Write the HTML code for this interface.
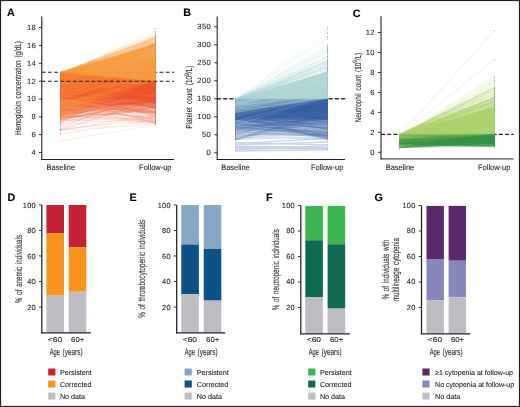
<!DOCTYPE html><html><head><meta charset="utf-8"><style>html,body{margin:0;padding:0;background:#fff;width:520px;height:407px;overflow:hidden}svg{display:block;will-change:transform}text{font-family:"Liberation Sans",sans-serif;stroke:#231f20;stroke-width:0.1px;text-rendering:geometricPrecision}path{vector-effect:non-scaling-stroke;stroke-width:1px;fill:none}.w path{stroke-width:1.3px}</style></head><body><svg width="520" height="407" viewBox="0 0 520 407" font-family="Liberation Sans, sans-serif" fill="#231f20">
<rect x="0" y="0" width="520" height="407" fill="#fff"/>
<g fill="#7a7a7a">
<rect x="59.9" y="71.9" width="0.7" height="52.3"/>
<rect x="59.9" y="124.5" width="0.7" height="0.7"/>
<rect x="59.9" y="125.8" width="0.7" height="0.7"/>
<rect x="59.9" y="127.6" width="0.7" height="0.7"/>
<rect x="59.9" y="128.7" width="0.7" height="2.3"/>
<rect x="59.9" y="132.6" width="0.7" height="1.6"/>
<rect x="59.9" y="140.6" width="0.7" height="0.7"/>
</g>
<g fill="#7a7a7a">
<rect x="155.2" y="28.4" width="0.7" height="0.7"/>
<rect x="155.2" y="31" width="0.7" height="0.7"/>
<rect x="155.2" y="32.6" width="0.7" height="1.2"/>
<rect x="155.2" y="35" width="0.7" height="83.2"/>
<rect x="155.2" y="118.4" width="0.7" height="2.5"/>
<rect x="155.2" y="121.2" width="0.7" height="4.1"/>
</g>
<line x1="41.8" y1="72.2" x2="174" y2="72.2" stroke="#231f20" stroke-width="1.1" stroke-dasharray="3.8 2.4"/>
<g stroke="#f04e2e" stroke-opacity="0.11" transform="translate(60.2 0) scale(95.3 0.1)">
<path d="M0 1306 1 1243"/><path d="M0 1239 1 1066"/><path d="M0 1192 1 1239"/><path d="M0 1176 1 1115"/><path d="M0 1160 1 1076"/><path d="M0 1149 1 997"/><path d="M0 1137 1 1035"/><path d="M0 1120 1 896"/><path d="M0 1110 1 1002"/><path d="M0 1097 1 935"/><path d="M0 1093 1 981"/><path d="M0 1077 1 1008"/><path d="M0 1071 1 969"/><path d="M0 1060 1 1032"/><path d="M0 1050 1 921"/><path d="M0 1036 1 1144"/><path d="M0 1023 1 1126"/><path d="M0 1008 1 1070"/><path d="M0 1001 1 956"/><path d="M0 988 1 980"/><path d="M0 985 1 1230"/><path d="M0 981 1 863"/><path d="M0 979 1 1038"/><path d="M0 975 1 1015"/><path d="M0 970 1 1075"/><path d="M0 965 1 986"/><path d="M0 960 1 1043"/><path d="M0 957 1 853"/><path d="M0 955 1 889"/><path d="M0 951 1 821"/><path d="M0 949 1 939"/><path d="M0 946 1 819"/><path d="M0 942 1 1195"/><path d="M0 939 1 882"/><path d="M0 936 1 835"/><path d="M0 933 1 985"/><path d="M0 930 1 921"/><path d="M0 925 1 954"/><path d="M0 922 1 944"/><path d="M0 918 1 976"/><path d="M0 909 1 1175"/><path d="M0 905 1 1052"/><path d="M0 902 1 1014"/><path d="M0 897 1 892"/><path d="M0 894 1 1090"/><path d="M0 890 1 952"/><path d="M0 886 1 868"/><path d="M0 882 1 951"/><path d="M0 878 1 1122"/><path d="M0 875 1 1053"/><path d="M0 869 1 1031"/><path d="M0 864 1 993"/><path d="M0 861 1 886"/><path d="M0 858 1 943"/><path d="M0 855 1 947"/><path d="M0 851 1 871"/><path d="M0 847 1 930"/><path d="M0 844 1 857"/><path d="M0 841 1 993"/><path d="M0 838 1 980"/><path d="M0 835 1 883"/><path d="M0 830 1 977"/><path d="M0 827 1 863"/><path d="M0 822 1 840"/><path d="M0 818 1 852"/><path d="M0 816 1 862"/><path d="M0 814 1 995"/><path d="M0 811 1 1052"/><path d="M0 809 1 814"/><path d="M0 805 1 843"/><path d="M0 802 1 1084"/><path d="M0 799 1 837"/><path d="M0 795 1 840"/><path d="M0 792 1 831"/><path d="M0 789 1 869"/><path d="M0 787 1 879"/><path d="M0 785 1 1083"/><path d="M0 782 1 1076"/><path d="M0 777 1 900"/><path d="M0 773 1 838"/><path d="M0 769 1 856"/><path d="M0 766 1 831"/><path d="M0 764 1 904"/><path d="M0 762 1 851"/><path d="M0 759 1 1015"/><path d="M0 756 1 837"/><path d="M0 752 1 827"/><path d="M0 749 1 830"/><path d="M0 746 1 845"/><path d="M0 744 1 820"/><path d="M0 739 1 818"/><path d="M0 736 1 814"/><path d="M0 734 1 873"/><path d="M0 732 1 967"/><path d="M0 730 1 858"/><path d="M0 726 1 897"/><path d="M0 1410 1 1249"/>
</g>
<g stroke="#f69c41" stroke-opacity="0.11" transform="translate(60.2 0) scale(95.3 0.1)">
<path d="M0 1233 1 663"/><path d="M0 1202 1 769"/><path d="M0 1175 1 796"/><path d="M0 1151 1 714"/><path d="M0 1145 1 811"/><path d="M0 1135 1 756"/><path d="M0 1128 1 795"/><path d="M0 1118 1 804"/><path d="M0 1112 1 795"/><path d="M0 1106 1 803"/><path d="M0 1096 1 752"/><path d="M0 1089 1 799"/><path d="M0 1082 1 763"/><path d="M0 1073 1 580"/><path d="M0 1068 1 794"/><path d="M0 1061 1 786"/><path d="M0 1056 1 766"/><path d="M0 1048 1 735"/><path d="M0 1043 1 781"/><path d="M0 1038 1 737"/><path d="M0 1030 1 772"/><path d="M0 1020 1 766"/><path d="M0 1013 1 777"/><path d="M0 1000 1 727"/><path d="M0 990 1 675"/><path d="M0 985 1 737"/><path d="M0 979 1 806"/><path d="M0 975 1 712"/><path d="M0 971 1 765"/><path d="M0 969 1 691"/><path d="M0 965 1 670"/><path d="M0 961 1 750"/><path d="M0 958 1 748"/><path d="M0 955 1 668"/><path d="M0 950 1 715"/><path d="M0 947 1 793"/><path d="M0 941 1 720"/><path d="M0 935 1 684"/><path d="M0 932 1 635"/><path d="M0 927 1 641"/><path d="M0 920 1 665"/><path d="M0 916 1 724"/><path d="M0 914 1 497"/><path d="M0 910 1 641"/><path d="M0 906 1 636"/><path d="M0 903 1 787"/><path d="M0 902 1 752"/><path d="M0 899 1 698"/><path d="M0 896 1 656"/><path d="M0 891 1 674"/><path d="M0 887 1 684"/><path d="M0 884 1 617"/><path d="M0 881 1 733"/><path d="M0 877 1 789"/><path d="M0 874 1 652"/><path d="M0 867 1 598"/><path d="M0 864 1 683"/><path d="M0 860 1 619"/><path d="M0 857 1 571"/><path d="M0 854 1 544"/><path d="M0 852 1 590"/><path d="M0 849 1 690"/><path d="M0 846 1 717"/><path d="M0 844 1 715"/><path d="M0 843 1 545"/><path d="M0 841 1 625"/><path d="M0 837 1 733"/><path d="M0 835 1 758"/><path d="M0 832 1 775"/><path d="M0 829 1 602"/><path d="M0 828 1 702"/><path d="M0 827 1 458"/><path d="M0 824 1 755"/><path d="M0 822 1 556"/><path d="M0 819 1 743"/><path d="M0 817 1 472"/><path d="M0 815 1 748"/><path d="M0 812 1 726"/><path d="M0 810 1 464"/><path d="M0 809 1 730"/><path d="M0 806 1 668"/><path d="M0 804 1 597"/><path d="M0 802 1 705"/><path d="M0 798 1 439"/><path d="M0 795 1 563"/><path d="M0 792 1 497"/><path d="M0 789 1 636"/><path d="M0 787 1 578"/><path d="M0 785 1 606"/><path d="M0 782 1 625"/><path d="M0 781 1 474"/><path d="M0 780 1 443"/><path d="M0 777 1 560"/><path d="M0 775 1 599"/><path d="M0 774 1 689"/><path d="M0 772 1 394"/><path d="M0 770 1 600"/><path d="M0 769 1 502"/><path d="M0 767 1 700"/><path d="M0 765 1 545"/><path d="M0 763 1 422"/><path d="M0 761 1 715"/><path d="M0 759 1 519"/><path d="M0 756 1 727"/><path d="M0 755 1 554"/><path d="M0 753 1 642"/><path d="M0 750 1 494"/><path d="M0 747 1 439"/><path d="M0 745 1 536"/><path d="M0 742 1 629"/><path d="M0 741 1 516"/><path d="M0 738 1 384"/><path d="M0 735 1 496"/><path d="M0 734 1 390"/><path d="M0 732 1 557"/><path d="M0 731 1 409"/><path d="M0 729 1 563"/><path d="M0 728 1 403"/><path d="M0 726 1 588"/><path d="M0 725 1 601"/>
</g>
<g stroke="#f04e2e" stroke-opacity="0.11" transform="translate(60.2 0) scale(95.3 0.1)">
<path d="M0 1305 1 1003"/><path d="M0 1219 1 1079"/><path d="M0 1188 1 1095"/><path d="M0 1176 1 963"/><path d="M0 1159 1 1025"/><path d="M0 1149 1 1005"/><path d="M0 1136 1 1227"/><path d="M0 1120 1 1088"/><path d="M0 1110 1 1221"/><path d="M0 1097 1 1090"/><path d="M0 1092 1 881"/><path d="M0 1077 1 931"/><path d="M0 1071 1 1022"/><path d="M0 1058 1 1034"/><path d="M0 1048 1 965"/><path d="M0 1036 1 884"/><path d="M0 1022 1 1024"/><path d="M0 1008 1 971"/><path d="M0 999 1 1048"/><path d="M0 988 1 879"/><path d="M0 984 1 897"/><path d="M0 981 1 979"/><path d="M0 978 1 879"/><path d="M0 975 1 869"/><path d="M0 970 1 947"/><path d="M0 964 1 1139"/><path d="M0 960 1 1007"/><path d="M0 957 1 901"/><path d="M0 954 1 933"/><path d="M0 951 1 1026"/><path d="M0 949 1 865"/><path d="M0 946 1 845"/><path d="M0 942 1 911"/><path d="M0 939 1 885"/><path d="M0 936 1 1085"/><path d="M0 933 1 878"/><path d="M0 929 1 1020"/><path d="M0 924 1 839"/><path d="M0 922 1 927"/><path d="M0 918 1 870"/><path d="M0 909 1 1141"/><path d="M0 905 1 819"/><path d="M0 901 1 862"/><path d="M0 896 1 816"/><path d="M0 894 1 874"/><path d="M0 889 1 1079"/><path d="M0 886 1 912"/><path d="M0 882 1 923"/><path d="M0 878 1 853"/><path d="M0 874 1 1018"/><path d="M0 869 1 957"/><path d="M0 864 1 1014"/><path d="M0 861 1 854"/><path d="M0 858 1 1003"/><path d="M0 855 1 858"/><path d="M0 850 1 937"/><path d="M0 847 1 909"/><path d="M0 844 1 883"/><path d="M0 840 1 1051"/><path d="M0 838 1 824"/><path d="M0 834 1 837"/><path d="M0 830 1 815"/><path d="M0 827 1 832"/><path d="M0 822 1 868"/><path d="M0 818 1 965"/><path d="M0 816 1 828"/><path d="M0 813 1 1015"/><path d="M0 811 1 880"/><path d="M0 808 1 918"/><path d="M0 805 1 872"/><path d="M0 802 1 828"/><path d="M0 799 1 1014"/><path d="M0 794 1 1001"/><path d="M0 792 1 1040"/><path d="M0 789 1 814"/><path d="M0 787 1 852"/><path d="M0 785 1 827"/><path d="M0 782 1 827"/><path d="M0 776 1 888"/><path d="M0 772 1 832"/><path d="M0 769 1 848"/><path d="M0 766 1 847"/><path d="M0 764 1 814"/><path d="M0 762 1 841"/><path d="M0 758 1 817"/><path d="M0 756 1 832"/><path d="M0 752 1 821"/><path d="M0 749 1 942"/><path d="M0 746 1 850"/><path d="M0 744 1 934"/><path d="M0 739 1 812"/><path d="M0 736 1 817"/><path d="M0 734 1 832"/><path d="M0 732 1 864"/><path d="M0 729 1 817"/><path d="M0 726 1 826"/><path d="M0 1338 1 1205"/>
</g>
<g stroke="#f69c41" stroke-opacity="0.11" transform="translate(60.2 0) scale(95.3 0.1)">
<path d="M0 1231 1 778"/><path d="M0 1201 1 746"/><path d="M0 1172 1 795"/><path d="M0 1151 1 802"/><path d="M0 1144 1 784"/><path d="M0 1134 1 738"/><path d="M0 1126 1 796"/><path d="M0 1118 1 722"/><path d="M0 1111 1 778"/><path d="M0 1104 1 637"/><path d="M0 1094 1 778"/><path d="M0 1088 1 725"/><path d="M0 1081 1 779"/><path d="M0 1073 1 807"/><path d="M0 1066 1 571"/><path d="M0 1060 1 645"/><path d="M0 1055 1 628"/><path d="M0 1047 1 803"/><path d="M0 1043 1 744"/><path d="M0 1037 1 660"/><path d="M0 1030 1 803"/><path d="M0 1020 1 799"/><path d="M0 1010 1 585"/><path d="M0 999 1 728"/><path d="M0 988 1 665"/><path d="M0 984 1 705"/><path d="M0 978 1 757"/><path d="M0 975 1 694"/><path d="M0 971 1 773"/><path d="M0 968 1 809"/><path d="M0 965 1 802"/><path d="M0 961 1 685"/><path d="M0 958 1 704"/><path d="M0 954 1 794"/><path d="M0 950 1 626"/><path d="M0 946 1 730"/><path d="M0 941 1 467"/><path d="M0 935 1 704"/><path d="M0 931 1 618"/><path d="M0 926 1 629"/><path d="M0 920 1 747"/><path d="M0 916 1 593"/><path d="M0 914 1 686"/><path d="M0 910 1 719"/><path d="M0 906 1 658"/><path d="M0 903 1 728"/><path d="M0 902 1 718"/><path d="M0 899 1 595"/><path d="M0 896 1 738"/><path d="M0 890 1 524"/><path d="M0 887 1 468"/><path d="M0 883 1 785"/><path d="M0 880 1 629"/><path d="M0 877 1 659"/><path d="M0 872 1 608"/><path d="M0 867 1 633"/><path d="M0 863 1 642"/><path d="M0 860 1 481"/><path d="M0 856 1 641"/><path d="M0 854 1 602"/><path d="M0 852 1 646"/><path d="M0 849 1 543"/><path d="M0 846 1 599"/><path d="M0 844 1 641"/><path d="M0 843 1 740"/><path d="M0 841 1 579"/><path d="M0 836 1 627"/><path d="M0 834 1 462"/><path d="M0 831 1 586"/><path d="M0 829 1 803"/><path d="M0 828 1 675"/><path d="M0 827 1 447"/><path d="M0 823 1 765"/><path d="M0 822 1 658"/><path d="M0 819 1 458"/><path d="M0 817 1 680"/><path d="M0 815 1 669"/><path d="M0 812 1 560"/><path d="M0 810 1 646"/><path d="M0 808 1 608"/><path d="M0 806 1 508"/><path d="M0 804 1 549"/><path d="M0 801 1 465"/><path d="M0 798 1 671"/><path d="M0 795 1 763"/><path d="M0 791 1 624"/><path d="M0 789 1 604"/><path d="M0 787 1 595"/><path d="M0 785 1 485"/><path d="M0 782 1 627"/><path d="M0 781 1 542"/><path d="M0 780 1 750"/><path d="M0 777 1 623"/><path d="M0 775 1 374"/><path d="M0 774 1 580"/><path d="M0 771 1 713"/><path d="M0 770 1 553"/><path d="M0 768 1 648"/><path d="M0 767 1 598"/><path d="M0 764 1 583"/><path d="M0 762 1 534"/><path d="M0 760 1 520"/><path d="M0 759 1 518"/><path d="M0 756 1 545"/><path d="M0 755 1 695"/><path d="M0 753 1 423"/><path d="M0 750 1 454"/><path d="M0 747 1 586"/><path d="M0 745 1 456"/><path d="M0 742 1 615"/><path d="M0 739 1 329"/><path d="M0 737 1 385"/><path d="M0 735 1 478"/><path d="M0 733 1 678"/><path d="M0 732 1 642"/><path d="M0 730 1 461"/><path d="M0 729 1 467"/><path d="M0 728 1 537"/><path d="M0 726 1 383"/><path d="M0 725 1 495"/>
</g>
<g stroke="#f04e2e" stroke-opacity="0.11" transform="translate(60.2 0) scale(95.3 0.1)">
<path d="M0 1302 1 1142"/><path d="M0 1216 1 1068"/><path d="M0 1186 1 1021"/><path d="M0 1175 1 1073"/><path d="M0 1159 1 1193"/><path d="M0 1148 1 942"/><path d="M0 1134 1 994"/><path d="M0 1120 1 988"/><path d="M0 1109 1 1006"/><path d="M0 1096 1 900"/><path d="M0 1091 1 876"/><path d="M0 1077 1 1030"/><path d="M0 1069 1 1042"/><path d="M0 1058 1 1065"/><path d="M0 1048 1 1197"/><path d="M0 1034 1 1012"/><path d="M0 1021 1 887"/><path d="M0 1008 1 871"/><path d="M0 996 1 877"/><path d="M0 988 1 958"/><path d="M0 984 1 892"/><path d="M0 981 1 989"/><path d="M0 978 1 930"/><path d="M0 974 1 990"/><path d="M0 969 1 1030"/><path d="M0 964 1 971"/><path d="M0 959 1 975"/><path d="M0 957 1 965"/><path d="M0 954 1 922"/><path d="M0 951 1 981"/><path d="M0 948 1 973"/><path d="M0 946 1 987"/><path d="M0 941 1 1016"/><path d="M0 939 1 944"/><path d="M0 936 1 1058"/><path d="M0 932 1 868"/><path d="M0 929 1 878"/><path d="M0 924 1 886"/><path d="M0 921 1 892"/><path d="M0 917 1 853"/><path d="M0 908 1 1073"/><path d="M0 905 1 1206"/><path d="M0 901 1 892"/><path d="M0 895 1 1024"/><path d="M0 892 1 972"/><path d="M0 889 1 846"/><path d="M0 885 1 895"/><path d="M0 882 1 978"/><path d="M0 877 1 857"/><path d="M0 874 1 846"/><path d="M0 867 1 895"/><path d="M0 864 1 870"/><path d="M0 861 1 920"/><path d="M0 858 1 1009"/><path d="M0 855 1 880"/><path d="M0 850 1 868"/><path d="M0 847 1 848"/><path d="M0 844 1 876"/><path d="M0 840 1 976"/><path d="M0 838 1 1021"/><path d="M0 834 1 829"/><path d="M0 829 1 988"/><path d="M0 827 1 840"/><path d="M0 821 1 840"/><path d="M0 817 1 879"/><path d="M0 816 1 1006"/><path d="M0 813 1 846"/><path d="M0 811 1 850"/><path d="M0 808 1 825"/><path d="M0 804 1 826"/><path d="M0 801 1 940"/><path d="M0 798 1 870"/><path d="M0 794 1 984"/><path d="M0 792 1 847"/><path d="M0 789 1 830"/><path d="M0 787 1 1025"/><path d="M0 784 1 884"/><path d="M0 781 1 825"/><path d="M0 776 1 1127"/><path d="M0 771 1 914"/><path d="M0 768 1 893"/><path d="M0 766 1 812"/><path d="M0 763 1 940"/><path d="M0 761 1 926"/><path d="M0 758 1 883"/><path d="M0 756 1 817"/><path d="M0 752 1 851"/><path d="M0 749 1 824"/><path d="M0 746 1 824"/><path d="M0 743 1 820"/><path d="M0 739 1 824"/><path d="M0 736 1 876"/><path d="M0 734 1 965"/><path d="M0 732 1 836"/><path d="M0 729 1 822"/><path d="M0 726 1 820"/><path d="M0 1303 1 1169"/>
</g>
<g stroke="#f69c41" stroke-opacity="0.11" transform="translate(60.2 0) scale(95.3 0.1)">
<path d="M0 1229 1 766"/><path d="M0 1201 1 697"/><path d="M0 1171 1 779"/><path d="M0 1150 1 731"/><path d="M0 1143 1 810"/><path d="M0 1132 1 634"/><path d="M0 1125 1 808"/><path d="M0 1117 1 722"/><path d="M0 1111 1 777"/><path d="M0 1103 1 742"/><path d="M0 1094 1 778"/><path d="M0 1088 1 776"/><path d="M0 1081 1 741"/><path d="M0 1072 1 610"/><path d="M0 1066 1 639"/><path d="M0 1060 1 600"/><path d="M0 1053 1 736"/><path d="M0 1047 1 741"/><path d="M0 1042 1 662"/><path d="M0 1037 1 666"/><path d="M0 1029 1 742"/><path d="M0 1020 1 797"/><path d="M0 1010 1 763"/><path d="M0 998 1 779"/><path d="M0 987 1 627"/><path d="M0 984 1 785"/><path d="M0 977 1 790"/><path d="M0 974 1 685"/><path d="M0 971 1 673"/><path d="M0 968 1 701"/><path d="M0 964 1 734"/><path d="M0 961 1 788"/><path d="M0 958 1 722"/><path d="M0 954 1 721"/><path d="M0 950 1 753"/><path d="M0 946 1 629"/><path d="M0 940 1 546"/><path d="M0 934 1 765"/><path d="M0 931 1 655"/><path d="M0 925 1 775"/><path d="M0 919 1 686"/><path d="M0 916 1 738"/><path d="M0 914 1 766"/><path d="M0 909 1 562"/><path d="M0 906 1 581"/><path d="M0 903 1 809"/><path d="M0 902 1 725"/><path d="M0 899 1 735"/><path d="M0 894 1 683"/><path d="M0 890 1 517"/><path d="M0 887 1 770"/><path d="M0 883 1 705"/><path d="M0 879 1 759"/><path d="M0 876 1 805"/><path d="M0 872 1 760"/><path d="M0 866 1 613"/><path d="M0 863 1 694"/><path d="M0 859 1 725"/><path d="M0 856 1 744"/><path d="M0 854 1 574"/><path d="M0 852 1 712"/><path d="M0 849 1 642"/><path d="M0 846 1 643"/><path d="M0 844 1 603"/><path d="M0 843 1 698"/><path d="M0 841 1 737"/><path d="M0 836 1 710"/><path d="M0 834 1 668"/><path d="M0 831 1 693"/><path d="M0 829 1 674"/><path d="M0 828 1 542"/><path d="M0 827 1 699"/><path d="M0 823 1 747"/><path d="M0 822 1 619"/><path d="M0 819 1 514"/><path d="M0 817 1 597"/><path d="M0 815 1 734"/><path d="M0 812 1 465"/><path d="M0 809 1 604"/><path d="M0 808 1 760"/><path d="M0 806 1 728"/><path d="M0 804 1 641"/><path d="M0 801 1 644"/><path d="M0 798 1 455"/><path d="M0 795 1 523"/><path d="M0 791 1 714"/><path d="M0 788 1 637"/><path d="M0 787 1 512"/><path d="M0 784 1 598"/><path d="M0 782 1 489"/><path d="M0 781 1 680"/><path d="M0 779 1 570"/><path d="M0 777 1 525"/><path d="M0 775 1 443"/><path d="M0 773 1 456"/><path d="M0 771 1 673"/><path d="M0 770 1 510"/><path d="M0 768 1 630"/><path d="M0 767 1 724"/><path d="M0 764 1 425"/><path d="M0 762 1 501"/><path d="M0 760 1 616"/><path d="M0 758 1 553"/><path d="M0 756 1 690"/><path d="M0 754 1 509"/><path d="M0 753 1 447"/><path d="M0 750 1 627"/><path d="M0 746 1 478"/><path d="M0 744 1 491"/><path d="M0 742 1 601"/><path d="M0 739 1 388"/><path d="M0 737 1 579"/><path d="M0 735 1 570"/><path d="M0 733 1 523"/><path d="M0 732 1 614"/><path d="M0 730 1 498"/><path d="M0 729 1 460"/><path d="M0 727 1 551"/><path d="M0 726 1 448"/><path d="M0 725 1 695"/>
</g>
<g stroke="#f04e2e" stroke-opacity="0.11" transform="translate(60.2 0) scale(95.3 0.1)">
<path d="M0 1294 1 993"/><path d="M0 1210 1 1164"/><path d="M0 1185 1 913"/><path d="M0 1169 1 1225"/><path d="M0 1159 1 859"/><path d="M0 1148 1 956"/><path d="M0 1131 1 952"/><path d="M0 1118 1 947"/><path d="M0 1109 1 881"/><path d="M0 1096 1 1126"/><path d="M0 1090 1 1049"/><path d="M0 1076 1 1009"/><path d="M0 1068 1 853"/><path d="M0 1057 1 1007"/><path d="M0 1045 1 951"/><path d="M0 1034 1 925"/><path d="M0 1019 1 1070"/><path d="M0 1008 1 1161"/><path d="M0 996 1 1225"/><path d="M0 988 1 937"/><path d="M0 984 1 1071"/><path d="M0 980 1 1024"/><path d="M0 978 1 938"/><path d="M0 973 1 1049"/><path d="M0 969 1 945"/><path d="M0 964 1 929"/><path d="M0 959 1 939"/><path d="M0 957 1 1069"/><path d="M0 954 1 918"/><path d="M0 951 1 924"/><path d="M0 948 1 996"/><path d="M0 945 1 1031"/><path d="M0 941 1 1113"/><path d="M0 939 1 1069"/><path d="M0 935 1 985"/><path d="M0 932 1 1044"/><path d="M0 928 1 1023"/><path d="M0 924 1 872"/><path d="M0 921 1 829"/><path d="M0 916 1 975"/><path d="M0 908 1 982"/><path d="M0 905 1 941"/><path d="M0 900 1 844"/><path d="M0 895 1 854"/><path d="M0 892 1 877"/><path d="M0 888 1 893"/><path d="M0 885 1 856"/><path d="M0 880 1 965"/><path d="M0 877 1 1128"/><path d="M0 874 1 1035"/><path d="M0 867 1 1001"/><path d="M0 862 1 863"/><path d="M0 860 1 973"/><path d="M0 858 1 854"/><path d="M0 855 1 909"/><path d="M0 849 1 836"/><path d="M0 846 1 940"/><path d="M0 843 1 942"/><path d="M0 840 1 856"/><path d="M0 837 1 828"/><path d="M0 833 1 864"/><path d="M0 829 1 977"/><path d="M0 827 1 828"/><path d="M0 821 1 838"/><path d="M0 817 1 1002"/><path d="M0 816 1 849"/><path d="M0 813 1 878"/><path d="M0 811 1 855"/><path d="M0 808 1 816"/><path d="M0 804 1 889"/><path d="M0 801 1 912"/><path d="M0 798 1 986"/><path d="M0 794 1 885"/><path d="M0 792 1 948"/><path d="M0 789 1 819"/><path d="M0 787 1 883"/><path d="M0 784 1 812"/><path d="M0 780 1 901"/><path d="M0 776 1 922"/><path d="M0 770 1 826"/><path d="M0 768 1 874"/><path d="M0 766 1 854"/><path d="M0 763 1 879"/><path d="M0 760 1 1003"/><path d="M0 758 1 881"/><path d="M0 755 1 862"/><path d="M0 750 1 813"/><path d="M0 748 1 922"/><path d="M0 745 1 871"/><path d="M0 742 1 867"/><path d="M0 739 1 841"/><path d="M0 736 1 874"/><path d="M0 734 1 843"/><path d="M0 731 1 816"/><path d="M0 729 1 908"/><path d="M0 725 1 853"/>
</g>
<g stroke="#f69c41" stroke-opacity="0.11" transform="translate(60.2 0) scale(95.3 0.1)">
<path d="M0 1227 1 801"/><path d="M0 1199 1 784"/><path d="M0 1165 1 810"/><path d="M0 1148 1 787"/><path d="M0 1142 1 784"/><path d="M0 1131 1 788"/><path d="M0 1125 1 765"/><path d="M0 1116 1 760"/><path d="M0 1109 1 763"/><path d="M0 1102 1 737"/><path d="M0 1093 1 538"/><path d="M0 1087 1 618"/><path d="M0 1079 1 804"/><path d="M0 1071 1 790"/><path d="M0 1066 1 746"/><path d="M0 1060 1 761"/><path d="M0 1053 1 809"/><path d="M0 1046 1 768"/><path d="M0 1042 1 801"/><path d="M0 1036 1 734"/><path d="M0 1029 1 653"/><path d="M0 1019 1 761"/><path d="M0 1007 1 575"/><path d="M0 997 1 754"/><path d="M0 986 1 691"/><path d="M0 984 1 610"/><path d="M0 976 1 693"/><path d="M0 974 1 577"/><path d="M0 970 1 758"/><path d="M0 968 1 777"/><path d="M0 964 1 761"/><path d="M0 961 1 767"/><path d="M0 957 1 785"/><path d="M0 953 1 727"/><path d="M0 950 1 661"/><path d="M0 945 1 651"/><path d="M0 939 1 634"/><path d="M0 934 1 522"/><path d="M0 931 1 691"/><path d="M0 924 1 703"/><path d="M0 919 1 772"/><path d="M0 916 1 669"/><path d="M0 914 1 462"/><path d="M0 909 1 558"/><path d="M0 905 1 675"/><path d="M0 903 1 728"/><path d="M0 902 1 444"/><path d="M0 899 1 718"/><path d="M0 894 1 698"/><path d="M0 890 1 653"/><path d="M0 886 1 682"/><path d="M0 883 1 687"/><path d="M0 879 1 505"/><path d="M0 876 1 760"/><path d="M0 872 1 596"/><path d="M0 866 1 622"/><path d="M0 863 1 753"/><path d="M0 859 1 646"/><path d="M0 856 1 567"/><path d="M0 854 1 720"/><path d="M0 852 1 615"/><path d="M0 848 1 529"/><path d="M0 846 1 795"/><path d="M0 844 1 572"/><path d="M0 843 1 674"/><path d="M0 840 1 679"/><path d="M0 836 1 494"/><path d="M0 833 1 735"/><path d="M0 830 1 495"/><path d="M0 829 1 610"/><path d="M0 828 1 562"/><path d="M0 827 1 679"/><path d="M0 823 1 763"/><path d="M0 821 1 659"/><path d="M0 819 1 705"/><path d="M0 817 1 508"/><path d="M0 814 1 716"/><path d="M0 812 1 539"/><path d="M0 809 1 587"/><path d="M0 808 1 775"/><path d="M0 805 1 598"/><path d="M0 803 1 641"/><path d="M0 801 1 525"/><path d="M0 798 1 596"/><path d="M0 795 1 697"/><path d="M0 791 1 606"/><path d="M0 788 1 614"/><path d="M0 787 1 606"/><path d="M0 783 1 573"/><path d="M0 782 1 402"/><path d="M0 781 1 432"/><path d="M0 779 1 592"/><path d="M0 777 1 724"/><path d="M0 774 1 625"/><path d="M0 773 1 705"/><path d="M0 771 1 365"/><path d="M0 769 1 441"/><path d="M0 768 1 573"/><path d="M0 766 1 613"/><path d="M0 764 1 719"/><path d="M0 761 1 620"/><path d="M0 760 1 476"/><path d="M0 758 1 670"/><path d="M0 756 1 445"/><path d="M0 754 1 488"/><path d="M0 752 1 545"/><path d="M0 750 1 452"/><path d="M0 746 1 600"/><path d="M0 744 1 522"/><path d="M0 741 1 538"/><path d="M0 739 1 452"/><path d="M0 736 1 418"/><path d="M0 735 1 653"/><path d="M0 733 1 700"/><path d="M0 732 1 688"/><path d="M0 730 1 701"/><path d="M0 729 1 480"/><path d="M0 727 1 516"/><path d="M0 726 1 377"/><path d="M0 724 1 442"/>
</g>
<g stroke="#f04e2e" stroke-opacity="0.11" transform="translate(60.2 0) scale(95.3 0.1)">
<path d="M0 1293 1 999"/><path d="M0 1208 1 979"/><path d="M0 1185 1 1042"/><path d="M0 1169 1 950"/><path d="M0 1158 1 973"/><path d="M0 1146 1 1215"/><path d="M0 1129 1 1014"/><path d="M0 1118 1 1058"/><path d="M0 1108 1 838"/><path d="M0 1096 1 1225"/><path d="M0 1089 1 870"/><path d="M0 1076 1 891"/><path d="M0 1068 1 1012"/><path d="M0 1057 1 841"/><path d="M0 1045 1 1118"/><path d="M0 1028 1 1056"/><path d="M0 1016 1 890"/><path d="M0 1007 1 885"/><path d="M0 996 1 981"/><path d="M0 988 1 1012"/><path d="M0 983 1 1216"/><path d="M0 979 1 843"/><path d="M0 977 1 897"/><path d="M0 973 1 1126"/><path d="M0 967 1 885"/><path d="M0 964 1 989"/><path d="M0 959 1 1158"/><path d="M0 956 1 1054"/><path d="M0 953 1 1012"/><path d="M0 951 1 1075"/><path d="M0 948 1 939"/><path d="M0 945 1 914"/><path d="M0 941 1 1010"/><path d="M0 939 1 886"/><path d="M0 935 1 1009"/><path d="M0 931 1 898"/><path d="M0 928 1 860"/><path d="M0 924 1 825"/><path d="M0 920 1 1157"/><path d="M0 915 1 920"/><path d="M0 907 1 922"/><path d="M0 904 1 833"/><path d="M0 899 1 834"/><path d="M0 894 1 983"/><path d="M0 892 1 1024"/><path d="M0 888 1 846"/><path d="M0 885 1 942"/><path d="M0 880 1 839"/><path d="M0 877 1 850"/><path d="M0 873 1 1021"/><path d="M0 867 1 878"/><path d="M0 862 1 912"/><path d="M0 859 1 947"/><path d="M0 857 1 944"/><path d="M0 854 1 845"/><path d="M0 849 1 843"/><path d="M0 846 1 902"/><path d="M0 843 1 890"/><path d="M0 840 1 863"/><path d="M0 837 1 827"/><path d="M0 833 1 864"/><path d="M0 829 1 867"/><path d="M0 825 1 849"/><path d="M0 820 1 1015"/><path d="M0 817 1 877"/><path d="M0 816 1 939"/><path d="M0 813 1 1033"/><path d="M0 810 1 853"/><path d="M0 808 1 972"/><path d="M0 804 1 896"/><path d="M0 801 1 895"/><path d="M0 797 1 834"/><path d="M0 794 1 927"/><path d="M0 791 1 987"/><path d="M0 788 1 860"/><path d="M0 786 1 817"/><path d="M0 784 1 846"/><path d="M0 780 1 857"/><path d="M0 775 1 823"/><path d="M0 770 1 813"/><path d="M0 768 1 828"/><path d="M0 766 1 836"/><path d="M0 763 1 843"/><path d="M0 760 1 891"/><path d="M0 758 1 939"/><path d="M0 755 1 861"/><path d="M0 750 1 986"/><path d="M0 747 1 963"/><path d="M0 745 1 955"/><path d="M0 742 1 822"/><path d="M0 738 1 912"/><path d="M0 736 1 944"/><path d="M0 734 1 814"/><path d="M0 731 1 889"/><path d="M0 728 1 835"/><path d="M0 724 1 910"/>
</g>
<g stroke="#f69c41" stroke-opacity="0.11" transform="translate(60.2 0) scale(95.3 0.1)">
<path d="M0 1224 1 786"/><path d="M0 1197 1 811"/><path d="M0 1160 1 748"/><path d="M0 1147 1 800"/><path d="M0 1140 1 735"/><path d="M0 1131 1 771"/><path d="M0 1124 1 671"/><path d="M0 1115 1 718"/><path d="M0 1108 1 789"/><path d="M0 1101 1 727"/><path d="M0 1092 1 810"/><path d="M0 1086 1 747"/><path d="M0 1077 1 805"/><path d="M0 1071 1 731"/><path d="M0 1066 1 772"/><path d="M0 1059 1 721"/><path d="M0 1052 1 730"/><path d="M0 1046 1 630"/><path d="M0 1041 1 804"/><path d="M0 1036 1 697"/><path d="M0 1026 1 799"/><path d="M0 1019 1 758"/><path d="M0 1004 1 650"/><path d="M0 996 1 777"/><path d="M0 986 1 680"/><path d="M0 983 1 770"/><path d="M0 976 1 603"/><path d="M0 973 1 681"/><path d="M0 970 1 784"/><path d="M0 968 1 794"/><path d="M0 964 1 737"/><path d="M0 960 1 789"/><path d="M0 957 1 622"/><path d="M0 952 1 705"/><path d="M0 949 1 774"/><path d="M0 944 1 778"/><path d="M0 938 1 787"/><path d="M0 934 1 781"/><path d="M0 930 1 806"/><path d="M0 923 1 781"/><path d="M0 919 1 556"/><path d="M0 915 1 759"/><path d="M0 913 1 600"/><path d="M0 908 1 746"/><path d="M0 905 1 761"/><path d="M0 903 1 761"/><path d="M0 901 1 685"/><path d="M0 899 1 776"/><path d="M0 894 1 730"/><path d="M0 890 1 592"/><path d="M0 886 1 732"/><path d="M0 882 1 804"/><path d="M0 879 1 637"/><path d="M0 876 1 517"/><path d="M0 871 1 799"/><path d="M0 865 1 676"/><path d="M0 863 1 778"/><path d="M0 858 1 528"/><path d="M0 855 1 600"/><path d="M0 854 1 711"/><path d="M0 851 1 463"/><path d="M0 848 1 433"/><path d="M0 845 1 676"/><path d="M0 844 1 648"/><path d="M0 843 1 723"/><path d="M0 840 1 702"/><path d="M0 836 1 648"/><path d="M0 832 1 626"/><path d="M0 830 1 583"/><path d="M0 829 1 676"/><path d="M0 828 1 436"/><path d="M0 826 1 741"/><path d="M0 823 1 642"/><path d="M0 821 1 677"/><path d="M0 818 1 670"/><path d="M0 817 1 551"/><path d="M0 814 1 698"/><path d="M0 811 1 502"/><path d="M0 809 1 482"/><path d="M0 807 1 631"/><path d="M0 805 1 637"/><path d="M0 803 1 720"/><path d="M0 801 1 613"/><path d="M0 797 1 735"/><path d="M0 794 1 448"/><path d="M0 791 1 686"/><path d="M0 788 1 453"/><path d="M0 787 1 602"/><path d="M0 783 1 594"/><path d="M0 782 1 675"/><path d="M0 780 1 472"/><path d="M0 779 1 459"/><path d="M0 777 1 365"/><path d="M0 774 1 447"/><path d="M0 773 1 725"/><path d="M0 771 1 598"/><path d="M0 769 1 530"/><path d="M0 767 1 504"/><path d="M0 766 1 313"/><path d="M0 764 1 489"/><path d="M0 761 1 497"/><path d="M0 760 1 445"/><path d="M0 758 1 536"/><path d="M0 756 1 411"/><path d="M0 754 1 459"/><path d="M0 752 1 603"/><path d="M0 750 1 691"/><path d="M0 746 1 334"/><path d="M0 744 1 668"/><path d="M0 741 1 534"/><path d="M0 739 1 437"/><path d="M0 736 1 514"/><path d="M0 734 1 370"/><path d="M0 733 1 413"/><path d="M0 732 1 355"/><path d="M0 730 1 430"/><path d="M0 729 1 442"/><path d="M0 727 1 464"/><path d="M0 726 1 615"/><path d="M0 724 1 495"/>
</g>
<g stroke="#f04e2e" stroke-opacity="0.11" transform="translate(60.2 0) scale(95.3 0.1)">
<path d="M0 1292 1 1200"/><path d="M0 1206 1 996"/><path d="M0 1185 1 1035"/><path d="M0 1168 1 1110"/><path d="M0 1156 1 875"/><path d="M0 1143 1 893"/><path d="M0 1127 1 1165"/><path d="M0 1118 1 1017"/><path d="M0 1107 1 880"/><path d="M0 1095 1 1127"/><path d="M0 1089 1 965"/><path d="M0 1076 1 864"/><path d="M0 1067 1 1116"/><path d="M0 1055 1 1132"/><path d="M0 1044 1 821"/><path d="M0 1027 1 1033"/><path d="M0 1015 1 1052"/><path d="M0 1007 1 1140"/><path d="M0 994 1 827"/><path d="M0 987 1 942"/><path d="M0 983 1 1114"/><path d="M0 979 1 870"/><path d="M0 977 1 912"/><path d="M0 973 1 905"/><path d="M0 967 1 867"/><path d="M0 963 1 901"/><path d="M0 959 1 1149"/><path d="M0 956 1 1005"/><path d="M0 953 1 1062"/><path d="M0 951 1 939"/><path d="M0 947 1 868"/><path d="M0 945 1 1048"/><path d="M0 941 1 974"/><path d="M0 938 1 900"/><path d="M0 934 1 877"/><path d="M0 931 1 873"/><path d="M0 928 1 892"/><path d="M0 923 1 895"/><path d="M0 920 1 924"/><path d="M0 914 1 1078"/><path d="M0 907 1 933"/><path d="M0 903 1 878"/><path d="M0 899 1 958"/><path d="M0 894 1 907"/><path d="M0 892 1 954"/><path d="M0 888 1 1151"/><path d="M0 884 1 877"/><path d="M0 880 1 935"/><path d="M0 876 1 869"/><path d="M0 873 1 1004"/><path d="M0 866 1 820"/><path d="M0 862 1 893"/><path d="M0 858 1 1092"/><path d="M0 857 1 866"/><path d="M0 853 1 879"/><path d="M0 849 1 932"/><path d="M0 846 1 820"/><path d="M0 842 1 903"/><path d="M0 840 1 948"/><path d="M0 837 1 900"/><path d="M0 832 1 886"/><path d="M0 829 1 1087"/><path d="M0 825 1 925"/><path d="M0 820 1 885"/><path d="M0 817 1 848"/><path d="M0 816 1 865"/><path d="M0 813 1 961"/><path d="M0 809 1 889"/><path d="M0 808 1 858"/><path d="M0 804 1 813"/><path d="M0 801 1 971"/><path d="M0 797 1 882"/><path d="M0 794 1 855"/><path d="M0 791 1 866"/><path d="M0 788 1 1001"/><path d="M0 786 1 812"/><path d="M0 784 1 854"/><path d="M0 779 1 842"/><path d="M0 775 1 846"/><path d="M0 770 1 882"/><path d="M0 768 1 815"/><path d="M0 766 1 1021"/><path d="M0 763 1 967"/><path d="M0 760 1 871"/><path d="M0 758 1 822"/><path d="M0 754 1 827"/><path d="M0 750 1 862"/><path d="M0 747 1 857"/><path d="M0 745 1 954"/><path d="M0 741 1 827"/><path d="M0 738 1 818"/><path d="M0 736 1 955"/><path d="M0 733 1 816"/><path d="M0 730 1 823"/><path d="M0 728 1 939"/><path d="M0 724 1 820"/>
</g>
<g stroke="#f69c41" stroke-opacity="0.11" transform="translate(60.2 0) scale(95.3 0.1)">
<path d="M0 1219 1 769"/><path d="M0 1197 1 779"/><path d="M0 1159 1 784"/><path d="M0 1147 1 779"/><path d="M0 1139 1 807"/><path d="M0 1130 1 801"/><path d="M0 1123 1 811"/><path d="M0 1115 1 767"/><path d="M0 1108 1 727"/><path d="M0 1100 1 687"/><path d="M0 1092 1 761"/><path d="M0 1086 1 748"/><path d="M0 1077 1 730"/><path d="M0 1070 1 772"/><path d="M0 1065 1 736"/><path d="M0 1059 1 636"/><path d="M0 1052 1 759"/><path d="M0 1046 1 511"/><path d="M0 1040 1 808"/><path d="M0 1035 1 726"/><path d="M0 1026 1 649"/><path d="M0 1018 1 699"/><path d="M0 1004 1 783"/><path d="M0 995 1 767"/><path d="M0 985 1 748"/><path d="M0 983 1 710"/><path d="M0 976 1 810"/><path d="M0 973 1 792"/><path d="M0 970 1 774"/><path d="M0 967 1 782"/><path d="M0 963 1 661"/><path d="M0 960 1 717"/><path d="M0 956 1 707"/><path d="M0 952 1 735"/><path d="M0 949 1 742"/><path d="M0 944 1 782"/><path d="M0 937 1 686"/><path d="M0 934 1 713"/><path d="M0 928 1 693"/><path d="M0 923 1 619"/><path d="M0 918 1 753"/><path d="M0 915 1 647"/><path d="M0 913 1 594"/><path d="M0 908 1 743"/><path d="M0 905 1 795"/><path d="M0 903 1 488"/><path d="M0 900 1 799"/><path d="M0 898 1 767"/><path d="M0 894 1 682"/><path d="M0 889 1 674"/><path d="M0 886 1 585"/><path d="M0 882 1 608"/><path d="M0 879 1 801"/><path d="M0 875 1 525"/><path d="M0 871 1 498"/><path d="M0 865 1 792"/><path d="M0 863 1 790"/><path d="M0 858 1 783"/><path d="M0 855 1 717"/><path d="M0 854 1 517"/><path d="M0 851 1 641"/><path d="M0 848 1 676"/><path d="M0 845 1 618"/><path d="M0 844 1 745"/><path d="M0 842 1 783"/><path d="M0 840 1 566"/><path d="M0 836 1 687"/><path d="M0 832 1 704"/><path d="M0 830 1 570"/><path d="M0 829 1 486"/><path d="M0 828 1 656"/><path d="M0 826 1 569"/><path d="M0 823 1 584"/><path d="M0 821 1 620"/><path d="M0 818 1 729"/><path d="M0 817 1 575"/><path d="M0 814 1 486"/><path d="M0 811 1 628"/><path d="M0 809 1 618"/><path d="M0 807 1 652"/><path d="M0 805 1 626"/><path d="M0 803 1 529"/><path d="M0 800 1 509"/><path d="M0 797 1 531"/><path d="M0 794 1 438"/><path d="M0 791 1 428"/><path d="M0 788 1 524"/><path d="M0 786 1 674"/><path d="M0 783 1 660"/><path d="M0 781 1 501"/><path d="M0 780 1 450"/><path d="M0 778 1 579"/><path d="M0 777 1 445"/><path d="M0 774 1 446"/><path d="M0 772 1 490"/><path d="M0 771 1 576"/><path d="M0 769 1 392"/><path d="M0 767 1 585"/><path d="M0 766 1 533"/><path d="M0 764 1 433"/><path d="M0 761 1 442"/><path d="M0 760 1 495"/><path d="M0 758 1 594"/><path d="M0 755 1 524"/><path d="M0 754 1 405"/><path d="M0 752 1 287"/><path d="M0 749 1 470"/><path d="M0 746 1 438"/><path d="M0 744 1 543"/><path d="M0 741 1 428"/><path d="M0 739 1 488"/><path d="M0 736 1 427"/><path d="M0 734 1 538"/><path d="M0 733 1 458"/><path d="M0 732 1 504"/><path d="M0 730 1 581"/><path d="M0 728 1 506"/><path d="M0 727 1 496"/><path d="M0 726 1 358"/><path d="M0 724 1 498"/>
</g>
<g stroke="#f04e2e" stroke-opacity="0.11" transform="translate(60.2 0) scale(95.3 0.1)">
<path d="M0 1290 1 862"/><path d="M0 1205 1 988"/><path d="M0 1182 1 1097"/><path d="M0 1163 1 983"/><path d="M0 1154 1 1038"/><path d="M0 1140 1 1069"/><path d="M0 1125 1 1111"/><path d="M0 1114 1 837"/><path d="M0 1106 1 928"/><path d="M0 1095 1 1215"/><path d="M0 1088 1 998"/><path d="M0 1076 1 911"/><path d="M0 1065 1 941"/><path d="M0 1055 1 851"/><path d="M0 1043 1 1010"/><path d="M0 1025 1 866"/><path d="M0 1013 1 855"/><path d="M0 1007 1 1073"/><path d="M0 991 1 1015"/><path d="M0 987 1 976"/><path d="M0 983 1 880"/><path d="M0 979 1 987"/><path d="M0 977 1 1056"/><path d="M0 973 1 870"/><path d="M0 967 1 1070"/><path d="M0 963 1 996"/><path d="M0 959 1 994"/><path d="M0 956 1 927"/><path d="M0 952 1 900"/><path d="M0 951 1 832"/><path d="M0 947 1 910"/><path d="M0 944 1 877"/><path d="M0 941 1 859"/><path d="M0 937 1 874"/><path d="M0 934 1 978"/><path d="M0 931 1 909"/><path d="M0 928 1 858"/><path d="M0 923 1 839"/><path d="M0 919 1 1005"/><path d="M0 914 1 892"/><path d="M0 907 1 930"/><path d="M0 902 1 1009"/><path d="M0 899 1 1074"/><path d="M0 894 1 904"/><path d="M0 891 1 844"/><path d="M0 887 1 1097"/><path d="M0 883 1 893"/><path d="M0 879 1 1014"/><path d="M0 876 1 992"/><path d="M0 871 1 883"/><path d="M0 865 1 972"/><path d="M0 862 1 832"/><path d="M0 858 1 898"/><path d="M0 856 1 1012"/><path d="M0 852 1 861"/><path d="M0 848 1 1024"/><path d="M0 846 1 824"/><path d="M0 842 1 869"/><path d="M0 839 1 870"/><path d="M0 835 1 889"/><path d="M0 831 1 863"/><path d="M0 829 1 972"/><path d="M0 824 1 830"/><path d="M0 819 1 999"/><path d="M0 817 1 863"/><path d="M0 815 1 855"/><path d="M0 813 1 875"/><path d="M0 809 1 817"/><path d="M0 808 1 897"/><path d="M0 804 1 946"/><path d="M0 800 1 976"/><path d="M0 797 1 867"/><path d="M0 794 1 827"/><path d="M0 791 1 890"/><path d="M0 788 1 973"/><path d="M0 786 1 869"/><path d="M0 784 1 1027"/><path d="M0 779 1 825"/><path d="M0 774 1 923"/><path d="M0 770 1 829"/><path d="M0 768 1 869"/><path d="M0 766 1 890"/><path d="M0 763 1 832"/><path d="M0 760 1 878"/><path d="M0 757 1 876"/><path d="M0 754 1 834"/><path d="M0 750 1 813"/><path d="M0 747 1 876"/><path d="M0 745 1 861"/><path d="M0 740 1 862"/><path d="M0 737 1 989"/><path d="M0 736 1 830"/><path d="M0 733 1 868"/><path d="M0 730 1 858"/><path d="M0 728 1 881"/><path d="M0 724 1 1009"/>
</g>
<g stroke="#f69c41" stroke-opacity="0.11" transform="translate(60.2 0) scale(95.3 0.1)">
<path d="M0 1217 1 776"/><path d="M0 1192 1 810"/><path d="M0 1159 1 633"/><path d="M0 1146 1 745"/><path d="M0 1138 1 804"/><path d="M0 1130 1 760"/><path d="M0 1123 1 811"/><path d="M0 1115 1 733"/><path d="M0 1108 1 766"/><path d="M0 1099 1 720"/><path d="M0 1091 1 672"/><path d="M0 1086 1 733"/><path d="M0 1076 1 743"/><path d="M0 1070 1 777"/><path d="M0 1062 1 751"/><path d="M0 1058 1 769"/><path d="M0 1051 1 591"/><path d="M0 1045 1 797"/><path d="M0 1040 1 660"/><path d="M0 1034 1 777"/><path d="M0 1025 1 538"/><path d="M0 1016 1 795"/><path d="M0 1002 1 768"/><path d="M0 995 1 709"/><path d="M0 985 1 695"/><path d="M0 982 1 736"/><path d="M0 975 1 794"/><path d="M0 973 1 763"/><path d="M0 970 1 728"/><path d="M0 967 1 544"/><path d="M0 962 1 764"/><path d="M0 960 1 766"/><path d="M0 956 1 650"/><path d="M0 952 1 675"/><path d="M0 949 1 734"/><path d="M0 943 1 631"/><path d="M0 936 1 713"/><path d="M0 933 1 709"/><path d="M0 928 1 745"/><path d="M0 923 1 779"/><path d="M0 918 1 606"/><path d="M0 915 1 779"/><path d="M0 912 1 734"/><path d="M0 908 1 680"/><path d="M0 905 1 614"/><path d="M0 903 1 649"/><path d="M0 900 1 609"/><path d="M0 898 1 802"/><path d="M0 894 1 681"/><path d="M0 889 1 562"/><path d="M0 886 1 475"/><path d="M0 881 1 633"/><path d="M0 878 1 484"/><path d="M0 875 1 711"/><path d="M0 870 1 781"/><path d="M0 865 1 802"/><path d="M0 862 1 520"/><path d="M0 858 1 731"/><path d="M0 855 1 710"/><path d="M0 854 1 613"/><path d="M0 850 1 724"/><path d="M0 847 1 732"/><path d="M0 845 1 509"/><path d="M0 843 1 528"/><path d="M0 842 1 552"/><path d="M0 840 1 615"/><path d="M0 835 1 743"/><path d="M0 832 1 700"/><path d="M0 830 1 618"/><path d="M0 829 1 546"/><path d="M0 827 1 779"/><path d="M0 825 1 540"/><path d="M0 823 1 546"/><path d="M0 820 1 730"/><path d="M0 818 1 627"/><path d="M0 816 1 637"/><path d="M0 814 1 411"/><path d="M0 811 1 775"/><path d="M0 809 1 720"/><path d="M0 807 1 533"/><path d="M0 805 1 527"/><path d="M0 803 1 673"/><path d="M0 799 1 601"/><path d="M0 797 1 615"/><path d="M0 793 1 599"/><path d="M0 791 1 665"/><path d="M0 788 1 723"/><path d="M0 786 1 533"/><path d="M0 783 1 676"/><path d="M0 781 1 557"/><path d="M0 780 1 723"/><path d="M0 778 1 704"/><path d="M0 777 1 478"/><path d="M0 774 1 556"/><path d="M0 772 1 781"/><path d="M0 771 1 520"/><path d="M0 769 1 646"/><path d="M0 767 1 706"/><path d="M0 766 1 596"/><path d="M0 763 1 737"/><path d="M0 761 1 558"/><path d="M0 760 1 432"/><path d="M0 758 1 464"/><path d="M0 755 1 475"/><path d="M0 754 1 449"/><path d="M0 751 1 448"/><path d="M0 747 1 461"/><path d="M0 746 1 376"/><path d="M0 744 1 455"/><path d="M0 741 1 633"/><path d="M0 738 1 436"/><path d="M0 736 1 533"/><path d="M0 734 1 700"/><path d="M0 733 1 462"/><path d="M0 732 1 474"/><path d="M0 730 1 534"/><path d="M0 728 1 396"/><path d="M0 726 1 457"/><path d="M0 726 1 472"/><path d="M0 724 1 378"/>
</g>
<g stroke="#f04e2e" stroke-opacity="0.11" transform="translate(60.2 0) scale(95.3 0.1)">
<path d="M0 1280 1 903"/><path d="M0 1202 1 1074"/><path d="M0 1179 1 947"/><path d="M0 1163 1 980"/><path d="M0 1154 1 1229"/><path d="M0 1139 1 1057"/><path d="M0 1123 1 1170"/><path d="M0 1114 1 990"/><path d="M0 1106 1 996"/><path d="M0 1093 1 1178"/><path d="M0 1085 1 951"/><path d="M0 1075 1 872"/><path d="M0 1064 1 841"/><path d="M0 1054 1 1119"/><path d="M0 1041 1 975"/><path d="M0 1025 1 1105"/><path d="M0 1012 1 862"/><path d="M0 1006 1 1204"/><path d="M0 991 1 982"/><path d="M0 987 1 853"/><path d="M0 982 1 1090"/><path d="M0 979 1 1140"/><path d="M0 976 1 1004"/><path d="M0 972 1 852"/><path d="M0 965 1 856"/><path d="M0 962 1 968"/><path d="M0 958 1 904"/><path d="M0 955 1 931"/><path d="M0 952 1 905"/><path d="M0 950 1 868"/><path d="M0 947 1 881"/><path d="M0 944 1 1003"/><path d="M0 940 1 1126"/><path d="M0 937 1 816"/><path d="M0 934 1 829"/><path d="M0 931 1 833"/><path d="M0 927 1 949"/><path d="M0 923 1 1105"/><path d="M0 918 1 844"/><path d="M0 911 1 860"/><path d="M0 907 1 865"/><path d="M0 902 1 916"/><path d="M0 898 1 882"/><path d="M0 894 1 829"/><path d="M0 891 1 932"/><path d="M0 887 1 1164"/><path d="M0 882 1 1173"/><path d="M0 879 1 1239"/><path d="M0 876 1 855"/><path d="M0 871 1 937"/><path d="M0 865 1 894"/><path d="M0 861 1 845"/><path d="M0 858 1 969"/><path d="M0 856 1 886"/><path d="M0 852 1 848"/><path d="M0 848 1 895"/><path d="M0 845 1 855"/><path d="M0 842 1 825"/><path d="M0 839 1 973"/><path d="M0 835 1 947"/><path d="M0 831 1 998"/><path d="M0 829 1 1034"/><path d="M0 824 1 927"/><path d="M0 819 1 871"/><path d="M0 817 1 1077"/><path d="M0 815 1 841"/><path d="M0 813 1 820"/><path d="M0 809 1 820"/><path d="M0 806 1 845"/><path d="M0 803 1 905"/><path d="M0 800 1 862"/><path d="M0 796 1 874"/><path d="M0 794 1 855"/><path d="M0 790 1 839"/><path d="M0 788 1 834"/><path d="M0 785 1 815"/><path d="M0 783 1 817"/><path d="M0 778 1 856"/><path d="M0 773 1 843"/><path d="M0 770 1 1000"/><path d="M0 767 1 1006"/><path d="M0 766 1 900"/><path d="M0 763 1 831"/><path d="M0 760 1 827"/><path d="M0 757 1 841"/><path d="M0 753 1 863"/><path d="M0 749 1 872"/><path d="M0 747 1 928"/><path d="M0 745 1 814"/><path d="M0 740 1 834"/><path d="M0 737 1 890"/><path d="M0 735 1 825"/><path d="M0 733 1 860"/><path d="M0 730 1 812"/><path d="M0 727 1 934"/><path d="M0 723 1 1001"/>
</g>
<g stroke="#f69c41" stroke-opacity="0.11" transform="translate(60.2 0) scale(95.3 0.1)">
<path d="M0 1211 1 797"/><path d="M0 1186 1 808"/><path d="M0 1157 1 804"/><path d="M0 1146 1 753"/><path d="M0 1138 1 766"/><path d="M0 1129 1 703"/><path d="M0 1122 1 666"/><path d="M0 1113 1 618"/><path d="M0 1107 1 743"/><path d="M0 1098 1 750"/><path d="M0 1089 1 697"/><path d="M0 1085 1 775"/><path d="M0 1075 1 795"/><path d="M0 1069 1 690"/><path d="M0 1061 1 661"/><path d="M0 1058 1 792"/><path d="M0 1051 1 754"/><path d="M0 1045 1 791"/><path d="M0 1040 1 635"/><path d="M0 1034 1 571"/><path d="M0 1025 1 722"/><path d="M0 1016 1 565"/><path d="M0 1002 1 561"/><path d="M0 994 1 784"/><path d="M0 985 1 781"/><path d="M0 982 1 656"/><path d="M0 975 1 714"/><path d="M0 972 1 720"/><path d="M0 969 1 507"/><path d="M0 966 1 799"/><path d="M0 962 1 746"/><path d="M0 959 1 652"/><path d="M0 956 1 790"/><path d="M0 952 1 753"/><path d="M0 948 1 600"/><path d="M0 943 1 783"/><path d="M0 936 1 725"/><path d="M0 933 1 807"/><path d="M0 928 1 599"/><path d="M0 922 1 726"/><path d="M0 918 1 472"/><path d="M0 915 1 619"/><path d="M0 912 1 638"/><path d="M0 907 1 633"/><path d="M0 904 1 726"/><path d="M0 903 1 718"/><path d="M0 900 1 440"/><path d="M0 897 1 566"/><path d="M0 893 1 764"/><path d="M0 887 1 673"/><path d="M0 886 1 714"/><path d="M0 881 1 656"/><path d="M0 878 1 663"/><path d="M0 875 1 754"/><path d="M0 869 1 729"/><path d="M0 865 1 802"/><path d="M0 861 1 567"/><path d="M0 858 1 670"/><path d="M0 855 1 775"/><path d="M0 853 1 732"/><path d="M0 850 1 622"/><path d="M0 847 1 606"/><path d="M0 845 1 712"/><path d="M0 843 1 696"/><path d="M0 842 1 554"/><path d="M0 840 1 758"/><path d="M0 835 1 668"/><path d="M0 832 1 704"/><path d="M0 830 1 482"/><path d="M0 829 1 624"/><path d="M0 827 1 551"/><path d="M0 824 1 555"/><path d="M0 823 1 627"/><path d="M0 820 1 495"/><path d="M0 818 1 579"/><path d="M0 816 1 618"/><path d="M0 814 1 462"/><path d="M0 810 1 776"/><path d="M0 809 1 481"/><path d="M0 806 1 451"/><path d="M0 804 1 767"/><path d="M0 803 1 543"/><path d="M0 799 1 458"/><path d="M0 796 1 437"/><path d="M0 793 1 739"/><path d="M0 790 1 661"/><path d="M0 788 1 631"/><path d="M0 786 1 680"/><path d="M0 782 1 653"/><path d="M0 781 1 609"/><path d="M0 780 1 604"/><path d="M0 778 1 599"/><path d="M0 776 1 703"/><path d="M0 774 1 446"/><path d="M0 772 1 404"/><path d="M0 771 1 449"/><path d="M0 769 1 486"/><path d="M0 767 1 632"/><path d="M0 765 1 614"/><path d="M0 763 1 466"/><path d="M0 761 1 549"/><path d="M0 760 1 645"/><path d="M0 758 1 562"/><path d="M0 755 1 690"/><path d="M0 753 1 575"/><path d="M0 751 1 444"/><path d="M0 747 1 692"/><path d="M0 746 1 447"/><path d="M0 744 1 569"/><path d="M0 741 1 726"/><path d="M0 738 1 581"/><path d="M0 736 1 435"/><path d="M0 734 1 734"/><path d="M0 733 1 390"/><path d="M0 731 1 467"/><path d="M0 730 1 463"/><path d="M0 728 1 570"/><path d="M0 726 1 675"/><path d="M0 726 1 706"/><path d="M0 724 1 469"/>
</g>
<g stroke="#f04e2e" stroke-opacity="0.11" transform="translate(60.2 0) scale(95.3 0.1)">
<path d="M0 1261 1 930"/><path d="M0 1195 1 883"/><path d="M0 1178 1 1064"/><path d="M0 1162 1 886"/><path d="M0 1151 1 867"/><path d="M0 1138 1 856"/><path d="M0 1121 1 991"/><path d="M0 1113 1 907"/><path d="M0 1104 1 1069"/><path d="M0 1093 1 882"/><path d="M0 1084 1 1188"/><path d="M0 1074 1 1031"/><path d="M0 1063 1 990"/><path d="M0 1052 1 1013"/><path d="M0 1039 1 1129"/><path d="M0 1025 1 1215"/><path d="M0 1012 1 1026"/><path d="M0 1004 1 830"/><path d="M0 990 1 902"/><path d="M0 985 1 896"/><path d="M0 982 1 1019"/><path d="M0 979 1 1051"/><path d="M0 976 1 822"/><path d="M0 972 1 967"/><path d="M0 965 1 1012"/><path d="M0 961 1 1134"/><path d="M0 958 1 914"/><path d="M0 955 1 957"/><path d="M0 952 1 983"/><path d="M0 950 1 885"/><path d="M0 946 1 1196"/><path d="M0 943 1 863"/><path d="M0 940 1 858"/><path d="M0 937 1 874"/><path d="M0 934 1 837"/><path d="M0 930 1 846"/><path d="M0 925 1 1104"/><path d="M0 923 1 862"/><path d="M0 918 1 979"/><path d="M0 911 1 992"/><path d="M0 906 1 979"/><path d="M0 902 1 857"/><path d="M0 898 1 823"/><path d="M0 894 1 1014"/><path d="M0 890 1 865"/><path d="M0 886 1 1005"/><path d="M0 882 1 951"/><path d="M0 878 1 974"/><path d="M0 876 1 1077"/><path d="M0 871 1 847"/><path d="M0 865 1 830"/><path d="M0 861 1 1041"/><path d="M0 858 1 865"/><path d="M0 855 1 1076"/><path d="M0 852 1 898"/><path d="M0 848 1 902"/><path d="M0 845 1 872"/><path d="M0 842 1 866"/><path d="M0 839 1 1028"/><path d="M0 835 1 885"/><path d="M0 830 1 861"/><path d="M0 828 1 985"/><path d="M0 823 1 939"/><path d="M0 818 1 944"/><path d="M0 817 1 902"/><path d="M0 815 1 928"/><path d="M0 812 1 829"/><path d="M0 809 1 879"/><path d="M0 806 1 856"/><path d="M0 803 1 869"/><path d="M0 799 1 812"/><path d="M0 796 1 912"/><path d="M0 793 1 858"/><path d="M0 790 1 824"/><path d="M0 788 1 827"/><path d="M0 785 1 897"/><path d="M0 783 1 883"/><path d="M0 778 1 816"/><path d="M0 773 1 1048"/><path d="M0 769 1 1034"/><path d="M0 767 1 819"/><path d="M0 765 1 858"/><path d="M0 762 1 870"/><path d="M0 759 1 1078"/><path d="M0 756 1 1030"/><path d="M0 753 1 849"/><path d="M0 749 1 992"/><path d="M0 747 1 868"/><path d="M0 744 1 822"/><path d="M0 740 1 920"/><path d="M0 737 1 833"/><path d="M0 735 1 833"/><path d="M0 733 1 815"/><path d="M0 730 1 828"/><path d="M0 727 1 936"/><path d="M0 723 1 821"/>
</g>
<g stroke="#f69c41" stroke-opacity="0.11" transform="translate(60.2 0) scale(95.3 0.1)">
<path d="M0 1206 1 806"/><path d="M0 1179 1 717"/><path d="M0 1156 1 716"/><path d="M0 1145 1 656"/><path d="M0 1136 1 781"/><path d="M0 1129 1 672"/><path d="M0 1120 1 810"/><path d="M0 1112 1 692"/><path d="M0 1107 1 767"/><path d="M0 1098 1 774"/><path d="M0 1089 1 669"/><path d="M0 1085 1 756"/><path d="M0 1075 1 770"/><path d="M0 1069 1 701"/><path d="M0 1061 1 795"/><path d="M0 1058 1 674"/><path d="M0 1050 1 765"/><path d="M0 1044 1 785"/><path d="M0 1039 1 804"/><path d="M0 1031 1 745"/><path d="M0 1023 1 795"/><path d="M0 1014 1 652"/><path d="M0 1001 1 657"/><path d="M0 992 1 680"/><path d="M0 985 1 755"/><path d="M0 980 1 761"/><path d="M0 975 1 621"/><path d="M0 972 1 777"/><path d="M0 969 1 713"/><path d="M0 966 1 767"/><path d="M0 962 1 592"/><path d="M0 959 1 627"/><path d="M0 955 1 640"/><path d="M0 950 1 701"/><path d="M0 948 1 768"/><path d="M0 943 1 664"/><path d="M0 936 1 584"/><path d="M0 932 1 789"/><path d="M0 927 1 577"/><path d="M0 922 1 765"/><path d="M0 917 1 809"/><path d="M0 915 1 810"/><path d="M0 912 1 650"/><path d="M0 906 1 731"/><path d="M0 904 1 727"/><path d="M0 902 1 676"/><path d="M0 899 1 763"/><path d="M0 897 1 770"/><path d="M0 892 1 777"/><path d="M0 887 1 642"/><path d="M0 885 1 810"/><path d="M0 881 1 762"/><path d="M0 877 1 727"/><path d="M0 875 1 577"/><path d="M0 869 1 731"/><path d="M0 864 1 675"/><path d="M0 860 1 771"/><path d="M0 858 1 730"/><path d="M0 855 1 671"/><path d="M0 852 1 607"/><path d="M0 850 1 760"/><path d="M0 847 1 665"/><path d="M0 845 1 728"/><path d="M0 843 1 702"/><path d="M0 842 1 621"/><path d="M0 840 1 709"/><path d="M0 835 1 541"/><path d="M0 832 1 647"/><path d="M0 829 1 671"/><path d="M0 828 1 675"/><path d="M0 827 1 482"/><path d="M0 824 1 738"/><path d="M0 823 1 696"/><path d="M0 819 1 760"/><path d="M0 818 1 388"/><path d="M0 816 1 603"/><path d="M0 813 1 729"/><path d="M0 810 1 625"/><path d="M0 809 1 557"/><path d="M0 806 1 609"/><path d="M0 804 1 597"/><path d="M0 803 1 735"/><path d="M0 799 1 509"/><path d="M0 796 1 644"/><path d="M0 793 1 573"/><path d="M0 789 1 599"/><path d="M0 788 1 491"/><path d="M0 785 1 428"/><path d="M0 782 1 457"/><path d="M0 781 1 507"/><path d="M0 780 1 629"/><path d="M0 778 1 679"/><path d="M0 776 1 763"/><path d="M0 774 1 517"/><path d="M0 772 1 608"/><path d="M0 771 1 439"/><path d="M0 769 1 407"/><path d="M0 767 1 486"/><path d="M0 765 1 676"/><path d="M0 763 1 717"/><path d="M0 761 1 489"/><path d="M0 760 1 592"/><path d="M0 758 1 439"/><path d="M0 755 1 749"/><path d="M0 753 1 505"/><path d="M0 751 1 380"/><path d="M0 747 1 368"/><path d="M0 746 1 450"/><path d="M0 743 1 469"/><path d="M0 741 1 449"/><path d="M0 738 1 596"/><path d="M0 736 1 505"/><path d="M0 734 1 767"/><path d="M0 732 1 373"/><path d="M0 731 1 353"/><path d="M0 730 1 473"/><path d="M0 728 1 647"/><path d="M0 726 1 375"/><path d="M0 726 1 433"/><path d="M0 724 1 545"/>
</g>
<g stroke="#f04e2e" stroke-opacity="0.11" transform="translate(60.2 0) scale(95.3 0.1)">
<path d="M0 1249 1 1178"/><path d="M0 1194 1 1000"/><path d="M0 1177 1 1082"/><path d="M0 1161 1 900"/><path d="M0 1150 1 1003"/><path d="M0 1138 1 907"/><path d="M0 1121 1 915"/><path d="M0 1113 1 1048"/><path d="M0 1101 1 1016"/><path d="M0 1093 1 1017"/><path d="M0 1078 1 1082"/><path d="M0 1072 1 1023"/><path d="M0 1061 1 873"/><path d="M0 1051 1 900"/><path d="M0 1039 1 1032"/><path d="M0 1023 1 941"/><path d="M0 1009 1 1005"/><path d="M0 1002 1 979"/><path d="M0 989 1 1063"/><path d="M0 985 1 1003"/><path d="M0 981 1 950"/><path d="M0 979 1 904"/><path d="M0 976 1 1117"/><path d="M0 971 1 869"/><path d="M0 965 1 1071"/><path d="M0 960 1 958"/><path d="M0 957 1 873"/><path d="M0 955 1 978"/><path d="M0 951 1 996"/><path d="M0 949 1 888"/><path d="M0 946 1 854"/><path d="M0 943 1 843"/><path d="M0 939 1 823"/><path d="M0 937 1 894"/><path d="M0 933 1 869"/><path d="M0 930 1 1020"/><path d="M0 925 1 828"/><path d="M0 923 1 959"/><path d="M0 918 1 882"/><path d="M0 910 1 845"/><path d="M0 906 1 1055"/><path d="M0 902 1 840"/><path d="M0 897 1 864"/><path d="M0 894 1 978"/><path d="M0 890 1 870"/><path d="M0 886 1 843"/><path d="M0 882 1 832"/><path d="M0 878 1 1134"/><path d="M0 876 1 1025"/><path d="M0 870 1 983"/><path d="M0 865 1 975"/><path d="M0 861 1 897"/><path d="M0 858 1 1005"/><path d="M0 855 1 946"/><path d="M0 851 1 924"/><path d="M0 848 1 835"/><path d="M0 845 1 995"/><path d="M0 842 1 1061"/><path d="M0 839 1 1026"/><path d="M0 835 1 848"/><path d="M0 830 1 871"/><path d="M0 827 1 891"/><path d="M0 823 1 821"/><path d="M0 818 1 822"/><path d="M0 817 1 851"/><path d="M0 814 1 866"/><path d="M0 812 1 838"/><path d="M0 809 1 973"/><path d="M0 806 1 816"/><path d="M0 802 1 976"/><path d="M0 799 1 837"/><path d="M0 796 1 1014"/><path d="M0 793 1 866"/><path d="M0 790 1 1115"/><path d="M0 787 1 924"/><path d="M0 785 1 928"/><path d="M0 782 1 871"/><path d="M0 777 1 875"/><path d="M0 773 1 877"/><path d="M0 769 1 833"/><path d="M0 766 1 833"/><path d="M0 764 1 839"/><path d="M0 762 1 813"/><path d="M0 759 1 943"/><path d="M0 756 1 819"/><path d="M0 752 1 878"/><path d="M0 749 1 816"/><path d="M0 746 1 915"/><path d="M0 744 1 882"/><path d="M0 739 1 850"/><path d="M0 736 1 934"/><path d="M0 735 1 835"/><path d="M0 733 1 812"/><path d="M0 730 1 848"/><path d="M0 727 1 877"/><path d="M0 723 1 822"/>
</g>
<g stroke="#f69c41" stroke-opacity="0.11" transform="translate(60.2 0) scale(95.3 0.1)">
<path d="M0 1206 1 776"/><path d="M0 1178 1 743"/><path d="M0 1155 1 797"/><path d="M0 1145 1 725"/><path d="M0 1136 1 651"/><path d="M0 1129 1 772"/><path d="M0 1119 1 750"/><path d="M0 1112 1 791"/><path d="M0 1107 1 728"/><path d="M0 1097 1 809"/><path d="M0 1089 1 803"/><path d="M0 1084 1 786"/><path d="M0 1075 1 799"/><path d="M0 1068 1 772"/><path d="M0 1061 1 756"/><path d="M0 1058 1 722"/><path d="M0 1048 1 725"/><path d="M0 1044 1 781"/><path d="M0 1039 1 805"/><path d="M0 1030 1 794"/><path d="M0 1023 1 783"/><path d="M0 1013 1 670"/><path d="M0 1001 1 750"/><path d="M0 992 1 731"/><path d="M0 985 1 675"/><path d="M0 979 1 783"/><path d="M0 975 1 714"/><path d="M0 971 1 747"/><path d="M0 969 1 595"/><path d="M0 966 1 619"/><path d="M0 961 1 804"/><path d="M0 958 1 723"/><path d="M0 955 1 496"/><path d="M0 950 1 766"/><path d="M0 948 1 601"/><path d="M0 941 1 753"/><path d="M0 936 1 799"/><path d="M0 932 1 774"/><path d="M0 927 1 467"/><path d="M0 921 1 739"/><path d="M0 916 1 771"/><path d="M0 915 1 800"/><path d="M0 911 1 793"/><path d="M0 906 1 711"/><path d="M0 903 1 723"/><path d="M0 902 1 619"/><path d="M0 899 1 369"/><path d="M0 896 1 650"/><path d="M0 892 1 753"/><path d="M0 887 1 713"/><path d="M0 884 1 618"/><path d="M0 881 1 737"/><path d="M0 877 1 667"/><path d="M0 875 1 678"/><path d="M0 867 1 599"/><path d="M0 864 1 694"/><path d="M0 860 1 696"/><path d="M0 857 1 445"/><path d="M0 855 1 565"/><path d="M0 852 1 566"/><path d="M0 850 1 632"/><path d="M0 847 1 637"/><path d="M0 845 1 511"/><path d="M0 843 1 445"/><path d="M0 842 1 690"/><path d="M0 839 1 452"/><path d="M0 835 1 564"/><path d="M0 832 1 692"/><path d="M0 829 1 730"/><path d="M0 828 1 497"/><path d="M0 827 1 646"/><path d="M0 824 1 709"/><path d="M0 822 1 627"/><path d="M0 819 1 576"/><path d="M0 818 1 741"/><path d="M0 816 1 475"/><path d="M0 812 1 607"/><path d="M0 810 1 539"/><path d="M0 809 1 561"/><path d="M0 806 1 438"/><path d="M0 804 1 687"/><path d="M0 802 1 452"/><path d="M0 798 1 508"/><path d="M0 795 1 596"/><path d="M0 792 1 573"/><path d="M0 789 1 718"/><path d="M0 787 1 654"/><path d="M0 785 1 591"/><path d="M0 782 1 643"/><path d="M0 781 1 711"/><path d="M0 780 1 492"/><path d="M0 778 1 652"/><path d="M0 776 1 661"/><path d="M0 774 1 635"/><path d="M0 772 1 470"/><path d="M0 770 1 534"/><path d="M0 769 1 441"/><path d="M0 767 1 458"/><path d="M0 765 1 733"/><path d="M0 763 1 477"/><path d="M0 761 1 455"/><path d="M0 759 1 644"/><path d="M0 757 1 497"/><path d="M0 755 1 600"/><path d="M0 753 1 461"/><path d="M0 751 1 442"/><path d="M0 747 1 648"/><path d="M0 745 1 493"/><path d="M0 743 1 518"/><path d="M0 741 1 557"/><path d="M0 738 1 553"/><path d="M0 736 1 527"/><path d="M0 734 1 573"/><path d="M0 732 1 426"/><path d="M0 731 1 551"/><path d="M0 730 1 409"/><path d="M0 728 1 486"/><path d="M0 726 1 443"/><path d="M0 726 1 502"/><path d="M0 723 1 595"/>
</g>
<line x1="41.8" y1="81.2" x2="174" y2="81.2" stroke="#231f20" stroke-width="1.1" stroke-dasharray="3.8 2.4"/>
<line x1="41.8" y1="16.5" x2="41.8" y2="160" stroke="#231f20" stroke-width="1.1"/>
<line x1="41.2" y1="159.5" x2="174" y2="159.5" stroke="#231f20" stroke-width="1.0"/>
<line x1="38.8" y1="152.6" x2="41.8" y2="152.6" stroke="#231f20" stroke-width="0.9"/>
<text x="36.1" y="154.9" font-size="7.6" text-anchor="end" letter-spacing="0.35">4</text>
<line x1="38.8" y1="134.7" x2="41.8" y2="134.7" stroke="#231f20" stroke-width="0.9"/>
<text x="36.1" y="137" font-size="7.6" text-anchor="end" letter-spacing="0.35">6</text>
<line x1="38.8" y1="116.9" x2="41.8" y2="116.9" stroke="#231f20" stroke-width="0.9"/>
<text x="36.1" y="119.2" font-size="7.6" text-anchor="end" letter-spacing="0.35">8</text>
<line x1="38.8" y1="99" x2="41.8" y2="99" stroke="#231f20" stroke-width="0.9"/>
<text x="36.1" y="101.3" font-size="7.6" text-anchor="end" letter-spacing="0.35">10</text>
<line x1="38.8" y1="81.2" x2="41.8" y2="81.2" stroke="#231f20" stroke-width="0.9"/>
<text x="36.1" y="83.5" font-size="7.6" text-anchor="end" letter-spacing="0.35">12</text>
<line x1="38.8" y1="63.3" x2="41.8" y2="63.3" stroke="#231f20" stroke-width="0.9"/>
<text x="36.1" y="65.6" font-size="7.6" text-anchor="end" letter-spacing="0.35">14</text>
<line x1="38.8" y1="45.4" x2="41.8" y2="45.4" stroke="#231f20" stroke-width="0.9"/>
<text x="36.1" y="47.7" font-size="7.6" text-anchor="end" letter-spacing="0.35">16</text>
<line x1="38.8" y1="27.6" x2="41.8" y2="27.6" stroke="#231f20" stroke-width="0.9"/>
<text x="36.1" y="29.9" font-size="7.6" text-anchor="end" letter-spacing="0.35">18</text>
<text x="6.9" y="15.9" font-size="10.8" font-weight="bold" fill="#000">A</text>
<text x="21.3" y="135" font-size="9" textLength="93.9" lengthAdjust="spacingAndGlyphs" transform="rotate(-90 21.3 135)" stroke-width="0.5" word-spacing="1.6">Hemoglobin concentration (g/dL)</text>
<text x="60.8" y="169.9" font-size="8" text-anchor="middle" textLength="28.4" lengthAdjust="spacingAndGlyphs">Baseline</text>
<text x="155.3" y="169.9" font-size="8" text-anchor="middle" textLength="32.4" lengthAdjust="spacingAndGlyphs">Follow-up</text>
<g fill="#7a7a7a">
<rect x="235" y="98.5" width="0.7" height="41.9"/>
<rect x="235" y="142.4" width="0.7" height="0.7"/>
<rect x="235" y="143.5" width="0.7" height="0.7"/>
<rect x="235" y="144.5" width="0.7" height="0.7"/>
<rect x="235" y="146" width="0.7" height="0.7"/>
<rect x="235" y="147.1" width="0.7" height="0.7"/>
<rect x="235" y="148.1" width="0.7" height="0.7"/>
<rect x="235" y="149.6" width="0.7" height="0.7"/>
<rect x="235" y="150.7" width="0.7" height="0.7"/>
</g>
<g fill="#7a7a7a">
<rect x="327.1" y="27.3" width="0.7" height="0.7"/>
<rect x="327.1" y="29.1" width="0.7" height="0.7"/>
<rect x="327.1" y="32.4" width="0.7" height="1.4"/>
<rect x="327.1" y="36.6" width="0.7" height="1"/>
<rect x="327.1" y="39.4" width="0.7" height="0.7"/>
<rect x="327.1" y="44.8" width="0.7" height="1.3"/>
<rect x="327.1" y="46.8" width="0.7" height="3.1"/>
<rect x="327.1" y="50.2" width="0.7" height="2.3"/>
<rect x="327.1" y="52.9" width="0.7" height="0.7"/>
<rect x="327.1" y="54" width="0.7" height="0.7"/>
<rect x="327.1" y="55.8" width="0.7" height="2.5"/>
<rect x="327.1" y="58.8" width="0.7" height="6.3"/>
<rect x="327.1" y="65.5" width="0.7" height="74.9"/>
<rect x="327.1" y="141.7" width="0.7" height="0.7"/>
<rect x="327.1" y="144.5" width="0.7" height="1.4"/>
<rect x="327.1" y="147.1" width="0.7" height="0.7"/>
<rect x="327.1" y="148.1" width="0.7" height="2.1"/>
</g>
<g class="w" stroke="#c3d0e6" stroke-opacity="0.9" transform="translate(235.3 0) scale(92.2 0.1)">
<path d="M0 1427 1 1449"/><path d="M0 1449 1 1420"/><path d="M0 1485 1 1485"/><path d="M0 1510 1 1499"/><path d="M0 1463 1 1474"/><path d="M0 1438 1 1384"/><path d="M0 1499 1 1456"/><path d="M0 1474 1 1492"/>
</g>
<line x1="216.9" y1="98.8" x2="345.7" y2="98.8" stroke="#3a3536" stroke-width="1.5" stroke-dasharray="4.3 1.9"/>
<g stroke="#4068aa" stroke-opacity="0.0935" transform="translate(235.3 0) scale(92.2 0.1)">
<path d="M0 1400 1 1147"/><path d="M0 1392 1 1280"/><path d="M0 1375 1 1179"/><path d="M0 1352 1 1071"/><path d="M0 1335 1 1151"/><path d="M0 1316 1 1396"/><path d="M0 1300 1 1112"/><path d="M0 1291 1 1170"/><path d="M0 1283 1 1216"/><path d="M0 1273 1 1341"/><path d="M0 1267 1 1353"/><path d="M0 1258 1 1081"/><path d="M0 1244 1 1108"/><path d="M0 1239 1 1271"/><path d="M0 1231 1 1160"/><path d="M0 1221 1 1244"/><path d="M0 1215 1 1191"/><path d="M0 1203 1 1202"/><path d="M0 1198 1 1166"/><path d="M0 1194 1 1140"/><path d="M0 1192 1 1079"/><path d="M0 1190 1 1160"/><path d="M0 1187 1 1152"/><path d="M0 1185 1 1125"/><path d="M0 1183 1 1155"/><path d="M0 1179 1 1131"/><path d="M0 1176 1 1160"/><path d="M0 1173 1 1089"/><path d="M0 1171 1 1255"/><path d="M0 1168 1 1124"/><path d="M0 1165 1 1374"/><path d="M0 1163 1 1083"/><path d="M0 1160 1 1394"/><path d="M0 1157 1 1112"/><path d="M0 1155 1 1101"/><path d="M0 1153 1 1179"/><path d="M0 1150 1 1291"/><path d="M0 1146 1 1295"/><path d="M0 1144 1 1183"/><path d="M0 1141 1 1116"/><path d="M0 1137 1 1194"/><path d="M0 1135 1 1196"/><path d="M0 1133 1 1213"/><path d="M0 1130 1 1178"/><path d="M0 1127 1 1102"/><path d="M0 1126 1 1154"/><path d="M0 1123 1 1104"/><path d="M0 1121 1 1108"/><path d="M0 1118 1 1040"/><path d="M0 1117 1 1104"/><path d="M0 1114 1 1371"/><path d="M0 1112 1 1007"/><path d="M0 1110 1 1086"/><path d="M0 1108 1 1357"/><path d="M0 1105 1 1187"/><path d="M0 1101 1 1166"/><path d="M0 1098 1 1126"/><path d="M0 1094 1 1236"/><path d="M0 1093 1 1112"/><path d="M0 1091 1 1185"/><path d="M0 1088 1 1118"/><path d="M0 1084 1 1130"/><path d="M0 1081 1 1125"/><path d="M0 1079 1 1172"/><path d="M0 1077 1 1137"/><path d="M0 1073 1 1062"/><path d="M0 1071 1 1010"/><path d="M0 1069 1 1182"/><path d="M0 1067 1 1006"/><path d="M0 1065 1 997"/><path d="M0 1063 1 1133"/><path d="M0 1060 1 1003"/><path d="M0 1058 1 1065"/><path d="M0 1056 1 1117"/><path d="M0 1055 1 1001"/><path d="M0 1053 1 1064"/><path d="M0 1051 1 1077"/><path d="M0 1049 1 1009"/><path d="M0 1046 1 1038"/><path d="M0 1044 1 1082"/><path d="M0 1042 1 990"/><path d="M0 1039 1 1004"/><path d="M0 1038 1 1182"/><path d="M0 1035 1 1165"/><path d="M0 1032 1 1016"/><path d="M0 1029 1 1098"/><path d="M0 1027 1 996"/><path d="M0 1024 1 1016"/><path d="M0 1023 1 1006"/><path d="M0 1019 1 1075"/><path d="M0 1018 1 1188"/><path d="M0 1017 1 1117"/><path d="M0 1013 1 1095"/><path d="M0 1011 1 1014"/><path d="M0 1009 1 1004"/><path d="M0 1007 1 990"/><path d="M0 1005 1 1163"/><path d="M0 1003 1 1049"/><path d="M0 1001 1 999"/><path d="M0 999 1 994"/><path d="M0 997 1 993"/><path d="M0 994 1 1076"/><path d="M0 993 1 997"/><path d="M0 990 1 991"/>
</g>
<g stroke="#b2d7da" stroke-opacity="0.11" transform="translate(235.3 0) scale(92.2 0.1)">
<path d="M0 1276 1 970"/><path d="M0 1253 1 831"/><path d="M0 1207 1 848"/><path d="M0 1162 1 956"/><path d="M0 1137 1 984"/><path d="M0 1129 1 953"/><path d="M0 1127 1 952"/><path d="M0 1124 1 936"/><path d="M0 1120 1 959"/><path d="M0 1116 1 955"/><path d="M0 1112 1 948"/><path d="M0 1109 1 956"/><path d="M0 1107 1 972"/><path d="M0 1106 1 850"/><path d="M0 1103 1 959"/><path d="M0 1098 1 982"/><path d="M0 1096 1 951"/><path d="M0 1094 1 981"/><path d="M0 1091 1 928"/><path d="M0 1089 1 893"/><path d="M0 1087 1 944"/><path d="M0 1083 1 831"/><path d="M0 1081 1 884"/><path d="M0 1079 1 888"/><path d="M0 1076 1 781"/><path d="M0 1075 1 961"/><path d="M0 1072 1 791"/><path d="M0 1071 1 853"/><path d="M0 1069 1 977"/><path d="M0 1068 1 759"/><path d="M0 1065 1 732"/><path d="M0 1062 1 974"/><path d="M0 1061 1 883"/><path d="M0 1059 1 882"/><path d="M0 1058 1 904"/><path d="M0 1057 1 933"/><path d="M0 1056 1 902"/><path d="M0 1055 1 873"/><path d="M0 1054 1 940"/><path d="M0 1054 1 857"/><path d="M0 1052 1 976"/><path d="M0 1052 1 940"/><path d="M0 1051 1 857"/><path d="M0 1050 1 964"/><path d="M0 1050 1 868"/><path d="M0 1048 1 775"/><path d="M0 1048 1 830"/><path d="M0 1047 1 837"/><path d="M0 1046 1 980"/><path d="M0 1045 1 819"/><path d="M0 1044 1 796"/><path d="M0 1043 1 933"/><path d="M0 1042 1 887"/><path d="M0 1041 1 748"/><path d="M0 1040 1 977"/><path d="M0 1039 1 866"/><path d="M0 1039 1 839"/><path d="M0 1037 1 904"/><path d="M0 1037 1 786"/><path d="M0 1035 1 842"/><path d="M0 1034 1 903"/><path d="M0 1033 1 963"/><path d="M0 1032 1 857"/><path d="M0 1031 1 835"/><path d="M0 1030 1 765"/><path d="M0 1030 1 947"/><path d="M0 1028 1 732"/><path d="M0 1028 1 327"/><path d="M0 1026 1 880"/><path d="M0 1025 1 782"/><path d="M0 1024 1 814"/><path d="M0 1023 1 809"/><path d="M0 1022 1 724"/><path d="M0 1021 1 664"/><path d="M0 1020 1 762"/><path d="M0 1019 1 695"/><path d="M0 1018 1 735"/><path d="M0 1017 1 719"/><path d="M0 1016 1 844"/><path d="M0 1015 1 776"/><path d="M0 1014 1 870"/><path d="M0 1013 1 715"/><path d="M0 1012 1 718"/><path d="M0 1011 1 923"/><path d="M0 1010 1 730"/><path d="M0 1009 1 627"/><path d="M0 1007 1 763"/><path d="M0 1006 1 734"/><path d="M0 1005 1 747"/><path d="M0 1004 1 647"/><path d="M0 1003 1 825"/><path d="M0 1001 1 825"/><path d="M0 1000 1 743"/><path d="M0 999 1 579"/><path d="M0 998 1 676"/><path d="M0 998 1 634"/><path d="M0 997 1 802"/><path d="M0 996 1 890"/><path d="M0 994 1 785"/><path d="M0 993 1 867"/><path d="M0 992 1 738"/><path d="M0 991 1 764"/><path d="M0 990 1 735"/><path d="M0 989 1 761"/>
</g>
<g stroke="#4068aa" stroke-opacity="0.0935" transform="translate(235.3 0) scale(92.2 0.1)">
<path d="M0 1399 1 1194"/><path d="M0 1391 1 1294"/><path d="M0 1372 1 1208"/><path d="M0 1349 1 1400"/><path d="M0 1331 1 1337"/><path d="M0 1315 1 1219"/><path d="M0 1299 1 1254"/><path d="M0 1290 1 1260"/><path d="M0 1280 1 1350"/><path d="M0 1272 1 1305"/><path d="M0 1266 1 1076"/><path d="M0 1257 1 1189"/><path d="M0 1244 1 1320"/><path d="M0 1239 1 1337"/><path d="M0 1230 1 1182"/><path d="M0 1221 1 1306"/><path d="M0 1215 1 1240"/><path d="M0 1203 1 1156"/><path d="M0 1197 1 1221"/><path d="M0 1194 1 1124"/><path d="M0 1192 1 1187"/><path d="M0 1189 1 1107"/><path d="M0 1187 1 1189"/><path d="M0 1184 1 1173"/><path d="M0 1183 1 1139"/><path d="M0 1179 1 1038"/><path d="M0 1176 1 1195"/><path d="M0 1173 1 1170"/><path d="M0 1171 1 1135"/><path d="M0 1167 1 1326"/><path d="M0 1165 1 1155"/><path d="M0 1162 1 1194"/><path d="M0 1159 1 1220"/><path d="M0 1157 1 1362"/><path d="M0 1155 1 1165"/><path d="M0 1153 1 1218"/><path d="M0 1150 1 1046"/><path d="M0 1146 1 1126"/><path d="M0 1144 1 1105"/><path d="M0 1140 1 1217"/><path d="M0 1136 1 1148"/><path d="M0 1134 1 1078"/><path d="M0 1132 1 1102"/><path d="M0 1130 1 1083"/><path d="M0 1127 1 1099"/><path d="M0 1125 1 1311"/><path d="M0 1122 1 1137"/><path d="M0 1121 1 1049"/><path d="M0 1118 1 1126"/><path d="M0 1116 1 1223"/><path d="M0 1114 1 1037"/><path d="M0 1112 1 1323"/><path d="M0 1110 1 1041"/><path d="M0 1107 1 1031"/><path d="M0 1105 1 996"/><path d="M0 1101 1 1153"/><path d="M0 1098 1 1016"/><path d="M0 1094 1 1153"/><path d="M0 1093 1 1092"/><path d="M0 1090 1 1049"/><path d="M0 1088 1 1016"/><path d="M0 1084 1 1046"/><path d="M0 1081 1 994"/><path d="M0 1079 1 1010"/><path d="M0 1076 1 1008"/><path d="M0 1072 1 1127"/><path d="M0 1070 1 1082"/><path d="M0 1069 1 1072"/><path d="M0 1066 1 1100"/><path d="M0 1064 1 1156"/><path d="M0 1062 1 1068"/><path d="M0 1060 1 1075"/><path d="M0 1057 1 1126"/><path d="M0 1056 1 1047"/><path d="M0 1055 1 1099"/><path d="M0 1053 1 1095"/><path d="M0 1051 1 1130"/><path d="M0 1049 1 1162"/><path d="M0 1046 1 1098"/><path d="M0 1044 1 1010"/><path d="M0 1042 1 1075"/><path d="M0 1039 1 1025"/><path d="M0 1038 1 1085"/><path d="M0 1035 1 1005"/><path d="M0 1032 1 1006"/><path d="M0 1029 1 1074"/><path d="M0 1026 1 1052"/><path d="M0 1023 1 1042"/><path d="M0 1022 1 1056"/><path d="M0 1019 1 1016"/><path d="M0 1018 1 1051"/><path d="M0 1016 1 1030"/><path d="M0 1013 1 1122"/><path d="M0 1011 1 1017"/><path d="M0 1009 1 1014"/><path d="M0 1007 1 1023"/><path d="M0 1005 1 1038"/><path d="M0 1003 1 1038"/><path d="M0 1000 1 992"/><path d="M0 998 1 1059"/><path d="M0 997 1 1063"/><path d="M0 994 1 1114"/><path d="M0 993 1 1021"/><path d="M0 990 1 1054"/>
</g>
<g stroke="#b2d7da" stroke-opacity="0.11" transform="translate(235.3 0) scale(92.2 0.1)">
<path d="M0 1274 1 822"/><path d="M0 1242 1 895"/><path d="M0 1204 1 871"/><path d="M0 1159 1 972"/><path d="M0 1132 1 976"/><path d="M0 1129 1 954"/><path d="M0 1127 1 985"/><path d="M0 1124 1 948"/><path d="M0 1119 1 933"/><path d="M0 1116 1 985"/><path d="M0 1112 1 960"/><path d="M0 1109 1 896"/><path d="M0 1107 1 975"/><path d="M0 1106 1 975"/><path d="M0 1103 1 901"/><path d="M0 1098 1 966"/><path d="M0 1096 1 926"/><path d="M0 1094 1 986"/><path d="M0 1091 1 945"/><path d="M0 1089 1 899"/><path d="M0 1087 1 959"/><path d="M0 1083 1 967"/><path d="M0 1081 1 831"/><path d="M0 1078 1 956"/><path d="M0 1076 1 940"/><path d="M0 1074 1 986"/><path d="M0 1072 1 905"/><path d="M0 1071 1 960"/><path d="M0 1069 1 965"/><path d="M0 1067 1 972"/><path d="M0 1065 1 954"/><path d="M0 1062 1 972"/><path d="M0 1060 1 868"/><path d="M0 1059 1 846"/><path d="M0 1058 1 781"/><path d="M0 1057 1 893"/><path d="M0 1056 1 925"/><path d="M0 1055 1 905"/><path d="M0 1054 1 913"/><path d="M0 1053 1 924"/><path d="M0 1052 1 961"/><path d="M0 1052 1 908"/><path d="M0 1051 1 729"/><path d="M0 1050 1 929"/><path d="M0 1049 1 954"/><path d="M0 1048 1 945"/><path d="M0 1047 1 742"/><path d="M0 1047 1 847"/><path d="M0 1046 1 932"/><path d="M0 1045 1 773"/><path d="M0 1044 1 862"/><path d="M0 1043 1 887"/><path d="M0 1042 1 912"/><path d="M0 1041 1 962"/><path d="M0 1040 1 851"/><path d="M0 1039 1 858"/><path d="M0 1039 1 889"/><path d="M0 1037 1 795"/><path d="M0 1036 1 859"/><path d="M0 1035 1 777"/><path d="M0 1034 1 766"/><path d="M0 1033 1 796"/><path d="M0 1032 1 594"/><path d="M0 1031 1 748"/><path d="M0 1030 1 825"/><path d="M0 1029 1 844"/><path d="M0 1028 1 791"/><path d="M0 1028 1 658"/><path d="M0 1026 1 852"/><path d="M0 1025 1 738"/><path d="M0 1024 1 741"/><path d="M0 1023 1 925"/><path d="M0 1022 1 822"/><path d="M0 1021 1 830"/><path d="M0 1020 1 752"/><path d="M0 1019 1 844"/><path d="M0 1018 1 840"/><path d="M0 1017 1 678"/><path d="M0 1016 1 835"/><path d="M0 1015 1 850"/><path d="M0 1014 1 750"/><path d="M0 1013 1 743"/><path d="M0 1012 1 732"/><path d="M0 1010 1 734"/><path d="M0 1009 1 825"/><path d="M0 1009 1 521"/><path d="M0 1007 1 633"/><path d="M0 1006 1 743"/><path d="M0 1005 1 881"/><path d="M0 1004 1 768"/><path d="M0 1003 1 726"/><path d="M0 1001 1 777"/><path d="M0 1000 1 825"/><path d="M0 999 1 631"/><path d="M0 998 1 800"/><path d="M0 998 1 739"/><path d="M0 997 1 735"/><path d="M0 995 1 616"/><path d="M0 994 1 720"/><path d="M0 992 1 732"/><path d="M0 992 1 728"/><path d="M0 991 1 571"/><path d="M0 990 1 872"/><path d="M0 989 1 808"/>
</g>
<g stroke="#4068aa" stroke-opacity="0.0935" transform="translate(235.3 0) scale(92.2 0.1)">
<path d="M0 1399 1 1331"/><path d="M0 1388 1 1176"/><path d="M0 1369 1 1161"/><path d="M0 1345 1 1145"/><path d="M0 1330 1 1042"/><path d="M0 1313 1 1326"/><path d="M0 1299 1 1150"/><path d="M0 1289 1 1279"/><path d="M0 1280 1 1270"/><path d="M0 1270 1 1160"/><path d="M0 1266 1 1347"/><path d="M0 1255 1 1264"/><path d="M0 1243 1 1099"/><path d="M0 1239 1 1264"/><path d="M0 1230 1 1028"/><path d="M0 1221 1 1276"/><path d="M0 1210 1 1224"/><path d="M0 1202 1 1060"/><path d="M0 1197 1 1229"/><path d="M0 1194 1 1378"/><path d="M0 1192 1 1291"/><path d="M0 1189 1 1171"/><path d="M0 1187 1 1155"/><path d="M0 1184 1 1187"/><path d="M0 1183 1 1122"/><path d="M0 1179 1 1106"/><path d="M0 1176 1 1287"/><path d="M0 1172 1 1089"/><path d="M0 1170 1 1245"/><path d="M0 1167 1 1180"/><path d="M0 1165 1 1380"/><path d="M0 1162 1 1194"/><path d="M0 1159 1 1135"/><path d="M0 1157 1 1211"/><path d="M0 1155 1 1085"/><path d="M0 1152 1 1240"/><path d="M0 1148 1 1176"/><path d="M0 1146 1 1214"/><path d="M0 1144 1 1160"/><path d="M0 1140 1 1078"/><path d="M0 1136 1 1170"/><path d="M0 1134 1 1075"/><path d="M0 1132 1 1098"/><path d="M0 1130 1 1150"/><path d="M0 1127 1 1289"/><path d="M0 1125 1 1080"/><path d="M0 1122 1 1039"/><path d="M0 1120 1 1182"/><path d="M0 1118 1 1187"/><path d="M0 1116 1 1117"/><path d="M0 1114 1 1099"/><path d="M0 1111 1 1069"/><path d="M0 1110 1 1311"/><path d="M0 1107 1 1011"/><path d="M0 1104 1 1184"/><path d="M0 1101 1 1155"/><path d="M0 1098 1 1012"/><path d="M0 1094 1 1118"/><path d="M0 1093 1 1167"/><path d="M0 1090 1 1147"/><path d="M0 1087 1 1298"/><path d="M0 1084 1 1094"/><path d="M0 1081 1 1189"/><path d="M0 1079 1 1055"/><path d="M0 1076 1 1073"/><path d="M0 1072 1 992"/><path d="M0 1070 1 1024"/><path d="M0 1069 1 1179"/><path d="M0 1066 1 1095"/><path d="M0 1064 1 1007"/><path d="M0 1062 1 1131"/><path d="M0 1060 1 1028"/><path d="M0 1057 1 1104"/><path d="M0 1056 1 1078"/><path d="M0 1054 1 1015"/><path d="M0 1053 1 1148"/><path d="M0 1051 1 1023"/><path d="M0 1049 1 1051"/><path d="M0 1046 1 1061"/><path d="M0 1043 1 1037"/><path d="M0 1041 1 1143"/><path d="M0 1038 1 1068"/><path d="M0 1037 1 1150"/><path d="M0 1035 1 1067"/><path d="M0 1032 1 1093"/><path d="M0 1029 1 1046"/><path d="M0 1026 1 1026"/><path d="M0 1023 1 999"/><path d="M0 1022 1 991"/><path d="M0 1019 1 1047"/><path d="M0 1018 1 988"/><path d="M0 1016 1 1130"/><path d="M0 1013 1 1063"/><path d="M0 1011 1 1034"/><path d="M0 1008 1 1033"/><path d="M0 1007 1 1045"/><path d="M0 1005 1 1016"/><path d="M0 1003 1 1040"/><path d="M0 1000 1 1048"/><path d="M0 998 1 1097"/><path d="M0 996 1 1046"/><path d="M0 994 1 1003"/><path d="M0 992 1 1015"/><path d="M0 990 1 1033"/>
</g>
<g stroke="#b2d7da" stroke-opacity="0.11" transform="translate(235.3 0) scale(92.2 0.1)">
<path d="M0 1274 1 937"/><path d="M0 1232 1 975"/><path d="M0 1203 1 967"/><path d="M0 1156 1 979"/><path d="M0 1132 1 962"/><path d="M0 1129 1 923"/><path d="M0 1126 1 985"/><path d="M0 1123 1 890"/><path d="M0 1119 1 977"/><path d="M0 1115 1 967"/><path d="M0 1111 1 857"/><path d="M0 1108 1 980"/><path d="M0 1107 1 986"/><path d="M0 1105 1 981"/><path d="M0 1103 1 968"/><path d="M0 1098 1 944"/><path d="M0 1096 1 843"/><path d="M0 1094 1 955"/><path d="M0 1091 1 899"/><path d="M0 1088 1 915"/><path d="M0 1086 1 909"/><path d="M0 1082 1 820"/><path d="M0 1080 1 866"/><path d="M0 1078 1 822"/><path d="M0 1076 1 941"/><path d="M0 1074 1 909"/><path d="M0 1072 1 904"/><path d="M0 1071 1 884"/><path d="M0 1069 1 835"/><path d="M0 1067 1 867"/><path d="M0 1065 1 934"/><path d="M0 1062 1 933"/><path d="M0 1060 1 913"/><path d="M0 1059 1 935"/><path d="M0 1058 1 807"/><path d="M0 1057 1 822"/><path d="M0 1056 1 836"/><path d="M0 1055 1 899"/><path d="M0 1054 1 963"/><path d="M0 1053 1 814"/><path d="M0 1052 1 971"/><path d="M0 1052 1 876"/><path d="M0 1051 1 747"/><path d="M0 1050 1 916"/><path d="M0 1049 1 918"/><path d="M0 1048 1 795"/><path d="M0 1047 1 826"/><path d="M0 1047 1 936"/><path d="M0 1046 1 785"/><path d="M0 1045 1 886"/><path d="M0 1044 1 853"/><path d="M0 1043 1 896"/><path d="M0 1042 1 795"/><path d="M0 1041 1 780"/><path d="M0 1040 1 810"/><path d="M0 1039 1 902"/><path d="M0 1039 1 881"/><path d="M0 1037 1 827"/><path d="M0 1036 1 719"/><path d="M0 1035 1 836"/><path d="M0 1034 1 771"/><path d="M0 1033 1 947"/><path d="M0 1032 1 963"/><path d="M0 1031 1 759"/><path d="M0 1030 1 844"/><path d="M0 1029 1 970"/><path d="M0 1028 1 895"/><path d="M0 1028 1 791"/><path d="M0 1026 1 909"/><path d="M0 1025 1 768"/><path d="M0 1024 1 917"/><path d="M0 1023 1 852"/><path d="M0 1022 1 733"/><path d="M0 1021 1 958"/><path d="M0 1019 1 848"/><path d="M0 1019 1 836"/><path d="M0 1018 1 915"/><path d="M0 1017 1 744"/><path d="M0 1016 1 824"/><path d="M0 1015 1 725"/><path d="M0 1014 1 804"/><path d="M0 1013 1 658"/><path d="M0 1012 1 917"/><path d="M0 1010 1 803"/><path d="M0 1009 1 817"/><path d="M0 1008 1 648"/><path d="M0 1007 1 964"/><path d="M0 1006 1 670"/><path d="M0 1005 1 611"/><path d="M0 1004 1 505"/><path d="M0 1003 1 607"/><path d="M0 1001 1 894"/><path d="M0 1000 1 766"/><path d="M0 999 1 761"/><path d="M0 998 1 810"/><path d="M0 997 1 689"/><path d="M0 996 1 774"/><path d="M0 995 1 794"/><path d="M0 994 1 823"/><path d="M0 992 1 814"/><path d="M0 992 1 700"/><path d="M0 991 1 723"/><path d="M0 990 1 723"/><path d="M0 989 1 827"/>
</g>
<g stroke="#4068aa" stroke-opacity="0.0935" transform="translate(235.3 0) scale(92.2 0.1)">
<path d="M0 1397 1 1222"/><path d="M0 1388 1 1213"/><path d="M0 1367 1 1270"/><path d="M0 1344 1 1352"/><path d="M0 1330 1 1295"/><path d="M0 1310 1 1356"/><path d="M0 1299 1 1299"/><path d="M0 1289 1 1174"/><path d="M0 1280 1 1177"/><path d="M0 1269 1 1183"/><path d="M0 1264 1 1368"/><path d="M0 1254 1 1204"/><path d="M0 1243 1 1148"/><path d="M0 1236 1 1079"/><path d="M0 1227 1 1351"/><path d="M0 1220 1 1349"/><path d="M0 1209 1 1387"/><path d="M0 1202 1 1093"/><path d="M0 1197 1 1227"/><path d="M0 1194 1 1159"/><path d="M0 1191 1 1205"/><path d="M0 1189 1 1351"/><path d="M0 1187 1 1299"/><path d="M0 1184 1 1158"/><path d="M0 1182 1 1059"/><path d="M0 1178 1 1169"/><path d="M0 1176 1 1162"/><path d="M0 1172 1 1255"/><path d="M0 1170 1 1230"/><path d="M0 1167 1 1170"/><path d="M0 1165 1 1191"/><path d="M0 1162 1 1291"/><path d="M0 1159 1 1105"/><path d="M0 1157 1 1086"/><path d="M0 1155 1 1298"/><path d="M0 1152 1 1080"/><path d="M0 1148 1 1222"/><path d="M0 1145 1 1180"/><path d="M0 1143 1 1143"/><path d="M0 1140 1 1091"/><path d="M0 1136 1 1088"/><path d="M0 1134 1 1064"/><path d="M0 1132 1 1235"/><path d="M0 1129 1 1160"/><path d="M0 1127 1 1350"/><path d="M0 1125 1 1111"/><path d="M0 1122 1 1041"/><path d="M0 1120 1 1069"/><path d="M0 1118 1 1128"/><path d="M0 1116 1 1119"/><path d="M0 1114 1 1114"/><path d="M0 1111 1 1067"/><path d="M0 1110 1 1003"/><path d="M0 1106 1 1193"/><path d="M0 1104 1 1226"/><path d="M0 1100 1 1116"/><path d="M0 1097 1 1038"/><path d="M0 1094 1 1078"/><path d="M0 1093 1 1293"/><path d="M0 1090 1 1113"/><path d="M0 1086 1 1108"/><path d="M0 1083 1 1007"/><path d="M0 1081 1 1088"/><path d="M0 1079 1 1151"/><path d="M0 1076 1 1016"/><path d="M0 1072 1 1092"/><path d="M0 1070 1 1114"/><path d="M0 1069 1 1136"/><path d="M0 1066 1 1149"/><path d="M0 1064 1 1131"/><path d="M0 1062 1 1098"/><path d="M0 1060 1 1054"/><path d="M0 1057 1 1103"/><path d="M0 1056 1 1073"/><path d="M0 1054 1 1064"/><path d="M0 1053 1 1333"/><path d="M0 1051 1 1110"/><path d="M0 1048 1 1041"/><path d="M0 1046 1 1124"/><path d="M0 1043 1 1069"/><path d="M0 1041 1 1190"/><path d="M0 1038 1 1182"/><path d="M0 1037 1 1068"/><path d="M0 1035 1 1029"/><path d="M0 1031 1 1023"/><path d="M0 1029 1 1017"/><path d="M0 1026 1 998"/><path d="M0 1023 1 1121"/><path d="M0 1021 1 1000"/><path d="M0 1019 1 1159"/><path d="M0 1018 1 1082"/><path d="M0 1016 1 1031"/><path d="M0 1013 1 1019"/><path d="M0 1011 1 991"/><path d="M0 1008 1 1007"/><path d="M0 1007 1 1146"/><path d="M0 1004 1 1137"/><path d="M0 1003 1 1069"/><path d="M0 1000 1 1020"/><path d="M0 998 1 1056"/><path d="M0 996 1 1045"/><path d="M0 994 1 1018"/><path d="M0 992 1 1197"/><path d="M0 990 1 1033"/>
</g>
<g stroke="#b2d7da" stroke-opacity="0.11" transform="translate(235.3 0) scale(92.2 0.1)">
<path d="M0 1264 1 943"/><path d="M0 1232 1 944"/><path d="M0 1198 1 954"/><path d="M0 1156 1 906"/><path d="M0 1132 1 987"/><path d="M0 1129 1 983"/><path d="M0 1126 1 983"/><path d="M0 1123 1 981"/><path d="M0 1119 1 908"/><path d="M0 1114 1 946"/><path d="M0 1111 1 948"/><path d="M0 1108 1 966"/><path d="M0 1107 1 988"/><path d="M0 1105 1 927"/><path d="M0 1103 1 882"/><path d="M0 1097 1 833"/><path d="M0 1095 1 897"/><path d="M0 1093 1 921"/><path d="M0 1090 1 899"/><path d="M0 1088 1 953"/><path d="M0 1086 1 945"/><path d="M0 1082 1 953"/><path d="M0 1080 1 951"/><path d="M0 1078 1 962"/><path d="M0 1076 1 958"/><path d="M0 1074 1 981"/><path d="M0 1072 1 771"/><path d="M0 1071 1 967"/><path d="M0 1069 1 930"/><path d="M0 1067 1 969"/><path d="M0 1064 1 927"/><path d="M0 1062 1 957"/><path d="M0 1060 1 871"/><path d="M0 1059 1 783"/><path d="M0 1058 1 890"/><path d="M0 1056 1 860"/><path d="M0 1056 1 833"/><path d="M0 1055 1 852"/><path d="M0 1054 1 870"/><path d="M0 1053 1 867"/><path d="M0 1052 1 926"/><path d="M0 1052 1 918"/><path d="M0 1051 1 941"/><path d="M0 1050 1 928"/><path d="M0 1049 1 967"/><path d="M0 1048 1 971"/><path d="M0 1047 1 761"/><path d="M0 1047 1 901"/><path d="M0 1046 1 899"/><path d="M0 1045 1 816"/><path d="M0 1044 1 812"/><path d="M0 1043 1 799"/><path d="M0 1042 1 947"/><path d="M0 1041 1 820"/><path d="M0 1040 1 772"/><path d="M0 1039 1 967"/><path d="M0 1039 1 866"/><path d="M0 1037 1 961"/><path d="M0 1036 1 885"/><path d="M0 1035 1 756"/><path d="M0 1034 1 904"/><path d="M0 1033 1 765"/><path d="M0 1032 1 876"/><path d="M0 1031 1 931"/><path d="M0 1030 1 679"/><path d="M0 1029 1 927"/><path d="M0 1028 1 863"/><path d="M0 1028 1 836"/><path d="M0 1026 1 741"/><path d="M0 1025 1 856"/><path d="M0 1024 1 453"/><path d="M0 1023 1 621"/><path d="M0 1022 1 743"/><path d="M0 1021 1 757"/><path d="M0 1019 1 733"/><path d="M0 1018 1 742"/><path d="M0 1018 1 896"/><path d="M0 1016 1 787"/><path d="M0 1016 1 875"/><path d="M0 1015 1 939"/><path d="M0 1014 1 533"/><path d="M0 1013 1 892"/><path d="M0 1011 1 739"/><path d="M0 1010 1 687"/><path d="M0 1009 1 598"/><path d="M0 1008 1 721"/><path d="M0 1006 1 742"/><path d="M0 1005 1 867"/><path d="M0 1004 1 727"/><path d="M0 1004 1 867"/><path d="M0 1003 1 806"/><path d="M0 1001 1 746"/><path d="M0 1000 1 798"/><path d="M0 999 1 886"/><path d="M0 998 1 749"/><path d="M0 997 1 575"/><path d="M0 996 1 544"/><path d="M0 995 1 758"/><path d="M0 993 1 776"/><path d="M0 992 1 660"/><path d="M0 991 1 621"/><path d="M0 991 1 724"/><path d="M0 989 1 728"/><path d="M0 988 1 755"/>
</g>
<g stroke="#4068aa" stroke-opacity="0.0935" transform="translate(235.3 0) scale(92.2 0.1)">
<path d="M0 1396 1 1145"/><path d="M0 1386 1 1129"/><path d="M0 1365 1 1295"/><path d="M0 1343 1 1069"/><path d="M0 1327 1 1098"/><path d="M0 1309 1 1210"/><path d="M0 1298 1 1166"/><path d="M0 1288 1 1155"/><path d="M0 1279 1 1383"/><path d="M0 1268 1 1196"/><path d="M0 1264 1 1184"/><path d="M0 1253 1 1182"/><path d="M0 1243 1 1247"/><path d="M0 1235 1 1383"/><path d="M0 1227 1 1353"/><path d="M0 1219 1 1095"/><path d="M0 1207 1 1242"/><path d="M0 1201 1 1266"/><path d="M0 1197 1 1366"/><path d="M0 1194 1 1328"/><path d="M0 1191 1 1240"/><path d="M0 1189 1 1333"/><path d="M0 1186 1 1331"/><path d="M0 1184 1 1334"/><path d="M0 1182 1 1137"/><path d="M0 1178 1 1034"/><path d="M0 1176 1 1184"/><path d="M0 1172 1 1219"/><path d="M0 1169 1 1391"/><path d="M0 1167 1 1046"/><path d="M0 1165 1 1041"/><path d="M0 1162 1 1173"/><path d="M0 1158 1 1398"/><path d="M0 1156 1 1138"/><path d="M0 1154 1 1097"/><path d="M0 1152 1 1013"/><path d="M0 1148 1 1205"/><path d="M0 1145 1 1036"/><path d="M0 1143 1 1157"/><path d="M0 1139 1 1376"/><path d="M0 1136 1 1071"/><path d="M0 1134 1 1164"/><path d="M0 1132 1 1023"/><path d="M0 1129 1 1072"/><path d="M0 1126 1 1123"/><path d="M0 1124 1 1099"/><path d="M0 1122 1 1094"/><path d="M0 1120 1 999"/><path d="M0 1117 1 1126"/><path d="M0 1116 1 1136"/><path d="M0 1113 1 1194"/><path d="M0 1111 1 1183"/><path d="M0 1109 1 1119"/><path d="M0 1106 1 1022"/><path d="M0 1104 1 1038"/><path d="M0 1100 1 1105"/><path d="M0 1097 1 1013"/><path d="M0 1094 1 1115"/><path d="M0 1092 1 1083"/><path d="M0 1089 1 1116"/><path d="M0 1086 1 1063"/><path d="M0 1083 1 1090"/><path d="M0 1081 1 1076"/><path d="M0 1079 1 1161"/><path d="M0 1075 1 1079"/><path d="M0 1071 1 1147"/><path d="M0 1070 1 1197"/><path d="M0 1069 1 991"/><path d="M0 1066 1 1044"/><path d="M0 1064 1 1152"/><path d="M0 1062 1 1054"/><path d="M0 1059 1 1115"/><path d="M0 1056 1 1175"/><path d="M0 1056 1 1158"/><path d="M0 1054 1 1074"/><path d="M0 1052 1 1078"/><path d="M0 1051 1 1087"/><path d="M0 1048 1 1294"/><path d="M0 1046 1 1001"/><path d="M0 1043 1 1140"/><path d="M0 1041 1 1015"/><path d="M0 1038 1 999"/><path d="M0 1036 1 990"/><path d="M0 1034 1 1016"/><path d="M0 1031 1 1083"/><path d="M0 1029 1 1059"/><path d="M0 1026 1 1083"/><path d="M0 1023 1 1027"/><path d="M0 1021 1 1044"/><path d="M0 1019 1 1078"/><path d="M0 1017 1 1028"/><path d="M0 1015 1 1082"/><path d="M0 1013 1 1045"/><path d="M0 1011 1 1042"/><path d="M0 1008 1 1009"/><path d="M0 1006 1 1039"/><path d="M0 1004 1 998"/><path d="M0 1003 1 1043"/><path d="M0 1000 1 1298"/><path d="M0 998 1 1043"/><path d="M0 995 1 1022"/><path d="M0 994 1 1022"/><path d="M0 991 1 994"/><path d="M0 989 1 999"/>
</g>
<g stroke="#b2d7da" stroke-opacity="0.11" transform="translate(235.3 0) scale(92.2 0.1)">
<path d="M0 1263 1 970"/><path d="M0 1226 1 984"/><path d="M0 1191 1 848"/><path d="M0 1153 1 978"/><path d="M0 1131 1 929"/><path d="M0 1128 1 974"/><path d="M0 1126 1 959"/><path d="M0 1122 1 987"/><path d="M0 1118 1 978"/><path d="M0 1113 1 932"/><path d="M0 1111 1 977"/><path d="M0 1108 1 891"/><path d="M0 1107 1 963"/><path d="M0 1104 1 942"/><path d="M0 1103 1 866"/><path d="M0 1097 1 966"/><path d="M0 1095 1 951"/><path d="M0 1093 1 974"/><path d="M0 1090 1 741"/><path d="M0 1088 1 931"/><path d="M0 1085 1 908"/><path d="M0 1082 1 851"/><path d="M0 1080 1 983"/><path d="M0 1078 1 964"/><path d="M0 1075 1 960"/><path d="M0 1073 1 952"/><path d="M0 1072 1 951"/><path d="M0 1070 1 827"/><path d="M0 1069 1 972"/><path d="M0 1067 1 965"/><path d="M0 1064 1 953"/><path d="M0 1062 1 890"/><path d="M0 1060 1 926"/><path d="M0 1059 1 872"/><path d="M0 1058 1 747"/><path d="M0 1056 1 885"/><path d="M0 1056 1 820"/><path d="M0 1055 1 914"/><path d="M0 1054 1 789"/><path d="M0 1053 1 821"/><path d="M0 1052 1 933"/><path d="M0 1052 1 943"/><path d="M0 1051 1 913"/><path d="M0 1050 1 756"/><path d="M0 1049 1 811"/><path d="M0 1048 1 952"/><path d="M0 1047 1 749"/><path d="M0 1046 1 895"/><path d="M0 1045 1 808"/><path d="M0 1045 1 882"/><path d="M0 1044 1 805"/><path d="M0 1043 1 896"/><path d="M0 1041 1 858"/><path d="M0 1041 1 740"/><path d="M0 1040 1 897"/><path d="M0 1039 1 839"/><path d="M0 1038 1 896"/><path d="M0 1037 1 915"/><path d="M0 1036 1 875"/><path d="M0 1035 1 911"/><path d="M0 1034 1 801"/><path d="M0 1033 1 800"/><path d="M0 1032 1 775"/><path d="M0 1031 1 893"/><path d="M0 1030 1 731"/><path d="M0 1029 1 878"/><path d="M0 1028 1 831"/><path d="M0 1027 1 749"/><path d="M0 1026 1 924"/><path d="M0 1025 1 725"/><path d="M0 1024 1 719"/><path d="M0 1023 1 798"/><path d="M0 1022 1 633"/><path d="M0 1020 1 734"/><path d="M0 1019 1 831"/><path d="M0 1018 1 840"/><path d="M0 1017 1 937"/><path d="M0 1016 1 827"/><path d="M0 1016 1 732"/><path d="M0 1015 1 815"/><path d="M0 1014 1 884"/><path d="M0 1013 1 747"/><path d="M0 1011 1 929"/><path d="M0 1010 1 766"/><path d="M0 1009 1 776"/><path d="M0 1008 1 727"/><path d="M0 1006 1 804"/><path d="M0 1005 1 565"/><path d="M0 1004 1 745"/><path d="M0 1004 1 859"/><path d="M0 1002 1 480"/><path d="M0 1001 1 820"/><path d="M0 1000 1 870"/><path d="M0 999 1 744"/><path d="M0 998 1 725"/><path d="M0 997 1 805"/><path d="M0 996 1 871"/><path d="M0 994 1 452"/><path d="M0 993 1 764"/><path d="M0 992 1 718"/><path d="M0 991 1 370"/><path d="M0 990 1 724"/><path d="M0 989 1 688"/><path d="M0 988 1 746"/>
</g>
<g stroke="#4068aa" stroke-opacity="0.0935" transform="translate(235.3 0) scale(92.2 0.1)">
<path d="M0 1395 1 1126"/><path d="M0 1382 1 1337"/><path d="M0 1356 1 1191"/><path d="M0 1341 1 1354"/><path d="M0 1320 1 1361"/><path d="M0 1309 1 1276"/><path d="M0 1298 1 1173"/><path d="M0 1288 1 1102"/><path d="M0 1278 1 1347"/><path d="M0 1268 1 1238"/><path d="M0 1264 1 1124"/><path d="M0 1252 1 1239"/><path d="M0 1242 1 1050"/><path d="M0 1234 1 1359"/><path d="M0 1227 1 1205"/><path d="M0 1218 1 1160"/><path d="M0 1207 1 1137"/><path d="M0 1201 1 1286"/><path d="M0 1197 1 1059"/><path d="M0 1194 1 1190"/><path d="M0 1191 1 1180"/><path d="M0 1189 1 1370"/><path d="M0 1186 1 1062"/><path d="M0 1184 1 1388"/><path d="M0 1180 1 1080"/><path d="M0 1178 1 1148"/><path d="M0 1175 1 1243"/><path d="M0 1171 1 1129"/><path d="M0 1169 1 1288"/><path d="M0 1167 1 1278"/><path d="M0 1164 1 1130"/><path d="M0 1162 1 1240"/><path d="M0 1158 1 1384"/><path d="M0 1156 1 1254"/><path d="M0 1154 1 1168"/><path d="M0 1152 1 1053"/><path d="M0 1148 1 1135"/><path d="M0 1145 1 1098"/><path d="M0 1142 1 1192"/><path d="M0 1138 1 1192"/><path d="M0 1136 1 1097"/><path d="M0 1134 1 1167"/><path d="M0 1132 1 1226"/><path d="M0 1129 1 1082"/><path d="M0 1126 1 1070"/><path d="M0 1124 1 1054"/><path d="M0 1122 1 1036"/><path d="M0 1119 1 1273"/><path d="M0 1117 1 1102"/><path d="M0 1116 1 1062"/><path d="M0 1113 1 1273"/><path d="M0 1111 1 1152"/><path d="M0 1109 1 1243"/><path d="M0 1106 1 1031"/><path d="M0 1103 1 1067"/><path d="M0 1100 1 1230"/><path d="M0 1095 1 1129"/><path d="M0 1093 1 1170"/><path d="M0 1092 1 1045"/><path d="M0 1089 1 1289"/><path d="M0 1086 1 1092"/><path d="M0 1083 1 1084"/><path d="M0 1081 1 1087"/><path d="M0 1079 1 1110"/><path d="M0 1075 1 997"/><path d="M0 1071 1 1028"/><path d="M0 1070 1 1182"/><path d="M0 1069 1 1014"/><path d="M0 1066 1 1179"/><path d="M0 1064 1 1066"/><path d="M0 1061 1 1107"/><path d="M0 1059 1 1035"/><path d="M0 1056 1 1118"/><path d="M0 1056 1 1039"/><path d="M0 1054 1 1015"/><path d="M0 1052 1 1088"/><path d="M0 1051 1 1001"/><path d="M0 1048 1 997"/><path d="M0 1045 1 1147"/><path d="M0 1043 1 1049"/><path d="M0 1041 1 1027"/><path d="M0 1038 1 1092"/><path d="M0 1036 1 989"/><path d="M0 1034 1 1111"/><path d="M0 1031 1 1140"/><path d="M0 1028 1 1119"/><path d="M0 1025 1 1100"/><path d="M0 1023 1 1022"/><path d="M0 1021 1 1051"/><path d="M0 1019 1 1104"/><path d="M0 1017 1 1071"/><path d="M0 1015 1 1028"/><path d="M0 1012 1 1031"/><path d="M0 1010 1 1061"/><path d="M0 1008 1 1028"/><path d="M0 1006 1 990"/><path d="M0 1004 1 1123"/><path d="M0 1002 1 999"/><path d="M0 1000 1 1048"/><path d="M0 997 1 1096"/><path d="M0 995 1 1008"/><path d="M0 994 1 997"/><path d="M0 991 1 1130"/><path d="M0 989 1 998"/>
</g>
<g stroke="#b2d7da" stroke-opacity="0.11" transform="translate(235.3 0) scale(92.2 0.1)">
<path d="M0 1259 1 934"/><path d="M0 1223 1 931"/><path d="M0 1188 1 967"/><path d="M0 1152 1 974"/><path d="M0 1131 1 966"/><path d="M0 1128 1 939"/><path d="M0 1126 1 768"/><path d="M0 1122 1 981"/><path d="M0 1117 1 866"/><path d="M0 1113 1 965"/><path d="M0 1111 1 757"/><path d="M0 1108 1 813"/><path d="M0 1107 1 890"/><path d="M0 1104 1 906"/><path d="M0 1102 1 882"/><path d="M0 1097 1 884"/><path d="M0 1095 1 978"/><path d="M0 1093 1 960"/><path d="M0 1090 1 921"/><path d="M0 1088 1 976"/><path d="M0 1085 1 865"/><path d="M0 1082 1 955"/><path d="M0 1080 1 918"/><path d="M0 1077 1 955"/><path d="M0 1075 1 893"/><path d="M0 1073 1 915"/><path d="M0 1072 1 896"/><path d="M0 1070 1 832"/><path d="M0 1069 1 984"/><path d="M0 1067 1 928"/><path d="M0 1064 1 868"/><path d="M0 1062 1 841"/><path d="M0 1059 1 966"/><path d="M0 1058 1 823"/><path d="M0 1058 1 974"/><path d="M0 1056 1 817"/><path d="M0 1055 1 860"/><path d="M0 1055 1 802"/><path d="M0 1054 1 969"/><path d="M0 1053 1 869"/><path d="M0 1052 1 874"/><path d="M0 1052 1 962"/><path d="M0 1051 1 976"/><path d="M0 1050 1 976"/><path d="M0 1049 1 603"/><path d="M0 1048 1 866"/><path d="M0 1047 1 942"/><path d="M0 1046 1 774"/><path d="M0 1045 1 738"/><path d="M0 1045 1 722"/><path d="M0 1044 1 890"/><path d="M0 1043 1 890"/><path d="M0 1041 1 800"/><path d="M0 1040 1 932"/><path d="M0 1040 1 933"/><path d="M0 1039 1 782"/><path d="M0 1038 1 876"/><path d="M0 1037 1 754"/><path d="M0 1036 1 845"/><path d="M0 1035 1 756"/><path d="M0 1034 1 897"/><path d="M0 1033 1 894"/><path d="M0 1032 1 741"/><path d="M0 1031 1 964"/><path d="M0 1030 1 924"/><path d="M0 1029 1 725"/><path d="M0 1028 1 758"/><path d="M0 1027 1 783"/><path d="M0 1026 1 748"/><path d="M0 1025 1 703"/><path d="M0 1024 1 871"/><path d="M0 1022 1 829"/><path d="M0 1022 1 728"/><path d="M0 1020 1 875"/><path d="M0 1019 1 779"/><path d="M0 1018 1 779"/><path d="M0 1017 1 612"/><path d="M0 1016 1 795"/><path d="M0 1015 1 708"/><path d="M0 1015 1 933"/><path d="M0 1014 1 841"/><path d="M0 1013 1 787"/><path d="M0 1011 1 730"/><path d="M0 1010 1 294"/><path d="M0 1009 1 863"/><path d="M0 1008 1 738"/><path d="M0 1006 1 592"/><path d="M0 1005 1 726"/><path d="M0 1004 1 638"/><path d="M0 1004 1 719"/><path d="M0 1002 1 521"/><path d="M0 1001 1 807"/><path d="M0 1000 1 801"/><path d="M0 999 1 731"/><path d="M0 998 1 674"/><path d="M0 997 1 672"/><path d="M0 996 1 832"/><path d="M0 994 1 735"/><path d="M0 993 1 663"/><path d="M0 992 1 730"/><path d="M0 991 1 736"/><path d="M0 990 1 737"/><path d="M0 989 1 798"/><path d="M0 988 1 808"/>
</g>
<g stroke="#4068aa" stroke-opacity="0.0935" transform="translate(235.3 0) scale(92.2 0.1)">
<path d="M0 1393 1 1115"/><path d="M0 1381 1 1159"/><path d="M0 1356 1 1184"/><path d="M0 1341 1 1137"/><path d="M0 1318 1 1356"/><path d="M0 1305 1 1307"/><path d="M0 1297 1 1316"/><path d="M0 1288 1 1320"/><path d="M0 1276 1 1334"/><path d="M0 1268 1 1130"/><path d="M0 1262 1 1364"/><path d="M0 1249 1 1358"/><path d="M0 1242 1 1337"/><path d="M0 1233 1 1337"/><path d="M0 1226 1 1181"/><path d="M0 1217 1 1056"/><path d="M0 1207 1 1384"/><path d="M0 1200 1 1110"/><path d="M0 1196 1 1097"/><path d="M0 1194 1 1285"/><path d="M0 1191 1 1119"/><path d="M0 1189 1 1097"/><path d="M0 1186 1 1307"/><path d="M0 1184 1 1042"/><path d="M0 1179 1 1198"/><path d="M0 1178 1 1144"/><path d="M0 1174 1 1367"/><path d="M0 1171 1 1347"/><path d="M0 1169 1 1080"/><path d="M0 1166 1 1131"/><path d="M0 1163 1 1158"/><path d="M0 1162 1 1086"/><path d="M0 1157 1 1145"/><path d="M0 1156 1 1121"/><path d="M0 1154 1 1265"/><path d="M0 1152 1 1114"/><path d="M0 1147 1 1190"/><path d="M0 1145 1 1176"/><path d="M0 1142 1 1136"/><path d="M0 1138 1 1265"/><path d="M0 1135 1 1061"/><path d="M0 1134 1 1118"/><path d="M0 1132 1 1069"/><path d="M0 1129 1 1121"/><path d="M0 1126 1 1117"/><path d="M0 1124 1 1039"/><path d="M0 1122 1 1131"/><path d="M0 1119 1 1143"/><path d="M0 1117 1 1190"/><path d="M0 1116 1 1158"/><path d="M0 1113 1 1327"/><path d="M0 1111 1 1197"/><path d="M0 1109 1 1143"/><path d="M0 1106 1 1043"/><path d="M0 1103 1 1106"/><path d="M0 1099 1 1088"/><path d="M0 1095 1 1019"/><path d="M0 1093 1 1194"/><path d="M0 1092 1 1133"/><path d="M0 1089 1 991"/><path d="M0 1086 1 1072"/><path d="M0 1083 1 1083"/><path d="M0 1081 1 1097"/><path d="M0 1078 1 991"/><path d="M0 1074 1 1061"/><path d="M0 1071 1 1129"/><path d="M0 1070 1 1126"/><path d="M0 1069 1 1111"/><path d="M0 1066 1 1121"/><path d="M0 1064 1 1020"/><path d="M0 1061 1 1015"/><path d="M0 1059 1 1055"/><path d="M0 1056 1 1028"/><path d="M0 1056 1 1138"/><path d="M0 1054 1 1043"/><path d="M0 1052 1 1007"/><path d="M0 1050 1 1035"/><path d="M0 1048 1 1117"/><path d="M0 1045 1 1041"/><path d="M0 1043 1 1031"/><path d="M0 1040 1 1076"/><path d="M0 1038 1 1132"/><path d="M0 1036 1 1059"/><path d="M0 1033 1 995"/><path d="M0 1030 1 1076"/><path d="M0 1028 1 1165"/><path d="M0 1025 1 1176"/><path d="M0 1023 1 1054"/><path d="M0 1020 1 1119"/><path d="M0 1019 1 1134"/><path d="M0 1017 1 1005"/><path d="M0 1015 1 1118"/><path d="M0 1012 1 996"/><path d="M0 1010 1 1011"/><path d="M0 1008 1 991"/><path d="M0 1006 1 1142"/><path d="M0 1004 1 996"/><path d="M0 1001 1 1089"/><path d="M0 999 1 1004"/><path d="M0 997 1 1121"/><path d="M0 995 1 990"/><path d="M0 993 1 1044"/><path d="M0 991 1 1027"/><path d="M0 989 1 1029"/>
</g>
<g stroke="#b2d7da" stroke-opacity="0.11" transform="translate(235.3 0) scale(92.2 0.1)">
<path d="M0 1258 1 773"/><path d="M0 1220 1 980"/><path d="M0 1178 1 972"/><path d="M0 1151 1 986"/><path d="M0 1130 1 983"/><path d="M0 1128 1 952"/><path d="M0 1126 1 898"/><path d="M0 1121 1 861"/><path d="M0 1117 1 965"/><path d="M0 1113 1 872"/><path d="M0 1111 1 945"/><path d="M0 1108 1 949"/><path d="M0 1106 1 906"/><path d="M0 1104 1 943"/><path d="M0 1100 1 980"/><path d="M0 1097 1 933"/><path d="M0 1095 1 936"/><path d="M0 1092 1 847"/><path d="M0 1089 1 966"/><path d="M0 1088 1 885"/><path d="M0 1085 1 830"/><path d="M0 1082 1 941"/><path d="M0 1079 1 987"/><path d="M0 1077 1 908"/><path d="M0 1075 1 824"/><path d="M0 1073 1 942"/><path d="M0 1071 1 909"/><path d="M0 1070 1 931"/><path d="M0 1068 1 941"/><path d="M0 1066 1 956"/><path d="M0 1064 1 810"/><path d="M0 1062 1 897"/><path d="M0 1059 1 888"/><path d="M0 1058 1 943"/><path d="M0 1058 1 908"/><path d="M0 1056 1 741"/><path d="M0 1055 1 881"/><path d="M0 1054 1 806"/><path d="M0 1054 1 859"/><path d="M0 1053 1 908"/><path d="M0 1052 1 909"/><path d="M0 1052 1 872"/><path d="M0 1051 1 976"/><path d="M0 1050 1 910"/><path d="M0 1049 1 789"/><path d="M0 1048 1 957"/><path d="M0 1047 1 713"/><path d="M0 1046 1 823"/><path d="M0 1045 1 792"/><path d="M0 1045 1 847"/><path d="M0 1044 1 903"/><path d="M0 1042 1 719"/><path d="M0 1041 1 787"/><path d="M0 1040 1 750"/><path d="M0 1039 1 786"/><path d="M0 1039 1 752"/><path d="M0 1038 1 811"/><path d="M0 1037 1 891"/><path d="M0 1036 1 817"/><path d="M0 1035 1 967"/><path d="M0 1034 1 916"/><path d="M0 1033 1 941"/><path d="M0 1031 1 728"/><path d="M0 1030 1 887"/><path d="M0 1030 1 722"/><path d="M0 1029 1 809"/><path d="M0 1028 1 716"/><path d="M0 1027 1 881"/><path d="M0 1026 1 768"/><path d="M0 1025 1 712"/><path d="M0 1023 1 850"/><path d="M0 1022 1 667"/><path d="M0 1021 1 793"/><path d="M0 1020 1 738"/><path d="M0 1019 1 676"/><path d="M0 1018 1 904"/><path d="M0 1017 1 939"/><path d="M0 1016 1 720"/><path d="M0 1015 1 603"/><path d="M0 1015 1 733"/><path d="M0 1014 1 734"/><path d="M0 1013 1 740"/><path d="M0 1011 1 905"/><path d="M0 1010 1 748"/><path d="M0 1009 1 730"/><path d="M0 1008 1 757"/><path d="M0 1006 1 606"/><path d="M0 1005 1 963"/><path d="M0 1004 1 775"/><path d="M0 1004 1 763"/><path d="M0 1002 1 803"/><path d="M0 1001 1 902"/><path d="M0 1000 1 770"/><path d="M0 999 1 620"/><path d="M0 998 1 963"/><path d="M0 997 1 693"/><path d="M0 996 1 718"/><path d="M0 994 1 773"/><path d="M0 993 1 757"/><path d="M0 992 1 759"/><path d="M0 991 1 644"/><path d="M0 990 1 737"/><path d="M0 989 1 787"/><path d="M0 988 1 496"/>
</g>
<g stroke="#4068aa" stroke-opacity="0.0935" transform="translate(235.3 0) scale(92.2 0.1)">
<path d="M0 1393 1 1372"/><path d="M0 1379 1 1194"/><path d="M0 1356 1 1169"/><path d="M0 1341 1 1360"/><path d="M0 1317 1 1238"/><path d="M0 1303 1 1153"/><path d="M0 1297 1 1380"/><path d="M0 1288 1 1169"/><path d="M0 1275 1 1218"/><path d="M0 1268 1 1099"/><path d="M0 1262 1 1242"/><path d="M0 1248 1 1358"/><path d="M0 1242 1 1251"/><path d="M0 1233 1 1279"/><path d="M0 1224 1 1242"/><path d="M0 1216 1 1279"/><path d="M0 1206 1 1254"/><path d="M0 1199 1 1171"/><path d="M0 1196 1 1076"/><path d="M0 1193 1 1059"/><path d="M0 1191 1 1192"/><path d="M0 1188 1 1150"/><path d="M0 1186 1 1181"/><path d="M0 1183 1 1210"/><path d="M0 1179 1 1229"/><path d="M0 1177 1 1135"/><path d="M0 1174 1 1183"/><path d="M0 1171 1 1165"/><path d="M0 1168 1 1126"/><path d="M0 1166 1 1090"/><path d="M0 1163 1 1150"/><path d="M0 1161 1 1108"/><path d="M0 1157 1 1282"/><path d="M0 1156 1 1132"/><path d="M0 1154 1 1207"/><path d="M0 1151 1 1096"/><path d="M0 1147 1 1147"/><path d="M0 1145 1 1106"/><path d="M0 1142 1 1074"/><path d="M0 1138 1 1081"/><path d="M0 1135 1 1074"/><path d="M0 1134 1 1047"/><path d="M0 1131 1 1151"/><path d="M0 1128 1 1117"/><path d="M0 1126 1 1171"/><path d="M0 1124 1 1088"/><path d="M0 1121 1 1130"/><path d="M0 1119 1 1124"/><path d="M0 1117 1 1026"/><path d="M0 1115 1 995"/><path d="M0 1113 1 995"/><path d="M0 1111 1 1114"/><path d="M0 1109 1 1165"/><path d="M0 1105 1 1014"/><path d="M0 1102 1 1099"/><path d="M0 1098 1 1226"/><path d="M0 1094 1 1109"/><path d="M0 1093 1 1102"/><path d="M0 1092 1 1130"/><path d="M0 1088 1 1259"/><path d="M0 1085 1 1156"/><path d="M0 1082 1 1273"/><path d="M0 1081 1 1136"/><path d="M0 1078 1 1058"/><path d="M0 1074 1 1073"/><path d="M0 1071 1 1061"/><path d="M0 1070 1 1098"/><path d="M0 1069 1 998"/><path d="M0 1065 1 1049"/><path d="M0 1064 1 1134"/><path d="M0 1061 1 1130"/><path d="M0 1058 1 1008"/><path d="M0 1056 1 1187"/><path d="M0 1055 1 1022"/><path d="M0 1053 1 1074"/><path d="M0 1052 1 1041"/><path d="M0 1050 1 1010"/><path d="M0 1048 1 1077"/><path d="M0 1045 1 1032"/><path d="M0 1043 1 1062"/><path d="M0 1039 1 1062"/><path d="M0 1038 1 1001"/><path d="M0 1036 1 1015"/><path d="M0 1033 1 1048"/><path d="M0 1030 1 1019"/><path d="M0 1028 1 1000"/><path d="M0 1025 1 1032"/><path d="M0 1023 1 993"/><path d="M0 1020 1 1053"/><path d="M0 1019 1 1059"/><path d="M0 1017 1 995"/><path d="M0 1014 1 1028"/><path d="M0 1012 1 1058"/><path d="M0 1009 1 993"/><path d="M0 1008 1 1057"/><path d="M0 1005 1 1139"/><path d="M0 1004 1 1024"/><path d="M0 1001 1 1042"/><path d="M0 999 1 1101"/><path d="M0 997 1 1059"/><path d="M0 994 1 1002"/><path d="M0 993 1 1032"/><path d="M0 990 1 989"/><path d="M0 989 1 995"/>
</g>
<g stroke="#b2d7da" stroke-opacity="0.11" transform="translate(235.3 0) scale(92.2 0.1)">
<path d="M0 1254 1 942"/><path d="M0 1215 1 975"/><path d="M0 1167 1 979"/><path d="M0 1150 1 981"/><path d="M0 1130 1 966"/><path d="M0 1128 1 981"/><path d="M0 1125 1 882"/><path d="M0 1121 1 902"/><path d="M0 1117 1 978"/><path d="M0 1113 1 984"/><path d="M0 1110 1 955"/><path d="M0 1108 1 950"/><path d="M0 1106 1 859"/><path d="M0 1104 1 857"/><path d="M0 1100 1 914"/><path d="M0 1097 1 788"/><path d="M0 1095 1 943"/><path d="M0 1092 1 889"/><path d="M0 1089 1 956"/><path d="M0 1087 1 902"/><path d="M0 1084 1 972"/><path d="M0 1082 1 920"/><path d="M0 1079 1 882"/><path d="M0 1077 1 970"/><path d="M0 1075 1 913"/><path d="M0 1073 1 935"/><path d="M0 1071 1 899"/><path d="M0 1069 1 944"/><path d="M0 1068 1 980"/><path d="M0 1066 1 759"/><path d="M0 1063 1 972"/><path d="M0 1061 1 892"/><path d="M0 1059 1 934"/><path d="M0 1058 1 927"/><path d="M0 1057 1 939"/><path d="M0 1056 1 893"/><path d="M0 1055 1 955"/><path d="M0 1054 1 948"/><path d="M0 1054 1 841"/><path d="M0 1053 1 893"/><path d="M0 1052 1 775"/><path d="M0 1051 1 924"/><path d="M0 1050 1 975"/><path d="M0 1050 1 862"/><path d="M0 1049 1 902"/><path d="M0 1048 1 809"/><path d="M0 1047 1 768"/><path d="M0 1046 1 829"/><path d="M0 1045 1 955"/><path d="M0 1045 1 835"/><path d="M0 1044 1 880"/><path d="M0 1042 1 814"/><path d="M0 1041 1 894"/><path d="M0 1040 1 911"/><path d="M0 1039 1 877"/><path d="M0 1039 1 839"/><path d="M0 1038 1 826"/><path d="M0 1037 1 892"/><path d="M0 1035 1 729"/><path d="M0 1034 1 786"/><path d="M0 1034 1 940"/><path d="M0 1033 1 902"/><path d="M0 1031 1 903"/><path d="M0 1030 1 928"/><path d="M0 1030 1 750"/><path d="M0 1029 1 791"/><path d="M0 1028 1 832"/><path d="M0 1027 1 718"/><path d="M0 1026 1 743"/><path d="M0 1025 1 871"/><path d="M0 1023 1 802"/><path d="M0 1022 1 766"/><path d="M0 1021 1 889"/><path d="M0 1020 1 904"/><path d="M0 1019 1 872"/><path d="M0 1018 1 738"/><path d="M0 1017 1 896"/><path d="M0 1016 1 736"/><path d="M0 1015 1 821"/><path d="M0 1014 1 896"/><path d="M0 1014 1 759"/><path d="M0 1012 1 852"/><path d="M0 1011 1 770"/><path d="M0 1010 1 570"/><path d="M0 1009 1 831"/><path d="M0 1008 1 397"/><path d="M0 1006 1 802"/><path d="M0 1005 1 823"/><path d="M0 1004 1 749"/><path d="M0 1003 1 732"/><path d="M0 1002 1 666"/><path d="M0 1000 1 736"/><path d="M0 1000 1 723"/><path d="M0 999 1 729"/><path d="M0 998 1 611"/><path d="M0 997 1 740"/><path d="M0 996 1 646"/><path d="M0 994 1 719"/><path d="M0 993 1 691"/><path d="M0 992 1 795"/><path d="M0 991 1 854"/><path d="M0 990 1 764"/><path d="M0 989 1 617"/><path d="M0 988 1 723"/>
</g>
<g stroke="#4068aa" stroke-opacity="0.0935" transform="translate(235.3 0) scale(92.2 0.1)">
<path d="M0 1393 1 1161"/><path d="M0 1378 1 1263"/><path d="M0 1355 1 1077"/><path d="M0 1339 1 1367"/><path d="M0 1316 1 1359"/><path d="M0 1301 1 1192"/><path d="M0 1295 1 1371"/><path d="M0 1287 1 1156"/><path d="M0 1274 1 1331"/><path d="M0 1268 1 1280"/><path d="M0 1260 1 1373"/><path d="M0 1248 1 1052"/><path d="M0 1241 1 1333"/><path d="M0 1231 1 1121"/><path d="M0 1224 1 1327"/><path d="M0 1215 1 1187"/><path d="M0 1206 1 1148"/><path d="M0 1198 1 1274"/><path d="M0 1196 1 1199"/><path d="M0 1192 1 1143"/><path d="M0 1191 1 1186"/><path d="M0 1188 1 1247"/><path d="M0 1186 1 1078"/><path d="M0 1183 1 1106"/><path d="M0 1179 1 1168"/><path d="M0 1177 1 1200"/><path d="M0 1173 1 1043"/><path d="M0 1171 1 1144"/><path d="M0 1168 1 1154"/><path d="M0 1165 1 1269"/><path d="M0 1163 1 1017"/><path d="M0 1160 1 1168"/><path d="M0 1157 1 1174"/><path d="M0 1156 1 1260"/><path d="M0 1154 1 1067"/><path d="M0 1151 1 1176"/><path d="M0 1147 1 1136"/><path d="M0 1145 1 1149"/><path d="M0 1142 1 1189"/><path d="M0 1138 1 1075"/><path d="M0 1135 1 1144"/><path d="M0 1134 1 1108"/><path d="M0 1131 1 1123"/><path d="M0 1128 1 1022"/><path d="M0 1126 1 1182"/><path d="M0 1123 1 1139"/><path d="M0 1121 1 1190"/><path d="M0 1119 1 1052"/><path d="M0 1117 1 1177"/><path d="M0 1115 1 1043"/><path d="M0 1113 1 1017"/><path d="M0 1110 1 1030"/><path d="M0 1109 1 1105"/><path d="M0 1105 1 1254"/><path d="M0 1101 1 1067"/><path d="M0 1098 1 1131"/><path d="M0 1094 1 1089"/><path d="M0 1093 1 1195"/><path d="M0 1092 1 1351"/><path d="M0 1088 1 1094"/><path d="M0 1085 1 1265"/><path d="M0 1082 1 1055"/><path d="M0 1081 1 998"/><path d="M0 1077 1 1171"/><path d="M0 1074 1 1168"/><path d="M0 1071 1 1097"/><path d="M0 1070 1 1083"/><path d="M0 1068 1 1007"/><path d="M0 1065 1 1120"/><path d="M0 1064 1 1135"/><path d="M0 1061 1 1136"/><path d="M0 1058 1 1246"/><path d="M0 1056 1 1100"/><path d="M0 1055 1 1059"/><path d="M0 1053 1 1079"/><path d="M0 1052 1 1010"/><path d="M0 1050 1 1168"/><path d="M0 1047 1 996"/><path d="M0 1045 1 1072"/><path d="M0 1043 1 999"/><path d="M0 1039 1 1047"/><path d="M0 1038 1 1029"/><path d="M0 1036 1 1012"/><path d="M0 1033 1 1041"/><path d="M0 1030 1 1024"/><path d="M0 1027 1 1004"/><path d="M0 1025 1 1026"/><path d="M0 1023 1 1024"/><path d="M0 1020 1 1060"/><path d="M0 1019 1 1004"/><path d="M0 1017 1 1048"/><path d="M0 1014 1 1035"/><path d="M0 1011 1 1025"/><path d="M0 1009 1 995"/><path d="M0 1008 1 994"/><path d="M0 1005 1 1001"/><path d="M0 1003 1 1077"/><path d="M0 1001 1 1013"/><path d="M0 999 1 994"/><path d="M0 997 1 998"/><path d="M0 994 1 1019"/><path d="M0 993 1 1011"/><path d="M0 990 1 1042"/><path d="M0 988 1 1078"/>
</g>
<g stroke="#b2d7da" stroke-opacity="0.11" transform="translate(235.3 0) scale(92.2 0.1)">
<path d="M0 1254 1 986"/><path d="M0 1215 1 976"/><path d="M0 1166 1 859"/><path d="M0 1148 1 973"/><path d="M0 1130 1 934"/><path d="M0 1127 1 965"/><path d="M0 1125 1 951"/><path d="M0 1121 1 942"/><path d="M0 1116 1 963"/><path d="M0 1112 1 959"/><path d="M0 1109 1 895"/><path d="M0 1108 1 880"/><path d="M0 1106 1 987"/><path d="M0 1104 1 902"/><path d="M0 1100 1 920"/><path d="M0 1096 1 920"/><path d="M0 1095 1 834"/><path d="M0 1092 1 983"/><path d="M0 1089 1 889"/><path d="M0 1087 1 921"/><path d="M0 1083 1 947"/><path d="M0 1082 1 924"/><path d="M0 1079 1 886"/><path d="M0 1077 1 742"/><path d="M0 1075 1 965"/><path d="M0 1073 1 790"/><path d="M0 1071 1 875"/><path d="M0 1069 1 915"/><path d="M0 1068 1 906"/><path d="M0 1066 1 915"/><path d="M0 1063 1 940"/><path d="M0 1061 1 958"/><path d="M0 1059 1 978"/><path d="M0 1058 1 796"/><path d="M0 1057 1 779"/><path d="M0 1056 1 959"/><path d="M0 1055 1 919"/><path d="M0 1054 1 786"/><path d="M0 1054 1 832"/><path d="M0 1053 1 834"/><path d="M0 1052 1 931"/><path d="M0 1051 1 945"/><path d="M0 1050 1 802"/><path d="M0 1050 1 835"/><path d="M0 1049 1 971"/><path d="M0 1048 1 753"/><path d="M0 1047 1 857"/><path d="M0 1046 1 879"/><path d="M0 1045 1 886"/><path d="M0 1045 1 809"/><path d="M0 1043 1 815"/><path d="M0 1042 1 924"/><path d="M0 1041 1 893"/><path d="M0 1040 1 818"/><path d="M0 1039 1 755"/><path d="M0 1039 1 712"/><path d="M0 1038 1 916"/><path d="M0 1037 1 874"/><path d="M0 1035 1 619"/><path d="M0 1034 1 771"/><path d="M0 1034 1 841"/><path d="M0 1032 1 930"/><path d="M0 1031 1 752"/><path d="M0 1030 1 792"/><path d="M0 1030 1 724"/><path d="M0 1029 1 749"/><path d="M0 1028 1 827"/><path d="M0 1026 1 509"/><path d="M0 1026 1 926"/><path d="M0 1025 1 756"/><path d="M0 1023 1 809"/><path d="M0 1022 1 745"/><path d="M0 1021 1 818"/><path d="M0 1020 1 767"/><path d="M0 1019 1 783"/><path d="M0 1018 1 917"/><path d="M0 1017 1 753"/><path d="M0 1016 1 736"/><path d="M0 1015 1 786"/><path d="M0 1014 1 881"/><path d="M0 1013 1 739"/><path d="M0 1012 1 719"/><path d="M0 1011 1 788"/><path d="M0 1010 1 738"/><path d="M0 1009 1 750"/><path d="M0 1007 1 760"/><path d="M0 1006 1 756"/><path d="M0 1005 1 751"/><path d="M0 1004 1 638"/><path d="M0 1003 1 739"/><path d="M0 1002 1 825"/><path d="M0 1000 1 457"/><path d="M0 1000 1 755"/><path d="M0 998 1 276"/><path d="M0 998 1 513"/><path d="M0 997 1 471"/><path d="M0 996 1 820"/><path d="M0 994 1 373"/><path d="M0 993 1 592"/><path d="M0 992 1 863"/><path d="M0 991 1 747"/><path d="M0 990 1 754"/><path d="M0 989 1 766"/><path d="M0 988 1 779"/>
</g>
<g stroke="#4068aa" stroke-opacity="0.0935" transform="translate(235.3 0) scale(92.2 0.1)">
<path d="M0 1392 1 1381"/><path d="M0 1377 1 1374"/><path d="M0 1355 1 1334"/><path d="M0 1338 1 1158"/><path d="M0 1316 1 1182"/><path d="M0 1300 1 1184"/><path d="M0 1294 1 1353"/><path d="M0 1287 1 1352"/><path d="M0 1273 1 1179"/><path d="M0 1267 1 1328"/><path d="M0 1258 1 1321"/><path d="M0 1248 1 1327"/><path d="M0 1240 1 1324"/><path d="M0 1231 1 1140"/><path d="M0 1223 1 1361"/><path d="M0 1215 1 1240"/><path d="M0 1204 1 1097"/><path d="M0 1198 1 1227"/><path d="M0 1194 1 1177"/><path d="M0 1192 1 1185"/><path d="M0 1190 1 1103"/><path d="M0 1187 1 1317"/><path d="M0 1185 1 1377"/><path d="M0 1183 1 1094"/><path d="M0 1179 1 1142"/><path d="M0 1177 1 1317"/><path d="M0 1173 1 1100"/><path d="M0 1171 1 1045"/><path d="M0 1168 1 1009"/><path d="M0 1165 1 1157"/><path d="M0 1163 1 1119"/><path d="M0 1160 1 1214"/><path d="M0 1157 1 1194"/><path d="M0 1155 1 1100"/><path d="M0 1154 1 1195"/><path d="M0 1150 1 1186"/><path d="M0 1146 1 1050"/><path d="M0 1144 1 1065"/><path d="M0 1141 1 1173"/><path d="M0 1137 1 1278"/><path d="M0 1135 1 1172"/><path d="M0 1133 1 1120"/><path d="M0 1131 1 1195"/><path d="M0 1128 1 1145"/><path d="M0 1126 1 1074"/><path d="M0 1123 1 1354"/><path d="M0 1121 1 1151"/><path d="M0 1119 1 1007"/><path d="M0 1117 1 1075"/><path d="M0 1115 1 1187"/><path d="M0 1113 1 1160"/><path d="M0 1110 1 1046"/><path d="M0 1109 1 1092"/><path d="M0 1105 1 1061"/><path d="M0 1101 1 1009"/><path d="M0 1098 1 1128"/><path d="M0 1094 1 1088"/><path d="M0 1093 1 1195"/><path d="M0 1092 1 1042"/><path d="M0 1088 1 1162"/><path d="M0 1084 1 1210"/><path d="M0 1081 1 1182"/><path d="M0 1080 1 1306"/><path d="M0 1077 1 1077"/><path d="M0 1073 1 1122"/><path d="M0 1071 1 1141"/><path d="M0 1070 1 1048"/><path d="M0 1068 1 1029"/><path d="M0 1065 1 1058"/><path d="M0 1063 1 1114"/><path d="M0 1061 1 995"/><path d="M0 1058 1 1028"/><path d="M0 1056 1 1312"/><path d="M0 1055 1 1098"/><path d="M0 1053 1 1055"/><path d="M0 1051 1 996"/><path d="M0 1049 1 1064"/><path d="M0 1047 1 1211"/><path d="M0 1044 1 1083"/><path d="M0 1043 1 1222"/><path d="M0 1039 1 1089"/><path d="M0 1038 1 1231"/><path d="M0 1036 1 1062"/><path d="M0 1033 1 1084"/><path d="M0 1030 1 1004"/><path d="M0 1027 1 1097"/><path d="M0 1024 1 1007"/><path d="M0 1023 1 997"/><path d="M0 1020 1 1034"/><path d="M0 1018 1 1122"/><path d="M0 1017 1 998"/><path d="M0 1014 1 1077"/><path d="M0 1011 1 1004"/><path d="M0 1009 1 1036"/><path d="M0 1008 1 990"/><path d="M0 1005 1 1007"/><path d="M0 1003 1 1143"/><path d="M0 1001 1 1033"/><path d="M0 999 1 1160"/><path d="M0 997 1 1013"/><path d="M0 994 1 993"/><path d="M0 993 1 1002"/><path d="M0 990 1 1130"/><path d="M0 988 1 1000"/>
</g>
<g stroke="#b2d7da" stroke-opacity="0.11" transform="translate(235.3 0) scale(92.2 0.1)">
<path d="M0 1254 1 951"/><path d="M0 1207 1 977"/><path d="M0 1164 1 950"/><path d="M0 1137 1 972"/><path d="M0 1129 1 955"/><path d="M0 1127 1 976"/><path d="M0 1124 1 842"/><path d="M0 1121 1 961"/><path d="M0 1116 1 977"/><path d="M0 1112 1 967"/><path d="M0 1109 1 970"/><path d="M0 1107 1 982"/><path d="M0 1106 1 950"/><path d="M0 1103 1 931"/><path d="M0 1099 1 888"/><path d="M0 1096 1 982"/><path d="M0 1094 1 876"/><path d="M0 1091 1 913"/><path d="M0 1089 1 780"/><path d="M0 1087 1 967"/><path d="M0 1083 1 975"/><path d="M0 1082 1 936"/><path d="M0 1079 1 975"/><path d="M0 1076 1 943"/><path d="M0 1075 1 907"/><path d="M0 1072 1 840"/><path d="M0 1071 1 909"/><path d="M0 1069 1 876"/><path d="M0 1068 1 917"/><path d="M0 1066 1 952"/><path d="M0 1063 1 933"/><path d="M0 1061 1 943"/><path d="M0 1059 1 834"/><path d="M0 1058 1 906"/><path d="M0 1057 1 768"/><path d="M0 1056 1 907"/><path d="M0 1055 1 948"/><path d="M0 1054 1 916"/><path d="M0 1054 1 833"/><path d="M0 1053 1 797"/><path d="M0 1052 1 933"/><path d="M0 1051 1 904"/><path d="M0 1050 1 895"/><path d="M0 1050 1 978"/><path d="M0 1049 1 798"/><path d="M0 1048 1 872"/><path d="M0 1047 1 796"/><path d="M0 1046 1 757"/><path d="M0 1045 1 942"/><path d="M0 1044 1 767"/><path d="M0 1043 1 893"/><path d="M0 1042 1 751"/><path d="M0 1041 1 858"/><path d="M0 1040 1 883"/><path d="M0 1039 1 736"/><path d="M0 1039 1 888"/><path d="M0 1038 1 791"/><path d="M0 1037 1 823"/><path d="M0 1035 1 862"/><path d="M0 1034 1 608"/><path d="M0 1034 1 909"/><path d="M0 1032 1 857"/><path d="M0 1031 1 979"/><path d="M0 1030 1 887"/><path d="M0 1030 1 777"/><path d="M0 1029 1 893"/><path d="M0 1028 1 660"/><path d="M0 1026 1 885"/><path d="M0 1026 1 789"/><path d="M0 1024 1 886"/><path d="M0 1023 1 902"/><path d="M0 1022 1 843"/><path d="M0 1021 1 854"/><path d="M0 1020 1 801"/><path d="M0 1019 1 636"/><path d="M0 1018 1 772"/><path d="M0 1017 1 778"/><path d="M0 1016 1 918"/><path d="M0 1015 1 766"/><path d="M0 1014 1 773"/><path d="M0 1013 1 795"/><path d="M0 1012 1 889"/><path d="M0 1011 1 906"/><path d="M0 1010 1 754"/><path d="M0 1009 1 661"/><path d="M0 1007 1 570"/><path d="M0 1006 1 679"/><path d="M0 1005 1 335"/><path d="M0 1004 1 723"/><path d="M0 1003 1 748"/><path d="M0 1002 1 745"/><path d="M0 1000 1 759"/><path d="M0 1000 1 724"/><path d="M0 998 1 752"/><path d="M0 998 1 561"/><path d="M0 997 1 782"/><path d="M0 996 1 562"/><path d="M0 994 1 729"/><path d="M0 993 1 491"/><path d="M0 992 1 612"/><path d="M0 991 1 769"/><path d="M0 990 1 747"/><path d="M0 989 1 673"/><path d="M0 988 1 487"/>
</g>
<line x1="217.2" y1="16.5" x2="217.2" y2="160" stroke="#231f20" stroke-width="1.1"/>
<line x1="216.7" y1="159.5" x2="345" y2="159.5" stroke="#231f20" stroke-width="1.0"/>
<line x1="214.2" y1="152.8" x2="217.2" y2="152.8" stroke="#231f20" stroke-width="0.9"/>
<text x="211.1" y="155.1" font-size="7.6" text-anchor="end" letter-spacing="0.35">0</text>
<line x1="214.2" y1="134.8" x2="217.2" y2="134.8" stroke="#231f20" stroke-width="0.9"/>
<text x="211.1" y="137.1" font-size="7.6" text-anchor="end" letter-spacing="0.35">50</text>
<line x1="214.2" y1="116.8" x2="217.2" y2="116.8" stroke="#231f20" stroke-width="0.9"/>
<text x="211.1" y="119.1" font-size="7.6" text-anchor="end" letter-spacing="0.35">100</text>
<line x1="214.2" y1="98.8" x2="217.2" y2="98.8" stroke="#231f20" stroke-width="0.9"/>
<text x="211.1" y="101.1" font-size="7.6" text-anchor="end" letter-spacing="0.35">150</text>
<line x1="214.2" y1="80.8" x2="217.2" y2="80.8" stroke="#231f20" stroke-width="0.9"/>
<text x="211.1" y="83.1" font-size="7.6" text-anchor="end" letter-spacing="0.35">200</text>
<line x1="214.2" y1="62.8" x2="217.2" y2="62.8" stroke="#231f20" stroke-width="0.9"/>
<text x="211.1" y="65.1" font-size="7.6" text-anchor="end" letter-spacing="0.35">250</text>
<line x1="214.2" y1="44.8" x2="217.2" y2="44.8" stroke="#231f20" stroke-width="0.9"/>
<text x="211.1" y="47.1" font-size="7.6" text-anchor="end" letter-spacing="0.35">300</text>
<line x1="214.2" y1="26.8" x2="217.2" y2="26.8" stroke="#231f20" stroke-width="0.9"/>
<text x="211.1" y="29.1" font-size="7.6" text-anchor="end" letter-spacing="0.35">350</text>
<text x="183.2" y="16.1" font-size="10.8" font-weight="bold" fill="#000">B</text>
<text x="191.9" y="128.8" font-size="8.7" textLength="63.2" lengthAdjust="spacingAndGlyphs" transform="rotate(-90 191.9 128.8)" stroke-width="0.5" word-spacing="1.6">Platelet count (10<tspan font-size="6.3" dy="-3.2">9</tspan><tspan dy="3.2">/L)</tspan></text>
<text x="235.5" y="169.9" font-size="8" text-anchor="middle" textLength="28.4" lengthAdjust="spacingAndGlyphs">Baseline</text>
<text x="327.1" y="169.9" font-size="8" text-anchor="middle" textLength="32.4" lengthAdjust="spacingAndGlyphs">Follow-up</text>
<g fill="#7a7a7a">
<rect x="398.9" y="134" width="0.7" height="14.1"/>
</g>
<g fill="#7a7a7a">
<rect x="494.2" y="30.2" width="0.7" height="0.7"/>
<rect x="494.2" y="59.1" width="0.7" height="0.7"/>
<rect x="494.2" y="76.1" width="0.7" height="0.7"/>
<rect x="494.2" y="78.1" width="0.7" height="0.7"/>
<rect x="494.2" y="80.1" width="0.7" height="0.7"/>
<rect x="494.2" y="82.1" width="0.7" height="0.7"/>
<rect x="494.2" y="84.1" width="0.7" height="0.7"/>
<rect x="494.2" y="86.1" width="0.7" height="5.4"/>
<rect x="494.2" y="91.8" width="0.7" height="3.6"/>
<rect x="494.2" y="95.7" width="0.7" height="51.4"/>
</g>
<g class="w" stroke="#eef3da" stroke-opacity="0.7" transform="translate(399.3 0) scale(95.3 0.1)">
<path d="M0 1353 1 305"/><path d="M0 1363 1 595"/><path d="M0 1373 1 765"/><path d="M0 1403 1 804"/><path d="M0 1383 1 784"/><path d="M0 1393 1 824"/><path d="M0 1363 1 844"/><path d="M0 1413 1 864"/>
</g>
<line x1="381" y1="134.3" x2="513.6" y2="134.3" stroke="#231f20" stroke-width="1.2" stroke-dasharray="4 2.2"/>
<g stroke="#aacd6a" stroke-opacity="0.11" transform="translate(399.3 0) scale(95.3 0.1)">
<path d="M0 1472 1 1340"/><path d="M0 1466 1 1336"/><path d="M0 1461 1 1230"/><path d="M0 1457 1 1309"/><path d="M0 1453 1 1239"/><path d="M0 1447 1 1309"/><path d="M0 1445 1 1331"/><path d="M0 1440 1 1304"/><path d="M0 1435 1 1319"/><path d="M0 1433 1 1268"/><path d="M0 1431 1 1338"/><path d="M0 1430 1 1305"/><path d="M0 1429 1 1128"/><path d="M0 1427 1 1324"/><path d="M0 1425 1 1329"/><path d="M0 1423 1 1296"/><path d="M0 1422 1 1270"/><path d="M0 1420 1 1342"/><path d="M0 1418 1 1340"/><path d="M0 1416 1 1219"/><path d="M0 1414 1 1099"/><path d="M0 1413 1 1250"/><path d="M0 1411 1 1186"/><path d="M0 1409 1 1275"/><path d="M0 1407 1 1272"/><path d="M0 1405 1 1266"/><path d="M0 1404 1 1263"/><path d="M0 1402 1 1164"/><path d="M0 1400 1 1335"/><path d="M0 1398 1 1043"/><path d="M0 1395 1 1332"/><path d="M0 1393 1 1300"/><path d="M0 1393 1 1336"/><path d="M0 1392 1 1303"/><path d="M0 1391 1 1293"/><path d="M0 1391 1 1285"/><path d="M0 1390 1 1158"/><path d="M0 1389 1 1288"/><path d="M0 1389 1 1329"/><path d="M0 1388 1 1111"/><path d="M0 1388 1 1217"/><path d="M0 1387 1 1309"/><path d="M0 1386 1 1186"/><path d="M0 1386 1 1217"/><path d="M0 1385 1 1309"/><path d="M0 1384 1 1148"/><path d="M0 1384 1 1311"/><path d="M0 1383 1 1078"/><path d="M0 1383 1 1263"/><path d="M0 1383 1 1321"/><path d="M0 1382 1 1238"/><path d="M0 1381 1 1310"/><path d="M0 1380 1 1178"/><path d="M0 1380 1 1298"/><path d="M0 1379 1 1317"/><path d="M0 1378 1 1263"/><path d="M0 1378 1 1302"/><path d="M0 1377 1 1108"/><path d="M0 1377 1 1287"/><path d="M0 1376 1 1180"/><path d="M0 1375 1 1295"/><path d="M0 1375 1 1095"/><path d="M0 1374 1 1282"/><path d="M0 1374 1 1297"/><path d="M0 1373 1 1149"/><path d="M0 1373 1 1266"/><path d="M0 1372 1 1206"/><path d="M0 1372 1 1167"/><path d="M0 1371 1 1144"/><path d="M0 1371 1 1276"/><path d="M0 1370 1 1050"/><path d="M0 1369 1 1230"/><path d="M0 1369 1 1273"/><path d="M0 1368 1 1131"/><path d="M0 1367 1 1117"/><path d="M0 1367 1 1189"/><path d="M0 1366 1 1170"/><path d="M0 1366 1 1115"/><path d="M0 1365 1 1104"/><path d="M0 1364 1 1011"/><path d="M0 1364 1 1263"/><path d="M0 1363 1 1110"/><path d="M0 1362 1 1102"/><path d="M0 1362 1 1142"/><path d="M0 1361 1 1175"/><path d="M0 1361 1 973"/><path d="M0 1360 1 1209"/><path d="M0 1359 1 1073"/><path d="M0 1358 1 1153"/><path d="M0 1358 1 1093"/><path d="M0 1357 1 1151"/><path d="M0 1356 1 1104"/><path d="M0 1355 1 1147"/><path d="M0 1355 1 1126"/><path d="M0 1354 1 1167"/><path d="M0 1354 1 976"/><path d="M0 1353 1 1075"/><path d="M0 1352 1 1013"/><path d="M0 1352 1 1216"/><path d="M0 1351 1 878"/><path d="M0 1350 1 1007"/><path d="M0 1350 1 1007"/><path d="M0 1349 1 1174"/><path d="M0 1349 1 1070"/><path d="M0 1348 1 873"/><path d="M0 1348 1 1119"/><path d="M0 1347 1 1093"/><path d="M0 1347 1 1107"/><path d="M0 1346 1 1038"/><path d="M0 1345 1 1168"/><path d="M0 1345 1 1055"/><path d="M0 1344 1 873"/>
</g>
<g stroke="#338f46" stroke-opacity="0.11" transform="translate(399.3 0) scale(95.3 0.1)">
<path d="M0 1478 1 1426"/><path d="M0 1476 1 1434"/><path d="M0 1468 1 1396"/><path d="M0 1464 1 1425"/><path d="M0 1454 1 1415"/><path d="M0 1449 1 1464"/><path d="M0 1445 1 1419"/><path d="M0 1442 1 1412"/><path d="M0 1441 1 1433"/><path d="M0 1440 1 1372"/><path d="M0 1439 1 1461"/><path d="M0 1438 1 1401"/><path d="M0 1437 1 1432"/><path d="M0 1436 1 1460"/><path d="M0 1436 1 1417"/><path d="M0 1435 1 1456"/><path d="M0 1434 1 1404"/><path d="M0 1433 1 1367"/><path d="M0 1432 1 1382"/><path d="M0 1431 1 1449"/><path d="M0 1429 1 1385"/><path d="M0 1429 1 1423"/><path d="M0 1428 1 1447"/><path d="M0 1427 1 1447"/><path d="M0 1426 1 1409"/><path d="M0 1426 1 1363"/><path d="M0 1425 1 1436"/><path d="M0 1424 1 1427"/><path d="M0 1423 1 1412"/><path d="M0 1422 1 1394"/><path d="M0 1420 1 1426"/><path d="M0 1419 1 1413"/><path d="M0 1418 1 1397"/><path d="M0 1416 1 1381"/><path d="M0 1415 1 1422"/><path d="M0 1414 1 1388"/><path d="M0 1413 1 1380"/><path d="M0 1412 1 1454"/><path d="M0 1411 1 1424"/><path d="M0 1410 1 1394"/><path d="M0 1408 1 1379"/><path d="M0 1407 1 1427"/><path d="M0 1406 1 1436"/><path d="M0 1406 1 1379"/><path d="M0 1404 1 1406"/><path d="M0 1403 1 1387"/><path d="M0 1402 1 1359"/><path d="M0 1401 1 1345"/><path d="M0 1400 1 1382"/><path d="M0 1398 1 1396"/><path d="M0 1397 1 1369"/><path d="M0 1396 1 1366"/><path d="M0 1394 1 1377"/><path d="M0 1393 1 1348"/><path d="M0 1392 1 1368"/><path d="M0 1390 1 1409"/><path d="M0 1390 1 1352"/><path d="M0 1389 1 1362"/><path d="M0 1386 1 1354"/><path d="M0 1383 1 1369"/><path d="M0 1380 1 1367"/><path d="M0 1376 1 1408"/><path d="M0 1373 1 1380"/><path d="M0 1371 1 1406"/><path d="M0 1368 1 1346"/><path d="M0 1365 1 1360"/><path d="M0 1361 1 1356"/><path d="M0 1357 1 1363"/><path d="M0 1354 1 1393"/><path d="M0 1351 1 1363"/><path d="M0 1348 1 1360"/><path d="M0 1346 1 1388"/>
</g>
<g stroke="#aacd6a" stroke-opacity="0.11" transform="translate(399.3 0) scale(95.3 0.1)">
<path d="M0 1471 1 1319"/><path d="M0 1466 1 1321"/><path d="M0 1460 1 1249"/><path d="M0 1456 1 1171"/><path d="M0 1453 1 1302"/><path d="M0 1447 1 1293"/><path d="M0 1444 1 1200"/><path d="M0 1440 1 1310"/><path d="M0 1435 1 1325"/><path d="M0 1433 1 1231"/><path d="M0 1430 1 1296"/><path d="M0 1429 1 1335"/><path d="M0 1428 1 1330"/><path d="M0 1427 1 1319"/><path d="M0 1425 1 1282"/><path d="M0 1423 1 1294"/><path d="M0 1421 1 1334"/><path d="M0 1420 1 1316"/><path d="M0 1418 1 1225"/><path d="M0 1416 1 1273"/><path d="M0 1414 1 1313"/><path d="M0 1413 1 1288"/><path d="M0 1411 1 1339"/><path d="M0 1409 1 1221"/><path d="M0 1406 1 1246"/><path d="M0 1405 1 1312"/><path d="M0 1404 1 1292"/><path d="M0 1402 1 1217"/><path d="M0 1400 1 1248"/><path d="M0 1398 1 1285"/><path d="M0 1394 1 1271"/><path d="M0 1393 1 1293"/><path d="M0 1393 1 1300"/><path d="M0 1392 1 1292"/><path d="M0 1391 1 1230"/><path d="M0 1390 1 1279"/><path d="M0 1390 1 1332"/><path d="M0 1389 1 1144"/><path d="M0 1389 1 1181"/><path d="M0 1388 1 1324"/><path d="M0 1388 1 1146"/><path d="M0 1387 1 1230"/><path d="M0 1386 1 1343"/><path d="M0 1386 1 1259"/><path d="M0 1385 1 1083"/><path d="M0 1384 1 1251"/><path d="M0 1384 1 1258"/><path d="M0 1383 1 1199"/><path d="M0 1383 1 1188"/><path d="M0 1383 1 1292"/><path d="M0 1382 1 1232"/><path d="M0 1381 1 1306"/><path d="M0 1380 1 1257"/><path d="M0 1380 1 1075"/><path d="M0 1379 1 1208"/><path d="M0 1378 1 1253"/><path d="M0 1377 1 1304"/><path d="M0 1377 1 1154"/><path d="M0 1377 1 1225"/><path d="M0 1376 1 1102"/><path d="M0 1375 1 1040"/><path d="M0 1375 1 1148"/><path d="M0 1374 1 1085"/><path d="M0 1374 1 1095"/><path d="M0 1373 1 1168"/><path d="M0 1373 1 1054"/><path d="M0 1372 1 1161"/><path d="M0 1372 1 1143"/><path d="M0 1371 1 1123"/><path d="M0 1371 1 1198"/><path d="M0 1370 1 1217"/><path d="M0 1369 1 1195"/><path d="M0 1369 1 1188"/><path d="M0 1368 1 1198"/><path d="M0 1367 1 1275"/><path d="M0 1367 1 1142"/><path d="M0 1366 1 1110"/><path d="M0 1366 1 1076"/><path d="M0 1365 1 1134"/><path d="M0 1364 1 1082"/><path d="M0 1364 1 1018"/><path d="M0 1363 1 1016"/><path d="M0 1362 1 1213"/><path d="M0 1362 1 1104"/><path d="M0 1361 1 1150"/><path d="M0 1361 1 1046"/><path d="M0 1360 1 1238"/><path d="M0 1359 1 1139"/><path d="M0 1358 1 1234"/><path d="M0 1358 1 1076"/><path d="M0 1356 1 965"/><path d="M0 1356 1 1209"/><path d="M0 1355 1 966"/><path d="M0 1355 1 1112"/><path d="M0 1354 1 894"/><path d="M0 1354 1 1038"/><path d="M0 1353 1 1278"/><path d="M0 1352 1 1097"/><path d="M0 1351 1 1098"/><path d="M0 1351 1 1037"/><path d="M0 1350 1 1113"/><path d="M0 1350 1 1245"/><path d="M0 1349 1 1151"/><path d="M0 1349 1 1083"/><path d="M0 1348 1 1102"/><path d="M0 1348 1 1075"/><path d="M0 1347 1 1009"/><path d="M0 1347 1 976"/><path d="M0 1346 1 988"/><path d="M0 1345 1 997"/><path d="M0 1345 1 922"/><path d="M0 1344 1 931"/>
</g>
<g stroke="#338f46" stroke-opacity="0.11" transform="translate(399.3 0) scale(95.3 0.1)">
<path d="M0 1478 1 1408"/><path d="M0 1475 1 1465"/><path d="M0 1468 1 1386"/><path d="M0 1463 1 1407"/><path d="M0 1453 1 1436"/><path d="M0 1448 1 1401"/><path d="M0 1445 1 1468"/><path d="M0 1442 1 1457"/><path d="M0 1441 1 1467"/><path d="M0 1440 1 1423"/><path d="M0 1439 1 1412"/><path d="M0 1438 1 1407"/><path d="M0 1437 1 1414"/><path d="M0 1436 1 1402"/><path d="M0 1436 1 1421"/><path d="M0 1435 1 1419"/><path d="M0 1434 1 1442"/><path d="M0 1433 1 1377"/><path d="M0 1432 1 1392"/><path d="M0 1430 1 1372"/><path d="M0 1429 1 1417"/><path d="M0 1429 1 1397"/><path d="M0 1428 1 1430"/><path d="M0 1427 1 1433"/><path d="M0 1426 1 1376"/><path d="M0 1426 1 1418"/><path d="M0 1425 1 1387"/><path d="M0 1424 1 1427"/><path d="M0 1423 1 1398"/><path d="M0 1421 1 1385"/><path d="M0 1420 1 1366"/><path d="M0 1419 1 1430"/><path d="M0 1417 1 1421"/><path d="M0 1416 1 1360"/><path d="M0 1415 1 1395"/><path d="M0 1414 1 1422"/><path d="M0 1413 1 1394"/><path d="M0 1411 1 1376"/><path d="M0 1411 1 1369"/><path d="M0 1409 1 1407"/><path d="M0 1408 1 1415"/><path d="M0 1407 1 1391"/><path d="M0 1406 1 1430"/><path d="M0 1406 1 1419"/><path d="M0 1404 1 1370"/><path d="M0 1403 1 1403"/><path d="M0 1402 1 1364"/><path d="M0 1401 1 1369"/><path d="M0 1400 1 1386"/><path d="M0 1398 1 1395"/><path d="M0 1397 1 1345"/><path d="M0 1396 1 1383"/><path d="M0 1394 1 1347"/><path d="M0 1393 1 1385"/><path d="M0 1391 1 1353"/><path d="M0 1390 1 1408"/><path d="M0 1390 1 1416"/><path d="M0 1389 1 1373"/><path d="M0 1385 1 1392"/><path d="M0 1382 1 1370"/><path d="M0 1380 1 1379"/><path d="M0 1376 1 1345"/><path d="M0 1373 1 1386"/><path d="M0 1371 1 1350"/><path d="M0 1368 1 1361"/><path d="M0 1365 1 1352"/><path d="M0 1361 1 1344"/><path d="M0 1356 1 1351"/><path d="M0 1354 1 1345"/><path d="M0 1351 1 1353"/><path d="M0 1347 1 1352"/><path d="M0 1346 1 1350"/>
</g>
<g stroke="#aacd6a" stroke-opacity="0.11" transform="translate(399.3 0) scale(95.3 0.1)">
<path d="M0 1471 1 1268"/><path d="M0 1465 1 1284"/><path d="M0 1460 1 1278"/><path d="M0 1456 1 1335"/><path d="M0 1452 1 1265"/><path d="M0 1447 1 1324"/><path d="M0 1443 1 1197"/><path d="M0 1439 1 1322"/><path d="M0 1435 1 1302"/><path d="M0 1432 1 1272"/><path d="M0 1430 1 1334"/><path d="M0 1429 1 1245"/><path d="M0 1428 1 1227"/><path d="M0 1427 1 1317"/><path d="M0 1425 1 1282"/><path d="M0 1423 1 1323"/><path d="M0 1421 1 1293"/><path d="M0 1419 1 1201"/><path d="M0 1418 1 1313"/><path d="M0 1416 1 1296"/><path d="M0 1414 1 1328"/><path d="M0 1413 1 1313"/><path d="M0 1411 1 1249"/><path d="M0 1409 1 1302"/><path d="M0 1406 1 1207"/><path d="M0 1405 1 1194"/><path d="M0 1404 1 1253"/><path d="M0 1402 1 1300"/><path d="M0 1400 1 1195"/><path d="M0 1398 1 1331"/><path d="M0 1394 1 1325"/><path d="M0 1393 1 1104"/><path d="M0 1392 1 1254"/><path d="M0 1392 1 1220"/><path d="M0 1391 1 1276"/><path d="M0 1390 1 1012"/><path d="M0 1390 1 1270"/><path d="M0 1389 1 1075"/><path d="M0 1389 1 1267"/><path d="M0 1388 1 1214"/><path d="M0 1388 1 1254"/><path d="M0 1387 1 1076"/><path d="M0 1386 1 1235"/><path d="M0 1386 1 1294"/><path d="M0 1385 1 1237"/><path d="M0 1384 1 1268"/><path d="M0 1384 1 1142"/><path d="M0 1383 1 1081"/><path d="M0 1383 1 1295"/><path d="M0 1382 1 1280"/><path d="M0 1382 1 1120"/><path d="M0 1381 1 1302"/><path d="M0 1380 1 1151"/><path d="M0 1380 1 1071"/><path d="M0 1379 1 1187"/><path d="M0 1378 1 1234"/><path d="M0 1377 1 1199"/><path d="M0 1377 1 1263"/><path d="M0 1376 1 1253"/><path d="M0 1376 1 1180"/><path d="M0 1375 1 1150"/><path d="M0 1375 1 1108"/><path d="M0 1374 1 1307"/><path d="M0 1374 1 1204"/><path d="M0 1373 1 1277"/><path d="M0 1373 1 1161"/><path d="M0 1372 1 1173"/><path d="M0 1372 1 985"/><path d="M0 1371 1 1187"/><path d="M0 1371 1 1241"/><path d="M0 1370 1 1182"/><path d="M0 1369 1 1250"/><path d="M0 1368 1 1079"/><path d="M0 1368 1 1250"/><path d="M0 1367 1 1145"/><path d="M0 1367 1 1152"/><path d="M0 1366 1 1313"/><path d="M0 1366 1 1107"/><path d="M0 1365 1 1220"/><path d="M0 1364 1 1086"/><path d="M0 1364 1 1250"/><path d="M0 1363 1 1192"/><path d="M0 1362 1 1320"/><path d="M0 1362 1 1282"/><path d="M0 1361 1 1042"/><path d="M0 1361 1 1252"/><path d="M0 1360 1 1237"/><path d="M0 1359 1 1091"/><path d="M0 1358 1 1075"/><path d="M0 1357 1 1198"/><path d="M0 1356 1 1089"/><path d="M0 1356 1 1227"/><path d="M0 1355 1 1183"/><path d="M0 1355 1 1229"/><path d="M0 1354 1 1075"/><path d="M0 1354 1 1254"/><path d="M0 1353 1 1024"/><path d="M0 1352 1 1098"/><path d="M0 1351 1 1195"/><path d="M0 1351 1 1142"/><path d="M0 1350 1 1094"/><path d="M0 1350 1 871"/><path d="M0 1349 1 910"/><path d="M0 1349 1 1131"/><path d="M0 1348 1 1008"/><path d="M0 1348 1 1030"/><path d="M0 1347 1 1085"/><path d="M0 1347 1 1051"/><path d="M0 1346 1 881"/><path d="M0 1345 1 1077"/><path d="M0 1345 1 1062"/><path d="M0 1344 1 1022"/>
</g>
<g stroke="#338f46" stroke-opacity="0.11" transform="translate(399.3 0) scale(95.3 0.1)">
<path d="M0 1477 1 1385"/><path d="M0 1475 1 1434"/><path d="M0 1468 1 1423"/><path d="M0 1460 1 1426"/><path d="M0 1453 1 1429"/><path d="M0 1447 1 1432"/><path d="M0 1445 1 1394"/><path d="M0 1442 1 1461"/><path d="M0 1441 1 1406"/><path d="M0 1440 1 1461"/><path d="M0 1439 1 1397"/><path d="M0 1438 1 1462"/><path d="M0 1437 1 1410"/><path d="M0 1436 1 1438"/><path d="M0 1436 1 1396"/><path d="M0 1435 1 1408"/><path d="M0 1434 1 1423"/><path d="M0 1433 1 1422"/><path d="M0 1431 1 1397"/><path d="M0 1430 1 1433"/><path d="M0 1429 1 1364"/><path d="M0 1429 1 1413"/><path d="M0 1428 1 1435"/><path d="M0 1427 1 1429"/><path d="M0 1426 1 1424"/><path d="M0 1425 1 1358"/><path d="M0 1425 1 1418"/><path d="M0 1424 1 1395"/><path d="M0 1423 1 1406"/><path d="M0 1421 1 1373"/><path d="M0 1420 1 1394"/><path d="M0 1419 1 1384"/><path d="M0 1417 1 1405"/><path d="M0 1416 1 1408"/><path d="M0 1415 1 1399"/><path d="M0 1414 1 1413"/><path d="M0 1413 1 1422"/><path d="M0 1411 1 1423"/><path d="M0 1410 1 1434"/><path d="M0 1409 1 1384"/><path d="M0 1408 1 1372"/><path d="M0 1407 1 1374"/><path d="M0 1406 1 1386"/><path d="M0 1406 1 1409"/><path d="M0 1404 1 1370"/><path d="M0 1403 1 1360"/><path d="M0 1402 1 1375"/><path d="M0 1401 1 1366"/><path d="M0 1400 1 1346"/><path d="M0 1398 1 1392"/><path d="M0 1397 1 1427"/><path d="M0 1395 1 1393"/><path d="M0 1394 1 1364"/><path d="M0 1393 1 1393"/><path d="M0 1391 1 1359"/><path d="M0 1390 1 1365"/><path d="M0 1390 1 1375"/><path d="M0 1389 1 1352"/><path d="M0 1385 1 1402"/><path d="M0 1382 1 1360"/><path d="M0 1379 1 1362"/><path d="M0 1375 1 1416"/><path d="M0 1373 1 1382"/><path d="M0 1370 1 1389"/><path d="M0 1368 1 1411"/><path d="M0 1364 1 1351"/><path d="M0 1360 1 1384"/><path d="M0 1356 1 1364"/><path d="M0 1354 1 1359"/><path d="M0 1351 1 1346"/><path d="M0 1347 1 1347"/><path d="M0 1346 1 1378"/>
</g>
<g stroke="#aacd6a" stroke-opacity="0.11" transform="translate(399.3 0) scale(95.3 0.1)">
<path d="M0 1471 1 1339"/><path d="M0 1465 1 1330"/><path d="M0 1459 1 1328"/><path d="M0 1456 1 1241"/><path d="M0 1452 1 1312"/><path d="M0 1447 1 1229"/><path d="M0 1443 1 1318"/><path d="M0 1439 1 1316"/><path d="M0 1435 1 1179"/><path d="M0 1432 1 1277"/><path d="M0 1430 1 1298"/><path d="M0 1429 1 1333"/><path d="M0 1428 1 1339"/><path d="M0 1427 1 1321"/><path d="M0 1425 1 1328"/><path d="M0 1423 1 1299"/><path d="M0 1421 1 1261"/><path d="M0 1419 1 1330"/><path d="M0 1417 1 1295"/><path d="M0 1416 1 1022"/><path d="M0 1414 1 1290"/><path d="M0 1413 1 1335"/><path d="M0 1410 1 1274"/><path d="M0 1408 1 1309"/><path d="M0 1406 1 1324"/><path d="M0 1405 1 1276"/><path d="M0 1403 1 1267"/><path d="M0 1401 1 1311"/><path d="M0 1400 1 1231"/><path d="M0 1398 1 1279"/><path d="M0 1394 1 1313"/><path d="M0 1393 1 1192"/><path d="M0 1392 1 1144"/><path d="M0 1392 1 1161"/><path d="M0 1391 1 1158"/><path d="M0 1390 1 1314"/><path d="M0 1390 1 1282"/><path d="M0 1389 1 1342"/><path d="M0 1389 1 1242"/><path d="M0 1388 1 1273"/><path d="M0 1388 1 1240"/><path d="M0 1387 1 1288"/><path d="M0 1386 1 1172"/><path d="M0 1385 1 1109"/><path d="M0 1385 1 1242"/><path d="M0 1384 1 1143"/><path d="M0 1384 1 1256"/><path d="M0 1383 1 1227"/><path d="M0 1383 1 1090"/><path d="M0 1382 1 1282"/><path d="M0 1382 1 1140"/><path d="M0 1381 1 1215"/><path d="M0 1380 1 1261"/><path d="M0 1379 1 1075"/><path d="M0 1379 1 1259"/><path d="M0 1378 1 1189"/><path d="M0 1377 1 1103"/><path d="M0 1377 1 1152"/><path d="M0 1376 1 1251"/><path d="M0 1376 1 1220"/><path d="M0 1375 1 996"/><path d="M0 1375 1 1185"/><path d="M0 1374 1 1263"/><path d="M0 1374 1 1313"/><path d="M0 1373 1 1117"/><path d="M0 1373 1 1121"/><path d="M0 1372 1 1182"/><path d="M0 1372 1 1173"/><path d="M0 1371 1 1228"/><path d="M0 1371 1 1145"/><path d="M0 1370 1 1252"/><path d="M0 1369 1 1100"/><path d="M0 1368 1 1152"/><path d="M0 1368 1 977"/><path d="M0 1367 1 1125"/><path d="M0 1367 1 1159"/><path d="M0 1366 1 1231"/><path d="M0 1365 1 1012"/><path d="M0 1365 1 1188"/><path d="M0 1364 1 1280"/><path d="M0 1364 1 1082"/><path d="M0 1363 1 1053"/><path d="M0 1362 1 1083"/><path d="M0 1362 1 1015"/><path d="M0 1361 1 1298"/><path d="M0 1361 1 1074"/><path d="M0 1360 1 1053"/><path d="M0 1359 1 1110"/><path d="M0 1358 1 1075"/><path d="M0 1357 1 1009"/><path d="M0 1356 1 1162"/><path d="M0 1356 1 1126"/><path d="M0 1355 1 1220"/><path d="M0 1354 1 1081"/><path d="M0 1354 1 1015"/><path d="M0 1353 1 1081"/><path d="M0 1353 1 1100"/><path d="M0 1352 1 1107"/><path d="M0 1351 1 976"/><path d="M0 1351 1 1060"/><path d="M0 1350 1 1132"/><path d="M0 1350 1 975"/><path d="M0 1349 1 1191"/><path d="M0 1348 1 1195"/><path d="M0 1348 1 1265"/><path d="M0 1348 1 1168"/><path d="M0 1347 1 1182"/><path d="M0 1347 1 1261"/><path d="M0 1346 1 1063"/><path d="M0 1345 1 906"/><path d="M0 1345 1 1016"/><path d="M0 1344 1 1107"/>
</g>
<g stroke="#338f46" stroke-opacity="0.11" transform="translate(399.3 0) scale(95.3 0.1)">
<path d="M0 1477 1 1458"/><path d="M0 1474 1 1385"/><path d="M0 1467 1 1455"/><path d="M0 1458 1 1452"/><path d="M0 1453 1 1427"/><path d="M0 1447 1 1456"/><path d="M0 1443 1 1457"/><path d="M0 1442 1 1394"/><path d="M0 1441 1 1438"/><path d="M0 1440 1 1397"/><path d="M0 1439 1 1438"/><path d="M0 1438 1 1418"/><path d="M0 1437 1 1358"/><path d="M0 1436 1 1400"/><path d="M0 1436 1 1437"/><path d="M0 1435 1 1417"/><path d="M0 1434 1 1406"/><path d="M0 1433 1 1417"/><path d="M0 1431 1 1421"/><path d="M0 1430 1 1392"/><path d="M0 1429 1 1416"/><path d="M0 1429 1 1413"/><path d="M0 1428 1 1412"/><path d="M0 1426 1 1395"/><path d="M0 1426 1 1425"/><path d="M0 1425 1 1389"/><path d="M0 1425 1 1425"/><path d="M0 1424 1 1411"/><path d="M0 1422 1 1380"/><path d="M0 1421 1 1381"/><path d="M0 1420 1 1375"/><path d="M0 1418 1 1379"/><path d="M0 1417 1 1398"/><path d="M0 1416 1 1427"/><path d="M0 1415 1 1376"/><path d="M0 1414 1 1387"/><path d="M0 1413 1 1363"/><path d="M0 1411 1 1361"/><path d="M0 1410 1 1394"/><path d="M0 1409 1 1349"/><path d="M0 1408 1 1395"/><path d="M0 1407 1 1367"/><path d="M0 1406 1 1426"/><path d="M0 1405 1 1357"/><path d="M0 1404 1 1386"/><path d="M0 1403 1 1379"/><path d="M0 1402 1 1372"/><path d="M0 1401 1 1369"/><path d="M0 1399 1 1381"/><path d="M0 1398 1 1382"/><path d="M0 1397 1 1359"/><path d="M0 1395 1 1357"/><path d="M0 1394 1 1355"/><path d="M0 1392 1 1399"/><path d="M0 1391 1 1384"/><path d="M0 1390 1 1395"/><path d="M0 1390 1 1369"/><path d="M0 1388 1 1385"/><path d="M0 1384 1 1357"/><path d="M0 1382 1 1353"/><path d="M0 1378 1 1382"/><path d="M0 1375 1 1368"/><path d="M0 1372 1 1381"/><path d="M0 1370 1 1364"/><path d="M0 1367 1 1388"/><path d="M0 1364 1 1366"/><path d="M0 1360 1 1356"/><path d="M0 1356 1 1376"/><path d="M0 1354 1 1356"/><path d="M0 1351 1 1380"/><path d="M0 1347 1 1358"/><path d="M0 1346 1 1387"/>
</g>
<g stroke="#aacd6a" stroke-opacity="0.11" transform="translate(399.3 0) scale(95.3 0.1)">
<path d="M0 1470 1 1320"/><path d="M0 1464 1 1338"/><path d="M0 1459 1 1309"/><path d="M0 1455 1 1325"/><path d="M0 1451 1 1316"/><path d="M0 1447 1 1325"/><path d="M0 1443 1 1249"/><path d="M0 1438 1 1338"/><path d="M0 1434 1 1291"/><path d="M0 1432 1 1265"/><path d="M0 1430 1 1238"/><path d="M0 1429 1 1248"/><path d="M0 1428 1 1310"/><path d="M0 1427 1 1328"/><path d="M0 1425 1 1303"/><path d="M0 1423 1 1239"/><path d="M0 1421 1 1270"/><path d="M0 1419 1 1289"/><path d="M0 1417 1 1290"/><path d="M0 1415 1 1339"/><path d="M0 1414 1 1307"/><path d="M0 1413 1 1294"/><path d="M0 1410 1 1274"/><path d="M0 1408 1 1232"/><path d="M0 1406 1 1239"/><path d="M0 1405 1 1325"/><path d="M0 1403 1 1341"/><path d="M0 1401 1 1169"/><path d="M0 1399 1 1278"/><path d="M0 1397 1 1293"/><path d="M0 1394 1 1304"/><path d="M0 1393 1 1300"/><path d="M0 1392 1 1274"/><path d="M0 1392 1 1256"/><path d="M0 1391 1 1310"/><path d="M0 1390 1 1210"/><path d="M0 1390 1 1329"/><path d="M0 1389 1 1273"/><path d="M0 1389 1 1316"/><path d="M0 1388 1 1286"/><path d="M0 1388 1 1234"/><path d="M0 1387 1 1325"/><path d="M0 1386 1 1298"/><path d="M0 1385 1 1316"/><path d="M0 1385 1 1263"/><path d="M0 1384 1 1247"/><path d="M0 1384 1 1266"/><path d="M0 1383 1 1077"/><path d="M0 1383 1 1244"/><path d="M0 1382 1 1181"/><path d="M0 1382 1 1258"/><path d="M0 1381 1 1213"/><path d="M0 1380 1 1231"/><path d="M0 1379 1 1104"/><path d="M0 1379 1 1259"/><path d="M0 1378 1 1157"/><path d="M0 1377 1 1170"/><path d="M0 1377 1 1110"/><path d="M0 1376 1 1277"/><path d="M0 1375 1 1283"/><path d="M0 1375 1 1265"/><path d="M0 1374 1 1129"/><path d="M0 1374 1 1160"/><path d="M0 1374 1 1333"/><path d="M0 1373 1 1169"/><path d="M0 1372 1 1014"/><path d="M0 1372 1 1151"/><path d="M0 1372 1 1292"/><path d="M0 1371 1 1023"/><path d="M0 1371 1 1228"/><path d="M0 1370 1 972"/><path d="M0 1369 1 1092"/><path d="M0 1368 1 1173"/><path d="M0 1368 1 1102"/><path d="M0 1367 1 1229"/><path d="M0 1367 1 1305"/><path d="M0 1366 1 1218"/><path d="M0 1365 1 1000"/><path d="M0 1365 1 1168"/><path d="M0 1364 1 1082"/><path d="M0 1364 1 1112"/><path d="M0 1363 1 1090"/><path d="M0 1362 1 1203"/><path d="M0 1362 1 1041"/><path d="M0 1361 1 1167"/><path d="M0 1360 1 1098"/><path d="M0 1359 1 1276"/><path d="M0 1359 1 1121"/><path d="M0 1358 1 1110"/><path d="M0 1357 1 1173"/><path d="M0 1356 1 1082"/><path d="M0 1355 1 1194"/><path d="M0 1355 1 1092"/><path d="M0 1354 1 1234"/><path d="M0 1354 1 1009"/><path d="M0 1353 1 1115"/><path d="M0 1353 1 1167"/><path d="M0 1352 1 981"/><path d="M0 1351 1 1192"/><path d="M0 1351 1 1118"/><path d="M0 1350 1 951"/><path d="M0 1349 1 901"/><path d="M0 1349 1 1137"/><path d="M0 1348 1 981"/><path d="M0 1348 1 1133"/><path d="M0 1347 1 1089"/><path d="M0 1347 1 937"/><path d="M0 1347 1 1097"/><path d="M0 1346 1 942"/><path d="M0 1345 1 971"/><path d="M0 1345 1 911"/><path d="M0 1344 1 949"/>
</g>
<g stroke="#338f46" stroke-opacity="0.11" transform="translate(399.3 0) scale(95.3 0.1)">
<path d="M0 1477 1 1428"/><path d="M0 1474 1 1432"/><path d="M0 1467 1 1395"/><path d="M0 1456 1 1410"/><path d="M0 1452 1 1436"/><path d="M0 1447 1 1456"/><path d="M0 1443 1 1389"/><path d="M0 1442 1 1414"/><path d="M0 1441 1 1376"/><path d="M0 1440 1 1394"/><path d="M0 1439 1 1404"/><path d="M0 1438 1 1435"/><path d="M0 1437 1 1438"/><path d="M0 1436 1 1429"/><path d="M0 1435 1 1418"/><path d="M0 1434 1 1386"/><path d="M0 1434 1 1395"/><path d="M0 1432 1 1425"/><path d="M0 1431 1 1420"/><path d="M0 1430 1 1410"/><path d="M0 1429 1 1426"/><path d="M0 1428 1 1412"/><path d="M0 1428 1 1453"/><path d="M0 1426 1 1427"/><path d="M0 1426 1 1391"/><path d="M0 1425 1 1399"/><path d="M0 1425 1 1357"/><path d="M0 1424 1 1363"/><path d="M0 1422 1 1409"/><path d="M0 1421 1 1401"/><path d="M0 1420 1 1404"/><path d="M0 1418 1 1385"/><path d="M0 1417 1 1436"/><path d="M0 1416 1 1374"/><path d="M0 1415 1 1356"/><path d="M0 1414 1 1372"/><path d="M0 1413 1 1369"/><path d="M0 1411 1 1366"/><path d="M0 1410 1 1379"/><path d="M0 1409 1 1372"/><path d="M0 1408 1 1403"/><path d="M0 1407 1 1375"/><path d="M0 1406 1 1422"/><path d="M0 1405 1 1355"/><path d="M0 1404 1 1398"/><path d="M0 1403 1 1369"/><path d="M0 1402 1 1369"/><path d="M0 1401 1 1377"/><path d="M0 1399 1 1392"/><path d="M0 1397 1 1430"/><path d="M0 1397 1 1357"/><path d="M0 1395 1 1375"/><path d="M0 1394 1 1346"/><path d="M0 1392 1 1404"/><path d="M0 1391 1 1350"/><path d="M0 1390 1 1347"/><path d="M0 1389 1 1362"/><path d="M0 1388 1 1411"/><path d="M0 1384 1 1395"/><path d="M0 1382 1 1361"/><path d="M0 1378 1 1368"/><path d="M0 1375 1 1403"/><path d="M0 1372 1 1345"/><path d="M0 1370 1 1360"/><path d="M0 1367 1 1373"/><path d="M0 1364 1 1421"/><path d="M0 1360 1 1353"/><path d="M0 1356 1 1356"/><path d="M0 1354 1 1349"/><path d="M0 1351 1 1349"/><path d="M0 1347 1 1359"/><path d="M0 1345 1 1345"/>
</g>
<g stroke="#aacd6a" stroke-opacity="0.11" transform="translate(399.3 0) scale(95.3 0.1)">
<path d="M0 1470 1 1307"/><path d="M0 1464 1 1280"/><path d="M0 1459 1 1333"/><path d="M0 1455 1 1265"/><path d="M0 1451 1 1339"/><path d="M0 1447 1 1279"/><path d="M0 1443 1 1252"/><path d="M0 1438 1 1276"/><path d="M0 1434 1 1320"/><path d="M0 1431 1 1261"/><path d="M0 1430 1 1320"/><path d="M0 1429 1 1281"/><path d="M0 1428 1 1239"/><path d="M0 1427 1 1343"/><path d="M0 1424 1 1252"/><path d="M0 1423 1 1230"/><path d="M0 1420 1 1322"/><path d="M0 1419 1 1182"/><path d="M0 1417 1 1198"/><path d="M0 1415 1 1329"/><path d="M0 1414 1 1310"/><path d="M0 1412 1 1329"/><path d="M0 1410 1 1307"/><path d="M0 1408 1 1276"/><path d="M0 1406 1 1286"/><path d="M0 1405 1 1251"/><path d="M0 1403 1 1276"/><path d="M0 1401 1 1230"/><path d="M0 1399 1 1288"/><path d="M0 1397 1 1290"/><path d="M0 1394 1 1299"/><path d="M0 1393 1 1328"/><path d="M0 1392 1 1262"/><path d="M0 1391 1 1282"/><path d="M0 1391 1 1240"/><path d="M0 1390 1 1293"/><path d="M0 1390 1 1249"/><path d="M0 1389 1 1135"/><path d="M0 1388 1 1211"/><path d="M0 1388 1 1236"/><path d="M0 1387 1 1188"/><path d="M0 1387 1 1211"/><path d="M0 1386 1 1334"/><path d="M0 1385 1 1282"/><path d="M0 1385 1 1218"/><path d="M0 1384 1 1293"/><path d="M0 1384 1 1248"/><path d="M0 1383 1 1243"/><path d="M0 1383 1 1175"/><path d="M0 1382 1 1309"/><path d="M0 1381 1 1136"/><path d="M0 1381 1 1072"/><path d="M0 1380 1 1237"/><path d="M0 1379 1 1230"/><path d="M0 1379 1 1228"/><path d="M0 1378 1 1243"/><path d="M0 1377 1 1225"/><path d="M0 1377 1 1319"/><path d="M0 1376 1 1162"/><path d="M0 1375 1 1100"/><path d="M0 1375 1 1244"/><path d="M0 1374 1 1214"/><path d="M0 1374 1 1138"/><path d="M0 1374 1 1212"/><path d="M0 1373 1 1209"/><path d="M0 1372 1 1062"/><path d="M0 1372 1 1036"/><path d="M0 1372 1 1138"/><path d="M0 1371 1 1025"/><path d="M0 1370 1 1253"/><path d="M0 1370 1 1143"/><path d="M0 1369 1 1073"/><path d="M0 1368 1 1262"/><path d="M0 1368 1 1257"/><path d="M0 1367 1 1131"/><path d="M0 1367 1 1077"/><path d="M0 1366 1 1183"/><path d="M0 1365 1 1197"/><path d="M0 1365 1 1133"/><path d="M0 1364 1 1135"/><path d="M0 1363 1 879"/><path d="M0 1363 1 1139"/><path d="M0 1362 1 1088"/><path d="M0 1362 1 1106"/><path d="M0 1361 1 1148"/><path d="M0 1360 1 1120"/><path d="M0 1359 1 1012"/><path d="M0 1359 1 1114"/><path d="M0 1358 1 1256"/><path d="M0 1357 1 1113"/><path d="M0 1356 1 1164"/><path d="M0 1355 1 1112"/><path d="M0 1355 1 1123"/><path d="M0 1354 1 1261"/><path d="M0 1354 1 898"/><path d="M0 1353 1 979"/><path d="M0 1353 1 991"/><path d="M0 1352 1 1164"/><path d="M0 1351 1 931"/><path d="M0 1351 1 1095"/><path d="M0 1350 1 907"/><path d="M0 1349 1 1090"/><path d="M0 1349 1 938"/><path d="M0 1348 1 1124"/><path d="M0 1348 1 1080"/><path d="M0 1347 1 1143"/><path d="M0 1347 1 876"/><path d="M0 1346 1 988"/><path d="M0 1346 1 1002"/><path d="M0 1345 1 966"/><path d="M0 1344 1 987"/><path d="M0 1344 1 1018"/>
</g>
<g stroke="#338f46" stroke-opacity="0.11" transform="translate(399.3 0) scale(95.3 0.1)">
<path d="M0 1477 1 1423"/><path d="M0 1474 1 1381"/><path d="M0 1466 1 1462"/><path d="M0 1456 1 1424"/><path d="M0 1452 1 1409"/><path d="M0 1447 1 1407"/><path d="M0 1442 1 1422"/><path d="M0 1442 1 1456"/><path d="M0 1441 1 1431"/><path d="M0 1439 1 1437"/><path d="M0 1439 1 1402"/><path d="M0 1438 1 1428"/><path d="M0 1437 1 1430"/><path d="M0 1436 1 1411"/><path d="M0 1435 1 1449"/><path d="M0 1434 1 1433"/><path d="M0 1433 1 1388"/><path d="M0 1432 1 1416"/><path d="M0 1431 1 1372"/><path d="M0 1430 1 1426"/><path d="M0 1429 1 1411"/><path d="M0 1428 1 1415"/><path d="M0 1427 1 1415"/><path d="M0 1426 1 1413"/><path d="M0 1426 1 1406"/><path d="M0 1425 1 1372"/><path d="M0 1424 1 1377"/><path d="M0 1424 1 1412"/><path d="M0 1422 1 1395"/><path d="M0 1421 1 1404"/><path d="M0 1419 1 1392"/><path d="M0 1418 1 1373"/><path d="M0 1417 1 1363"/><path d="M0 1416 1 1402"/><path d="M0 1415 1 1388"/><path d="M0 1414 1 1380"/><path d="M0 1413 1 1362"/><path d="M0 1411 1 1435"/><path d="M0 1410 1 1373"/><path d="M0 1409 1 1392"/><path d="M0 1408 1 1380"/><path d="M0 1407 1 1360"/><path d="M0 1406 1 1370"/><path d="M0 1405 1 1396"/><path d="M0 1404 1 1354"/><path d="M0 1403 1 1416"/><path d="M0 1402 1 1391"/><path d="M0 1401 1 1386"/><path d="M0 1399 1 1359"/><path d="M0 1397 1 1360"/><path d="M0 1396 1 1446"/><path d="M0 1395 1 1359"/><path d="M0 1394 1 1423"/><path d="M0 1392 1 1374"/><path d="M0 1391 1 1385"/><path d="M0 1390 1 1349"/><path d="M0 1389 1 1358"/><path d="M0 1388 1 1360"/><path d="M0 1384 1 1349"/><path d="M0 1382 1 1382"/><path d="M0 1378 1 1365"/><path d="M0 1375 1 1364"/><path d="M0 1372 1 1351"/><path d="M0 1370 1 1366"/><path d="M0 1367 1 1353"/><path d="M0 1362 1 1371"/><path d="M0 1359 1 1376"/><path d="M0 1356 1 1363"/><path d="M0 1354 1 1345"/><path d="M0 1351 1 1353"/><path d="M0 1347 1 1345"/><path d="M0 1345 1 1393"/>
</g>
<g stroke="#aacd6a" stroke-opacity="0.11" transform="translate(399.3 0) scale(95.3 0.1)">
<path d="M0 1467 1 1316"/><path d="M0 1463 1 1285"/><path d="M0 1458 1 1336"/><path d="M0 1454 1 1333"/><path d="M0 1448 1 1325"/><path d="M0 1446 1 1234"/><path d="M0 1442 1 1307"/><path d="M0 1437 1 1338"/><path d="M0 1433 1 1176"/><path d="M0 1431 1 1133"/><path d="M0 1430 1 1325"/><path d="M0 1429 1 1332"/><path d="M0 1427 1 1341"/><path d="M0 1426 1 1201"/><path d="M0 1424 1 1281"/><path d="M0 1422 1 1342"/><path d="M0 1420 1 1316"/><path d="M0 1419 1 1328"/><path d="M0 1417 1 1302"/><path d="M0 1415 1 1327"/><path d="M0 1414 1 1229"/><path d="M0 1412 1 1239"/><path d="M0 1410 1 1226"/><path d="M0 1408 1 1337"/><path d="M0 1406 1 1296"/><path d="M0 1405 1 1248"/><path d="M0 1403 1 1242"/><path d="M0 1401 1 1336"/><path d="M0 1399 1 1301"/><path d="M0 1396 1 1333"/><path d="M0 1394 1 1299"/><path d="M0 1393 1 1169"/><path d="M0 1392 1 1270"/><path d="M0 1391 1 1154"/><path d="M0 1391 1 1262"/><path d="M0 1390 1 1238"/><path d="M0 1390 1 1225"/><path d="M0 1389 1 1233"/><path d="M0 1388 1 1243"/><path d="M0 1388 1 1111"/><path d="M0 1387 1 1332"/><path d="M0 1386 1 1246"/><path d="M0 1386 1 1239"/><path d="M0 1385 1 1272"/><path d="M0 1385 1 1291"/><path d="M0 1384 1 1086"/><path d="M0 1384 1 1256"/><path d="M0 1383 1 1115"/><path d="M0 1383 1 1132"/><path d="M0 1382 1 1318"/><path d="M0 1381 1 1220"/><path d="M0 1381 1 1086"/><path d="M0 1380 1 1264"/><path d="M0 1379 1 1286"/><path d="M0 1378 1 1157"/><path d="M0 1378 1 1076"/><path d="M0 1377 1 1240"/><path d="M0 1377 1 1175"/><path d="M0 1376 1 1106"/><path d="M0 1375 1 1059"/><path d="M0 1375 1 1302"/><path d="M0 1374 1 1294"/><path d="M0 1374 1 1171"/><path d="M0 1374 1 1250"/><path d="M0 1373 1 1153"/><path d="M0 1372 1 976"/><path d="M0 1372 1 1321"/><path d="M0 1372 1 1000"/><path d="M0 1371 1 1170"/><path d="M0 1370 1 1212"/><path d="M0 1370 1 1073"/><path d="M0 1369 1 1251"/><path d="M0 1368 1 1195"/><path d="M0 1368 1 1253"/><path d="M0 1367 1 1101"/><path d="M0 1367 1 1116"/><path d="M0 1366 1 1209"/><path d="M0 1365 1 1234"/><path d="M0 1365 1 1332"/><path d="M0 1364 1 1132"/><path d="M0 1363 1 1139"/><path d="M0 1363 1 1124"/><path d="M0 1362 1 1227"/><path d="M0 1362 1 1277"/><path d="M0 1361 1 1306"/><path d="M0 1360 1 1239"/><path d="M0 1359 1 1142"/><path d="M0 1358 1 1221"/><path d="M0 1358 1 1243"/><path d="M0 1357 1 1191"/><path d="M0 1356 1 998"/><path d="M0 1355 1 1022"/><path d="M0 1355 1 1244"/><path d="M0 1354 1 962"/><path d="M0 1354 1 1290"/><path d="M0 1353 1 1278"/><path d="M0 1352 1 1099"/><path d="M0 1352 1 1062"/><path d="M0 1351 1 1006"/><path d="M0 1351 1 1142"/><path d="M0 1350 1 1094"/><path d="M0 1349 1 1209"/><path d="M0 1349 1 874"/><path d="M0 1348 1 1136"/><path d="M0 1348 1 1136"/><path d="M0 1347 1 973"/><path d="M0 1347 1 987"/><path d="M0 1346 1 1018"/><path d="M0 1346 1 865"/><path d="M0 1345 1 1127"/><path d="M0 1344 1 1186"/><path d="M0 1344 1 905"/>
</g>
<g stroke="#338f46" stroke-opacity="0.11" transform="translate(399.3 0) scale(95.3 0.1)">
<path d="M0 1477 1 1435"/><path d="M0 1473 1 1378"/><path d="M0 1466 1 1432"/><path d="M0 1455 1 1456"/><path d="M0 1452 1 1402"/><path d="M0 1447 1 1432"/><path d="M0 1442 1 1439"/><path d="M0 1442 1 1400"/><path d="M0 1441 1 1409"/><path d="M0 1439 1 1419"/><path d="M0 1438 1 1406"/><path d="M0 1437 1 1418"/><path d="M0 1437 1 1396"/><path d="M0 1436 1 1388"/><path d="M0 1435 1 1452"/><path d="M0 1434 1 1408"/><path d="M0 1433 1 1410"/><path d="M0 1432 1 1404"/><path d="M0 1431 1 1411"/><path d="M0 1430 1 1432"/><path d="M0 1429 1 1370"/><path d="M0 1428 1 1392"/><path d="M0 1427 1 1423"/><path d="M0 1426 1 1412"/><path d="M0 1426 1 1408"/><path d="M0 1425 1 1400"/><path d="M0 1424 1 1368"/><path d="M0 1424 1 1386"/><path d="M0 1422 1 1363"/><path d="M0 1421 1 1410"/><path d="M0 1419 1 1419"/><path d="M0 1418 1 1418"/><path d="M0 1417 1 1374"/><path d="M0 1416 1 1372"/><path d="M0 1415 1 1401"/><path d="M0 1414 1 1400"/><path d="M0 1413 1 1405"/><path d="M0 1411 1 1382"/><path d="M0 1410 1 1381"/><path d="M0 1409 1 1418"/><path d="M0 1408 1 1400"/><path d="M0 1407 1 1380"/><path d="M0 1406 1 1428"/><path d="M0 1404 1 1365"/><path d="M0 1404 1 1403"/><path d="M0 1403 1 1391"/><path d="M0 1402 1 1349"/><path d="M0 1400 1 1361"/><path d="M0 1399 1 1404"/><path d="M0 1397 1 1383"/><path d="M0 1396 1 1363"/><path d="M0 1395 1 1344"/><path d="M0 1393 1 1381"/><path d="M0 1392 1 1386"/><path d="M0 1391 1 1395"/><path d="M0 1390 1 1363"/><path d="M0 1389 1 1378"/><path d="M0 1386 1 1368"/><path d="M0 1384 1 1347"/><path d="M0 1381 1 1375"/><path d="M0 1377 1 1350"/><path d="M0 1375 1 1361"/><path d="M0 1371 1 1355"/><path d="M0 1370 1 1364"/><path d="M0 1367 1 1347"/><path d="M0 1362 1 1430"/><path d="M0 1358 1 1373"/><path d="M0 1355 1 1359"/><path d="M0 1353 1 1347"/><path d="M0 1349 1 1379"/><path d="M0 1347 1 1346"/><path d="M0 1345 1 1394"/>
</g>
<g stroke="#aacd6a" stroke-opacity="0.11" transform="translate(399.3 0) scale(95.3 0.1)">
<path d="M0 1467 1 1329"/><path d="M0 1462 1 1268"/><path d="M0 1458 1 1310"/><path d="M0 1454 1 1152"/><path d="M0 1448 1 1312"/><path d="M0 1446 1 1330"/><path d="M0 1442 1 1144"/><path d="M0 1437 1 1242"/><path d="M0 1433 1 1317"/><path d="M0 1431 1 1333"/><path d="M0 1430 1 1255"/><path d="M0 1429 1 1313"/><path d="M0 1427 1 1285"/><path d="M0 1426 1 1133"/><path d="M0 1424 1 1296"/><path d="M0 1422 1 1336"/><path d="M0 1420 1 1278"/><path d="M0 1419 1 1275"/><path d="M0 1417 1 1229"/><path d="M0 1415 1 1307"/><path d="M0 1414 1 1269"/><path d="M0 1412 1 1257"/><path d="M0 1410 1 1342"/><path d="M0 1407 1 1218"/><path d="M0 1405 1 1281"/><path d="M0 1404 1 1332"/><path d="M0 1403 1 1230"/><path d="M0 1401 1 1322"/><path d="M0 1399 1 1300"/><path d="M0 1396 1 1278"/><path d="M0 1393 1 1300"/><path d="M0 1393 1 1272"/><path d="M0 1392 1 1271"/><path d="M0 1391 1 1228"/><path d="M0 1391 1 1313"/><path d="M0 1390 1 1282"/><path d="M0 1390 1 1254"/><path d="M0 1389 1 1294"/><path d="M0 1388 1 1305"/><path d="M0 1388 1 1204"/><path d="M0 1387 1 1120"/><path d="M0 1386 1 1251"/><path d="M0 1386 1 1047"/><path d="M0 1385 1 1219"/><path d="M0 1384 1 1135"/><path d="M0 1384 1 1251"/><path d="M0 1384 1 1256"/><path d="M0 1383 1 1219"/><path d="M0 1383 1 1166"/><path d="M0 1382 1 1211"/><path d="M0 1381 1 1144"/><path d="M0 1381 1 1189"/><path d="M0 1380 1 1269"/><path d="M0 1379 1 1292"/><path d="M0 1378 1 1245"/><path d="M0 1378 1 1321"/><path d="M0 1377 1 1252"/><path d="M0 1377 1 1253"/><path d="M0 1376 1 1279"/><path d="M0 1375 1 1320"/><path d="M0 1375 1 1192"/><path d="M0 1374 1 1151"/><path d="M0 1374 1 1300"/><path d="M0 1374 1 1162"/><path d="M0 1373 1 1258"/><path d="M0 1372 1 1260"/><path d="M0 1372 1 1294"/><path d="M0 1372 1 978"/><path d="M0 1371 1 1232"/><path d="M0 1370 1 1327"/><path d="M0 1369 1 1199"/><path d="M0 1369 1 1229"/><path d="M0 1368 1 1101"/><path d="M0 1368 1 1146"/><path d="M0 1367 1 1124"/><path d="M0 1367 1 1146"/><path d="M0 1366 1 1233"/><path d="M0 1365 1 1215"/><path d="M0 1365 1 1132"/><path d="M0 1364 1 1313"/><path d="M0 1363 1 993"/><path d="M0 1363 1 1132"/><path d="M0 1362 1 1103"/><path d="M0 1362 1 1073"/><path d="M0 1361 1 1229"/><path d="M0 1360 1 948"/><path d="M0 1359 1 1094"/><path d="M0 1358 1 1095"/><path d="M0 1358 1 1077"/><path d="M0 1357 1 1233"/><path d="M0 1356 1 1035"/><path d="M0 1355 1 1132"/><path d="M0 1355 1 974"/><path d="M0 1354 1 1160"/><path d="M0 1354 1 1021"/><path d="M0 1353 1 1034"/><path d="M0 1352 1 932"/><path d="M0 1352 1 1239"/><path d="M0 1351 1 1083"/><path d="M0 1351 1 1136"/><path d="M0 1350 1 981"/><path d="M0 1349 1 1161"/><path d="M0 1349 1 1234"/><path d="M0 1348 1 1078"/><path d="M0 1348 1 1143"/><path d="M0 1347 1 885"/><path d="M0 1347 1 1076"/><path d="M0 1346 1 1079"/><path d="M0 1346 1 991"/><path d="M0 1345 1 1063"/><path d="M0 1344 1 1033"/><path d="M0 1344 1 1003"/>
</g>
<g stroke="#338f46" stroke-opacity="0.11" transform="translate(399.3 0) scale(95.3 0.1)">
<path d="M0 1477 1 1416"/><path d="M0 1473 1 1423"/><path d="M0 1465 1 1427"/><path d="M0 1455 1 1445"/><path d="M0 1451 1 1407"/><path d="M0 1446 1 1408"/><path d="M0 1442 1 1434"/><path d="M0 1442 1 1396"/><path d="M0 1441 1 1437"/><path d="M0 1439 1 1423"/><path d="M0 1438 1 1385"/><path d="M0 1437 1 1381"/><path d="M0 1436 1 1426"/><path d="M0 1436 1 1434"/><path d="M0 1435 1 1401"/><path d="M0 1434 1 1423"/><path d="M0 1433 1 1385"/><path d="M0 1432 1 1406"/><path d="M0 1431 1 1429"/><path d="M0 1430 1 1433"/><path d="M0 1429 1 1427"/><path d="M0 1428 1 1448"/><path d="M0 1427 1 1382"/><path d="M0 1426 1 1396"/><path d="M0 1426 1 1365"/><path d="M0 1425 1 1461"/><path d="M0 1424 1 1363"/><path d="M0 1423 1 1403"/><path d="M0 1422 1 1391"/><path d="M0 1421 1 1400"/><path d="M0 1419 1 1446"/><path d="M0 1418 1 1382"/><path d="M0 1417 1 1378"/><path d="M0 1416 1 1379"/><path d="M0 1415 1 1393"/><path d="M0 1414 1 1368"/><path d="M0 1413 1 1418"/><path d="M0 1411 1 1392"/><path d="M0 1410 1 1348"/><path d="M0 1409 1 1452"/><path d="M0 1408 1 1388"/><path d="M0 1407 1 1345"/><path d="M0 1406 1 1383"/><path d="M0 1404 1 1368"/><path d="M0 1404 1 1405"/><path d="M0 1403 1 1352"/><path d="M0 1402 1 1345"/><path d="M0 1400 1 1413"/><path d="M0 1399 1 1426"/><path d="M0 1397 1 1384"/><path d="M0 1396 1 1378"/><path d="M0 1395 1 1407"/><path d="M0 1393 1 1391"/><path d="M0 1392 1 1365"/><path d="M0 1391 1 1356"/><path d="M0 1390 1 1386"/><path d="M0 1389 1 1359"/><path d="M0 1386 1 1377"/><path d="M0 1384 1 1380"/><path d="M0 1381 1 1404"/><path d="M0 1377 1 1350"/><path d="M0 1375 1 1356"/><path d="M0 1371 1 1412"/><path d="M0 1369 1 1357"/><path d="M0 1366 1 1371"/><path d="M0 1362 1 1365"/><path d="M0 1357 1 1350"/><path d="M0 1355 1 1385"/><path d="M0 1353 1 1373"/><path d="M0 1349 1 1343"/><path d="M0 1347 1 1344"/><path d="M0 1345 1 1356"/>
</g>
<g stroke="#aacd6a" stroke-opacity="0.11" transform="translate(399.3 0) scale(95.3 0.1)">
<path d="M0 1466 1 1314"/><path d="M0 1462 1 1314"/><path d="M0 1457 1 1298"/><path d="M0 1454 1 1230"/><path d="M0 1447 1 1341"/><path d="M0 1446 1 1244"/><path d="M0 1441 1 1312"/><path d="M0 1436 1 1269"/><path d="M0 1433 1 1316"/><path d="M0 1431 1 1342"/><path d="M0 1430 1 1327"/><path d="M0 1429 1 1251"/><path d="M0 1427 1 1332"/><path d="M0 1425 1 1273"/><path d="M0 1424 1 1293"/><path d="M0 1422 1 1232"/><path d="M0 1420 1 1284"/><path d="M0 1418 1 1138"/><path d="M0 1417 1 1243"/><path d="M0 1415 1 1279"/><path d="M0 1413 1 1204"/><path d="M0 1412 1 1255"/><path d="M0 1410 1 1332"/><path d="M0 1407 1 1326"/><path d="M0 1405 1 1304"/><path d="M0 1404 1 1262"/><path d="M0 1402 1 1174"/><path d="M0 1400 1 1179"/><path d="M0 1398 1 1255"/><path d="M0 1396 1 1304"/><path d="M0 1393 1 1302"/><path d="M0 1393 1 1245"/><path d="M0 1392 1 1256"/><path d="M0 1391 1 1207"/><path d="M0 1391 1 1285"/><path d="M0 1390 1 1303"/><path d="M0 1389 1 1229"/><path d="M0 1389 1 1127"/><path d="M0 1388 1 1277"/><path d="M0 1388 1 1304"/><path d="M0 1387 1 1228"/><path d="M0 1386 1 1322"/><path d="M0 1386 1 1216"/><path d="M0 1385 1 1239"/><path d="M0 1384 1 1157"/><path d="M0 1384 1 1192"/><path d="M0 1384 1 1194"/><path d="M0 1383 1 1082"/><path d="M0 1383 1 1280"/><path d="M0 1382 1 1069"/><path d="M0 1381 1 1057"/><path d="M0 1381 1 1234"/><path d="M0 1380 1 1216"/><path d="M0 1379 1 1319"/><path d="M0 1378 1 1065"/><path d="M0 1378 1 1183"/><path d="M0 1377 1 1247"/><path d="M0 1377 1 1196"/><path d="M0 1376 1 1181"/><path d="M0 1375 1 1147"/><path d="M0 1375 1 1311"/><path d="M0 1374 1 1205"/><path d="M0 1374 1 1096"/><path d="M0 1374 1 1176"/><path d="M0 1373 1 1256"/><path d="M0 1372 1 1025"/><path d="M0 1372 1 1284"/><path d="M0 1371 1 1182"/><path d="M0 1371 1 1235"/><path d="M0 1370 1 1138"/><path d="M0 1369 1 1115"/><path d="M0 1369 1 1168"/><path d="M0 1368 1 1078"/><path d="M0 1367 1 1282"/><path d="M0 1367 1 1229"/><path d="M0 1366 1 1103"/><path d="M0 1366 1 1135"/><path d="M0 1365 1 1184"/><path d="M0 1364 1 1105"/><path d="M0 1364 1 1278"/><path d="M0 1363 1 1183"/><path d="M0 1362 1 1197"/><path d="M0 1362 1 1157"/><path d="M0 1361 1 1135"/><path d="M0 1361 1 1110"/><path d="M0 1360 1 961"/><path d="M0 1359 1 1067"/><path d="M0 1358 1 1249"/><path d="M0 1358 1 899"/><path d="M0 1357 1 1186"/><path d="M0 1356 1 1145"/><path d="M0 1355 1 1067"/><path d="M0 1355 1 1021"/><path d="M0 1354 1 1172"/><path d="M0 1354 1 1084"/><path d="M0 1353 1 1084"/><path d="M0 1352 1 978"/><path d="M0 1352 1 1076"/><path d="M0 1351 1 1022"/><path d="M0 1351 1 989"/><path d="M0 1350 1 1226"/><path d="M0 1349 1 1159"/><path d="M0 1349 1 1286"/><path d="M0 1348 1 926"/><path d="M0 1348 1 1123"/><path d="M0 1347 1 1054"/><path d="M0 1347 1 1009"/><path d="M0 1346 1 1176"/><path d="M0 1346 1 870"/><path d="M0 1345 1 965"/><path d="M0 1344 1 1048"/><path d="M0 1343 1 938"/>
</g>
<g stroke="#338f46" stroke-opacity="0.11" transform="translate(399.3 0) scale(95.3 0.1)">
<path d="M0 1476 1 1467"/><path d="M0 1471 1 1435"/><path d="M0 1464 1 1418"/><path d="M0 1454 1 1382"/><path d="M0 1450 1 1434"/><path d="M0 1446 1 1422"/><path d="M0 1442 1 1440"/><path d="M0 1441 1 1412"/><path d="M0 1441 1 1459"/><path d="M0 1439 1 1437"/><path d="M0 1438 1 1421"/><path d="M0 1437 1 1410"/><path d="M0 1436 1 1413"/><path d="M0 1436 1 1434"/><path d="M0 1435 1 1386"/><path d="M0 1434 1 1418"/><path d="M0 1433 1 1382"/><path d="M0 1432 1 1423"/><path d="M0 1431 1 1391"/><path d="M0 1430 1 1437"/><path d="M0 1429 1 1410"/><path d="M0 1428 1 1436"/><path d="M0 1427 1 1449"/><path d="M0 1426 1 1438"/><path d="M0 1426 1 1425"/><path d="M0 1425 1 1400"/><path d="M0 1424 1 1432"/><path d="M0 1423 1 1421"/><path d="M0 1422 1 1348"/><path d="M0 1421 1 1433"/><path d="M0 1419 1 1404"/><path d="M0 1418 1 1400"/><path d="M0 1416 1 1360"/><path d="M0 1416 1 1412"/><path d="M0 1415 1 1396"/><path d="M0 1414 1 1385"/><path d="M0 1412 1 1361"/><path d="M0 1411 1 1376"/><path d="M0 1410 1 1363"/><path d="M0 1408 1 1392"/><path d="M0 1407 1 1406"/><path d="M0 1407 1 1399"/><path d="M0 1406 1 1365"/><path d="M0 1404 1 1394"/><path d="M0 1404 1 1418"/><path d="M0 1403 1 1360"/><path d="M0 1402 1 1376"/><path d="M0 1400 1 1358"/><path d="M0 1399 1 1377"/><path d="M0 1397 1 1382"/><path d="M0 1396 1 1378"/><path d="M0 1395 1 1396"/><path d="M0 1393 1 1364"/><path d="M0 1392 1 1383"/><path d="M0 1391 1 1402"/><path d="M0 1390 1 1372"/><path d="M0 1389 1 1399"/><path d="M0 1386 1 1384"/><path d="M0 1383 1 1345"/><path d="M0 1381 1 1392"/><path d="M0 1377 1 1391"/><path d="M0 1374 1 1378"/><path d="M0 1371 1 1366"/><path d="M0 1369 1 1348"/><path d="M0 1366 1 1377"/><path d="M0 1361 1 1344"/><path d="M0 1357 1 1358"/><path d="M0 1354 1 1361"/><path d="M0 1353 1 1356"/><path d="M0 1348 1 1360"/><path d="M0 1347 1 1353"/><path d="M0 1344 1 1345"/>
</g>
<g stroke="#aacd6a" stroke-opacity="0.11" transform="translate(399.3 0) scale(95.3 0.1)">
<path d="M0 1466 1 1286"/><path d="M0 1461 1 1330"/><path d="M0 1457 1 1290"/><path d="M0 1454 1 1340"/><path d="M0 1447 1 1333"/><path d="M0 1445 1 1313"/><path d="M0 1441 1 1328"/><path d="M0 1435 1 1319"/><path d="M0 1433 1 1140"/><path d="M0 1431 1 1313"/><path d="M0 1430 1 1302"/><path d="M0 1429 1 1312"/><path d="M0 1427 1 1335"/><path d="M0 1425 1 1309"/><path d="M0 1424 1 1323"/><path d="M0 1422 1 1272"/><path d="M0 1420 1 1197"/><path d="M0 1418 1 1333"/><path d="M0 1416 1 1294"/><path d="M0 1415 1 1298"/><path d="M0 1413 1 1328"/><path d="M0 1411 1 1051"/><path d="M0 1409 1 1245"/><path d="M0 1407 1 1226"/><path d="M0 1405 1 1278"/><path d="M0 1404 1 1297"/><path d="M0 1402 1 1254"/><path d="M0 1400 1 1266"/><path d="M0 1398 1 1056"/><path d="M0 1396 1 1270"/><path d="M0 1393 1 1306"/><path d="M0 1393 1 1166"/><path d="M0 1392 1 1297"/><path d="M0 1391 1 1273"/><path d="M0 1391 1 1315"/><path d="M0 1390 1 1133"/><path d="M0 1389 1 1099"/><path d="M0 1389 1 1174"/><path d="M0 1388 1 1125"/><path d="M0 1388 1 1249"/><path d="M0 1387 1 1249"/><path d="M0 1386 1 1213"/><path d="M0 1386 1 1024"/><path d="M0 1385 1 1320"/><path d="M0 1384 1 1240"/><path d="M0 1384 1 1094"/><path d="M0 1383 1 1230"/><path d="M0 1383 1 1285"/><path d="M0 1383 1 1308"/><path d="M0 1382 1 1293"/><path d="M0 1381 1 1331"/><path d="M0 1381 1 1152"/><path d="M0 1380 1 1232"/><path d="M0 1379 1 1245"/><path d="M0 1378 1 1280"/><path d="M0 1378 1 1209"/><path d="M0 1377 1 1148"/><path d="M0 1377 1 1296"/><path d="M0 1376 1 1246"/><path d="M0 1375 1 1227"/><path d="M0 1375 1 1233"/><path d="M0 1374 1 1263"/><path d="M0 1374 1 1209"/><path d="M0 1373 1 1258"/><path d="M0 1373 1 1198"/><path d="M0 1372 1 1229"/><path d="M0 1372 1 1150"/><path d="M0 1371 1 1160"/><path d="M0 1371 1 1272"/><path d="M0 1370 1 1193"/><path d="M0 1369 1 1252"/><path d="M0 1369 1 1106"/><path d="M0 1368 1 1295"/><path d="M0 1367 1 1181"/><path d="M0 1367 1 1084"/><path d="M0 1366 1 1197"/><path d="M0 1366 1 1084"/><path d="M0 1365 1 1087"/><path d="M0 1364 1 1226"/><path d="M0 1364 1 1174"/><path d="M0 1363 1 1250"/><path d="M0 1362 1 1128"/><path d="M0 1362 1 1164"/><path d="M0 1361 1 974"/><path d="M0 1361 1 1101"/><path d="M0 1360 1 1101"/><path d="M0 1359 1 891"/><path d="M0 1358 1 1009"/><path d="M0 1358 1 1098"/><path d="M0 1357 1 1204"/><path d="M0 1356 1 1116"/><path d="M0 1355 1 936"/><path d="M0 1355 1 1196"/><path d="M0 1354 1 1126"/><path d="M0 1354 1 1094"/><path d="M0 1353 1 1033"/><path d="M0 1352 1 1198"/><path d="M0 1352 1 1215"/><path d="M0 1351 1 1078"/><path d="M0 1350 1 1091"/><path d="M0 1350 1 1199"/><path d="M0 1349 1 984"/><path d="M0 1349 1 1141"/><path d="M0 1348 1 1071"/><path d="M0 1348 1 1160"/><path d="M0 1347 1 1021"/><path d="M0 1347 1 896"/><path d="M0 1346 1 1032"/><path d="M0 1345 1 1148"/><path d="M0 1345 1 1104"/><path d="M0 1344 1 1007"/><path d="M0 1343 1 1119"/>
</g>
<g stroke="#338f46" stroke-opacity="0.11" transform="translate(399.3 0) scale(95.3 0.1)">
<path d="M0 1476 1 1416"/><path d="M0 1470 1 1413"/><path d="M0 1464 1 1438"/><path d="M0 1454 1 1430"/><path d="M0 1450 1 1438"/><path d="M0 1446 1 1403"/><path d="M0 1442 1 1415"/><path d="M0 1441 1 1411"/><path d="M0 1441 1 1432"/><path d="M0 1439 1 1419"/><path d="M0 1438 1 1436"/><path d="M0 1437 1 1433"/><path d="M0 1436 1 1459"/><path d="M0 1436 1 1390"/><path d="M0 1435 1 1412"/><path d="M0 1434 1 1423"/><path d="M0 1433 1 1417"/><path d="M0 1432 1 1402"/><path d="M0 1431 1 1372"/><path d="M0 1430 1 1420"/><path d="M0 1429 1 1385"/><path d="M0 1428 1 1420"/><path d="M0 1427 1 1449"/><path d="M0 1426 1 1427"/><path d="M0 1426 1 1390"/><path d="M0 1425 1 1409"/><path d="M0 1424 1 1361"/><path d="M0 1423 1 1409"/><path d="M0 1422 1 1398"/><path d="M0 1421 1 1428"/><path d="M0 1419 1 1411"/><path d="M0 1418 1 1409"/><path d="M0 1416 1 1380"/><path d="M0 1416 1 1397"/><path d="M0 1414 1 1405"/><path d="M0 1414 1 1357"/><path d="M0 1412 1 1393"/><path d="M0 1411 1 1419"/><path d="M0 1410 1 1395"/><path d="M0 1408 1 1406"/><path d="M0 1407 1 1376"/><path d="M0 1406 1 1432"/><path d="M0 1406 1 1360"/><path d="M0 1404 1 1362"/><path d="M0 1403 1 1388"/><path d="M0 1403 1 1372"/><path d="M0 1401 1 1380"/><path d="M0 1400 1 1350"/><path d="M0 1399 1 1390"/><path d="M0 1397 1 1360"/><path d="M0 1396 1 1376"/><path d="M0 1394 1 1393"/><path d="M0 1393 1 1398"/><path d="M0 1392 1 1363"/><path d="M0 1391 1 1387"/><path d="M0 1390 1 1377"/><path d="M0 1389 1 1352"/><path d="M0 1386 1 1360"/><path d="M0 1383 1 1374"/><path d="M0 1381 1 1363"/><path d="M0 1376 1 1375"/><path d="M0 1373 1 1355"/><path d="M0 1371 1 1355"/><path d="M0 1369 1 1346"/><path d="M0 1365 1 1361"/><path d="M0 1361 1 1346"/><path d="M0 1357 1 1372"/><path d="M0 1354 1 1367"/><path d="M0 1351 1 1371"/><path d="M0 1348 1 1346"/><path d="M0 1347 1 1397"/><path d="M0 1344 1 1347"/>
</g>
<g fill="#6a6a6a">
<rect x="494.2" y="30.2" width="0.7" height="0.7"/>
<rect x="494.2" y="59.1" width="0.7" height="0.7"/>
<rect x="494.2" y="76.1" width="0.7" height="0.7"/>
<rect x="494.2" y="78.1" width="0.7" height="0.7"/>
<rect x="494.2" y="80.1" width="0.7" height="0.7"/>
<rect x="494.2" y="82.1" width="0.7" height="0.7"/>
</g>
<g fill="#8a8a8a">
<rect x="398.9" y="149" width="0.7" height="0.7"/>
</g>
<line x1="381" y1="16.2" x2="381" y2="159.4" stroke="#231f20" stroke-width="1.1"/>
<line x1="380.5" y1="158.9" x2="513.6" y2="158.9" stroke="#231f20" stroke-width="1.0"/>
<line x1="378" y1="152.3" x2="381" y2="152.3" stroke="#231f20" stroke-width="0.9"/>
<text x="374.9" y="154.6" font-size="7.6" text-anchor="end" letter-spacing="0.35">0</text>
<line x1="378" y1="132.3" x2="381" y2="132.3" stroke="#231f20" stroke-width="0.9"/>
<text x="374.9" y="134.6" font-size="7.6" text-anchor="end" letter-spacing="0.35">2</text>
<line x1="378" y1="112.4" x2="381" y2="112.4" stroke="#231f20" stroke-width="0.9"/>
<text x="374.9" y="114.7" font-size="7.6" text-anchor="end" letter-spacing="0.35">4</text>
<line x1="378" y1="92.4" x2="381" y2="92.4" stroke="#231f20" stroke-width="0.9"/>
<text x="374.9" y="94.7" font-size="7.6" text-anchor="end" letter-spacing="0.35">6</text>
<line x1="378" y1="72.5" x2="381" y2="72.5" stroke="#231f20" stroke-width="0.9"/>
<text x="374.9" y="74.8" font-size="7.6" text-anchor="end" letter-spacing="0.35">8</text>
<line x1="378" y1="52.5" x2="381" y2="52.5" stroke="#231f20" stroke-width="0.9"/>
<text x="374.9" y="54.8" font-size="7.6" text-anchor="end" letter-spacing="0.35">10</text>
<line x1="378" y1="32.5" x2="381" y2="32.5" stroke="#231f20" stroke-width="0.9"/>
<text x="374.9" y="34.8" font-size="7.6" text-anchor="end" letter-spacing="0.35">12</text>
<text x="352.8" y="16.9" font-size="10.8" font-weight="bold" fill="#000">C</text>
<text x="360.6" y="122.3" font-size="8.7" textLength="69.5" lengthAdjust="spacingAndGlyphs" transform="rotate(-90 360.6 122.3)" stroke-width="0.5" word-spacing="1.6">Neutrophil count (10<tspan font-size="6.3" dy="-3.2">9</tspan><tspan dy="3.2">/L)</tspan></text>
<text x="400" y="169.9" font-size="8" text-anchor="middle" textLength="28.4" lengthAdjust="spacingAndGlyphs">Baseline</text>
<text x="494.2" y="169.9" font-size="8" text-anchor="middle" textLength="32.4" lengthAdjust="spacingAndGlyphs">Follow-up</text>
<rect x="46.4" y="205" width="17.6" height="28.1" fill="#c52033"/>
<rect x="46.4" y="233.1" width="17.6" height="62.5" fill="#f7941d"/>
<rect x="46.4" y="295.5" width="17.6" height="37" fill="#bdbcc2"/>
<rect x="68.7" y="205" width="17.6" height="42.1" fill="#c52033"/>
<rect x="68.7" y="247.1" width="17.6" height="44.6" fill="#f7941d"/>
<rect x="68.7" y="291.7" width="17.6" height="40.8" fill="#bdbcc2"/>
<line x1="41.8" y1="205" x2="41.8" y2="333.4" stroke="#231f20" stroke-width="1.25"/>
<line x1="41.2" y1="332.9" x2="90.9" y2="332.9" stroke="#231f20" stroke-width="1.3"/>
<line x1="39" y1="307" x2="41.6" y2="307" stroke="#231f20" stroke-width="0.9"/>
<text x="35.9" y="309.6" font-size="7.4" text-anchor="end" letter-spacing="0.25">20</text>
<line x1="39" y1="281.5" x2="41.6" y2="281.5" stroke="#231f20" stroke-width="0.9"/>
<text x="35.9" y="284.1" font-size="7.4" text-anchor="end" letter-spacing="0.25">40</text>
<line x1="39" y1="256" x2="41.6" y2="256" stroke="#231f20" stroke-width="0.9"/>
<text x="35.9" y="258.6" font-size="7.4" text-anchor="end" letter-spacing="0.25">60</text>
<line x1="39" y1="230.5" x2="41.6" y2="230.5" stroke="#231f20" stroke-width="0.9"/>
<text x="35.9" y="233.1" font-size="7.4" text-anchor="end" letter-spacing="0.25">80</text>
<line x1="39" y1="205" x2="41.6" y2="205" stroke="#231f20" stroke-width="0.9"/>
<text x="35.9" y="207.6" font-size="7.4" text-anchor="end" letter-spacing="0.25">100</text>
<text x="21.7" y="303" font-size="9.8" textLength="68" lengthAdjust="spacingAndGlyphs" transform="rotate(-90 21.7 303)" stroke-width="0.5" word-spacing="1.6">% of anemic individuals</text>
<text x="55" y="342.1" font-size="7" text-anchor="middle" textLength="14.3" lengthAdjust="spacingAndGlyphs">&lt;60</text>
<text x="77.7" y="342.1" font-size="7" text-anchor="middle" textLength="13.2" lengthAdjust="spacingAndGlyphs">60+</text>
<text x="49.8" y="355.3" font-size="9.4" textLength="10.2" lengthAdjust="spacingAndGlyphs" stroke-width="0.5">Age</text>
<text x="62.6" y="355.3" font-size="9.4" textLength="20.0" lengthAdjust="spacingAndGlyphs" stroke-width="0.5">(years)</text>
<rect x="48.2" y="368.5" width="7.2" height="7" fill="#c52033"/>
<text x="59.9" y="374.5" font-size="7.2">Persistent</text>
<rect x="48.2" y="380.5" width="7.2" height="7" fill="#f7941d"/>
<text x="59.9" y="386.5" font-size="7.2">Corrected</text>
<rect x="48.2" y="392.6" width="7.2" height="7" fill="#bdbcc2"/>
<text x="59.9" y="398.6" font-size="7.2">No data</text>
<text x="7.5" y="201" font-size="10.8" font-weight="bold" fill="#000">D</text>
<rect x="181.3" y="205" width="17.6" height="39.5" fill="#87a8c5"/>
<rect x="181.3" y="244.5" width="17.6" height="49.7" fill="#0e5185"/>
<rect x="181.3" y="294.2" width="17.6" height="38.2" fill="#bdbcc2"/>
<rect x="203.7" y="205" width="17.6" height="44" fill="#87a8c5"/>
<rect x="203.7" y="249" width="17.6" height="51.6" fill="#0e5185"/>
<rect x="203.7" y="300.6" width="17.6" height="31.9" fill="#bdbcc2"/>
<line x1="176.7" y1="205" x2="176.7" y2="333.4" stroke="#231f20" stroke-width="1.25"/>
<line x1="176.1" y1="332.9" x2="225.2" y2="332.9" stroke="#231f20" stroke-width="1.3"/>
<line x1="173.9" y1="307" x2="176.5" y2="307" stroke="#231f20" stroke-width="0.9"/>
<text x="170.8" y="309.6" font-size="7.4" text-anchor="end" letter-spacing="0.25">20</text>
<line x1="173.9" y1="281.5" x2="176.5" y2="281.5" stroke="#231f20" stroke-width="0.9"/>
<text x="170.8" y="284.1" font-size="7.4" text-anchor="end" letter-spacing="0.25">40</text>
<line x1="173.9" y1="256" x2="176.5" y2="256" stroke="#231f20" stroke-width="0.9"/>
<text x="170.8" y="258.6" font-size="7.4" text-anchor="end" letter-spacing="0.25">60</text>
<line x1="173.9" y1="230.5" x2="176.5" y2="230.5" stroke="#231f20" stroke-width="0.9"/>
<text x="170.8" y="233.1" font-size="7.4" text-anchor="end" letter-spacing="0.25">80</text>
<line x1="173.9" y1="205" x2="176.5" y2="205" stroke="#231f20" stroke-width="0.9"/>
<text x="170.8" y="207.6" font-size="7.4" text-anchor="end" letter-spacing="0.25">100</text>
<text x="144.6" y="317.8" font-size="9.8" textLength="98" lengthAdjust="spacingAndGlyphs" transform="rotate(-90 144.6 317.8)" stroke-width="0.5" word-spacing="1.6">% of thrombocytopenic individuals</text>
<text x="189.9" y="342.1" font-size="7" text-anchor="middle" textLength="14.3" lengthAdjust="spacingAndGlyphs">&lt;60</text>
<text x="212.7" y="342.1" font-size="7" text-anchor="middle" textLength="13.2" lengthAdjust="spacingAndGlyphs">60+</text>
<text x="184.8" y="355.3" font-size="9.4" textLength="10.2" lengthAdjust="spacingAndGlyphs" stroke-width="0.5">Age</text>
<text x="197.6" y="355.3" font-size="9.4" textLength="20.0" lengthAdjust="spacingAndGlyphs" stroke-width="0.5">(years)</text>
<rect x="184.6" y="368.5" width="7.2" height="7" fill="#87a8c5"/>
<text x="196.8" y="374.5" font-size="7.2">Persistent</text>
<rect x="184.6" y="380.5" width="7.2" height="7" fill="#0e5185"/>
<text x="196.8" y="386.5" font-size="7.2">Corrected</text>
<rect x="184.6" y="392.6" width="7.2" height="7" fill="#bdbcc2"/>
<text x="196.8" y="398.6" font-size="7.2">No data</text>
<text x="129.5" y="201" font-size="10.8" font-weight="bold" fill="#000">E</text>
<rect x="305.3" y="205.9" width="17.6" height="34.4" fill="#3db54e"/>
<rect x="305.3" y="240.3" width="17.6" height="56.7" fill="#106a52"/>
<rect x="305.3" y="297.1" width="17.6" height="36.3" fill="#bdbcc2"/>
<rect x="327.6" y="205.9" width="17.6" height="38.2" fill="#3db54e"/>
<rect x="327.6" y="244.2" width="17.6" height="64.4" fill="#106a52"/>
<rect x="327.6" y="308.5" width="17.6" height="24.9" fill="#bdbcc2"/>
<line x1="300.8" y1="205.5" x2="300.8" y2="334.3" stroke="#231f20" stroke-width="1.25"/>
<line x1="300.2" y1="333.8" x2="349.8" y2="333.8" stroke="#231f20" stroke-width="1.3"/>
<line x1="298" y1="307.5" x2="300.6" y2="307.5" stroke="#231f20" stroke-width="0.9"/>
<text x="294.9" y="309.6" font-size="7.4" text-anchor="end" letter-spacing="0.25">20</text>
<line x1="298" y1="282" x2="300.6" y2="282" stroke="#231f20" stroke-width="0.9"/>
<text x="294.9" y="284.1" font-size="7.4" text-anchor="end" letter-spacing="0.25">40</text>
<line x1="298" y1="256.5" x2="300.6" y2="256.5" stroke="#231f20" stroke-width="0.9"/>
<text x="294.9" y="258.6" font-size="7.4" text-anchor="end" letter-spacing="0.25">60</text>
<line x1="298" y1="231" x2="300.6" y2="231" stroke="#231f20" stroke-width="0.9"/>
<text x="294.9" y="233.1" font-size="7.4" text-anchor="end" letter-spacing="0.25">80</text>
<line x1="298" y1="205.5" x2="300.6" y2="205.5" stroke="#231f20" stroke-width="0.9"/>
<text x="294.9" y="207.6" font-size="7.4" text-anchor="end" letter-spacing="0.25">100</text>
<text x="279.3" y="310.2" font-size="9.8" textLength="81" lengthAdjust="spacingAndGlyphs" transform="rotate(-90 279.3 310.2)" stroke-width="0.5" word-spacing="1.6">% of neutropenic individuals</text>
<text x="313.9" y="342.1" font-size="7" text-anchor="middle" textLength="14.3" lengthAdjust="spacingAndGlyphs">&lt;60</text>
<text x="336.6" y="342.1" font-size="7" text-anchor="middle" textLength="13.2" lengthAdjust="spacingAndGlyphs">60+</text>
<text x="308.8" y="355.3" font-size="9.4" textLength="10.2" lengthAdjust="spacingAndGlyphs" stroke-width="0.5">Age</text>
<text x="321.6" y="355.3" font-size="9.4" textLength="20.0" lengthAdjust="spacingAndGlyphs" stroke-width="0.5">(years)</text>
<rect x="308.2" y="368.5" width="7.2" height="7" fill="#3db54e"/>
<text x="319.9" y="374.5" font-size="7.2">Persistent</text>
<rect x="308.2" y="380.5" width="7.2" height="7" fill="#106a52"/>
<text x="319.9" y="386.5" font-size="7.2">Corrected</text>
<rect x="308.2" y="392.6" width="7.2" height="7" fill="#bdbcc2"/>
<text x="319.9" y="398.6" font-size="7.2">No data</text>
<text x="266" y="201" font-size="10.8" font-weight="bold" fill="#000">F</text>
<rect x="426.5" y="205.9" width="17.4" height="53.6" fill="#5c286c"/>
<rect x="426.5" y="259.4" width="17.4" height="40.8" fill="#8786bd"/>
<rect x="426.5" y="300.2" width="17.4" height="33.1" fill="#bdbcc2"/>
<rect x="448.6" y="205.9" width="17.4" height="54.8" fill="#5c286c"/>
<rect x="448.6" y="260.7" width="17.4" height="36.3" fill="#8786bd"/>
<rect x="448.6" y="297.1" width="17.4" height="36.3" fill="#bdbcc2"/>
<line x1="421.5" y1="205.5" x2="421.5" y2="334.3" stroke="#231f20" stroke-width="1.25"/>
<line x1="420.9" y1="333.8" x2="470.4" y2="333.8" stroke="#231f20" stroke-width="1.3"/>
<line x1="418.7" y1="307.5" x2="421.3" y2="307.5" stroke="#231f20" stroke-width="0.9"/>
<text x="415.6" y="309.6" font-size="7.4" text-anchor="end" letter-spacing="0.25">20</text>
<line x1="418.7" y1="282" x2="421.3" y2="282" stroke="#231f20" stroke-width="0.9"/>
<text x="415.6" y="284.1" font-size="7.4" text-anchor="end" letter-spacing="0.25">40</text>
<line x1="418.7" y1="256.5" x2="421.3" y2="256.5" stroke="#231f20" stroke-width="0.9"/>
<text x="415.6" y="258.6" font-size="7.4" text-anchor="end" letter-spacing="0.25">60</text>
<line x1="418.7" y1="231" x2="421.3" y2="231" stroke="#231f20" stroke-width="0.9"/>
<text x="415.6" y="233.1" font-size="7.4" text-anchor="end" letter-spacing="0.25">80</text>
<line x1="418.7" y1="205.5" x2="421.3" y2="205.5" stroke="#231f20" stroke-width="0.9"/>
<text x="415.6" y="207.6" font-size="7.4" text-anchor="end" letter-spacing="0.25">100</text>
<text x="388.6" y="299.5" font-size="9.8" textLength="59.7" lengthAdjust="spacingAndGlyphs" transform="rotate(-90 388.6 299.5)" stroke-width="0.5" word-spacing="1.6">% of individuals with</text>
<text x="399.4" y="301.3" font-size="9.8" textLength="63.3" lengthAdjust="spacingAndGlyphs" transform="rotate(-90 399.4 301.3)" stroke-width="0.5" word-spacing="1.6">multilineage cytopenia</text>
<text x="435" y="342.1" font-size="7" text-anchor="middle" textLength="14.3" lengthAdjust="spacingAndGlyphs">&lt;60</text>
<text x="457.5" y="342.1" font-size="7" text-anchor="middle" textLength="13.2" lengthAdjust="spacingAndGlyphs">60+</text>
<text x="429.8" y="355.3" font-size="9.4" textLength="10.2" lengthAdjust="spacingAndGlyphs" stroke-width="0.5">Age</text>
<text x="442.6" y="355.3" font-size="9.4" textLength="20.0" lengthAdjust="spacingAndGlyphs" stroke-width="0.5">(years)</text>
<rect x="422.4" y="368.5" width="7.2" height="7" fill="#5c286c"/>
<text x="435.1" y="374.5" font-size="7.2" textLength="77.9" lengthAdjust="spacingAndGlyphs">&#8805;1 cytopenia at follow-up</text>
<rect x="422.4" y="380.5" width="7.2" height="7" fill="#8786bd"/>
<text x="435.1" y="386.5" font-size="7.2" textLength="79.1" lengthAdjust="spacingAndGlyphs">No cytopenia at follow-up</text>
<rect x="422.4" y="392.6" width="7.2" height="7" fill="#bdbcc2"/>
<text x="435.1" y="398.6" font-size="7.2">No data</text>
<text x="374.6" y="201" font-size="10.8" font-weight="bold" fill="#000">G</text>
<rect x="0.5" y="0.5" width="519" height="406" fill="none" stroke="#231f20" stroke-width="1.2"/>
</svg></body></html>
